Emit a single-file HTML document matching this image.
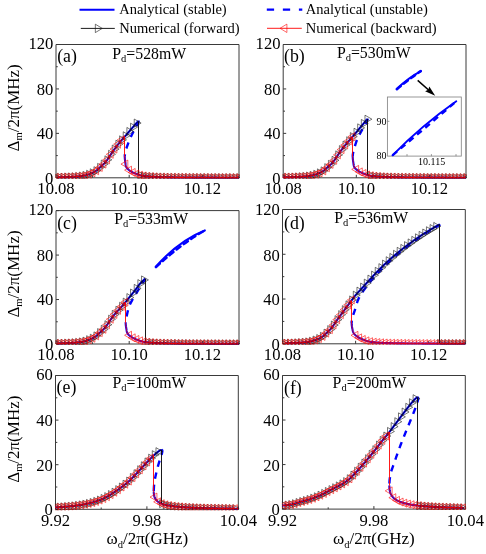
<!DOCTYPE html>
<html><head><meta charset="utf-8"><title>figure</title>
<style>html,body{margin:0;padding:0;background:#fff}svg{display:block;will-change:transform}text{font-family:"Liberation Serif",serif}</style></head>
<body>
<svg width="486" height="554" viewBox="0 0 486 554" font-family='"Liberation Serif", serif' fill="#000">
<rect width="486" height="554" fill="#fff"/>
<path d="M79.5 9.8H114.5" stroke="#0000ff" stroke-width="2.1" fill="none"/>
<path d="M266.8 9.7H302.3" stroke="#0000ff" stroke-width="2.3" stroke-dasharray="7.3 8.75" fill="none"/>
<path d="M80.8 28.4H114.8" stroke="#000000" stroke-width="0.9" fill="none"/>
<path d="M95.35 24.2 L95.35 32.6 L102.25 28.4Z" stroke="#1a1a1a" stroke-width="0.6" fill="none"/>
<path d="M267 28.3H301.8" stroke="#ff0000" stroke-width="0.9" fill="none"/>
<path d="M286.9 24.1 L286.9 32.5 L280 28.3Z" stroke="#ff0000" stroke-width="0.6" fill="none"/>
<text x="119.2" y="14.2" font-size="14.5">Analytical (stable)</text>
<text x="119.2" y="32.7" font-size="14.5">Numerical (forward)</text>
<text x="305.8" y="14.2" font-size="14.5">Analytical (unstable)</text>
<text x="305.8" y="32.7" font-size="14.5">Numerical (backward)</text>
<path d="M56 44.5H239V177.8H56ZM56 177.8h3M56 133.37h3M56 88.93h3M56 44.5h3M56 155.58h1.8M56 111.15h1.8M56 66.72h1.8M56 177.8v-3M129.2 177.8v-3M202.4 177.8v-3M92.6 177.8v-1.8M165.8 177.8v-1.8M239 177.8v-1.8" fill="none" stroke="#3a3a3a" stroke-width="1"/>
<text x="53.3" y="183.5" text-anchor="end" font-size="16.6">0</text>
<text x="53.3" y="139.07" text-anchor="end" font-size="16.6">40</text>
<text x="53.3" y="94.63" text-anchor="end" font-size="16.6">80</text>
<text x="53.3" y="49.3" text-anchor="end" font-size="16.6">120</text>
<text x="56" y="194" text-anchor="middle" font-size="16.6">10.08</text>
<text x="129.2" y="194" text-anchor="middle" font-size="16.6">10.10</text>
<text x="202.4" y="194" text-anchor="middle" font-size="16.6">10.12</text>
<text x="57.2" y="61.7" font-size="17.8">(a)</text>
<text x="112.3" y="58.5" font-size="15.8">P<tspan font-size="10.5" dy="3.1">d</tspan><tspan dy="-3.1">=528mW</tspan></text>
<path d="M283.2 44.5H466V177.8H283.2ZM283.2 177.8h3M283.2 133.37h3M283.2 88.93h3M283.2 44.5h3M283.2 155.58h1.8M283.2 111.15h1.8M283.2 66.72h1.8M283.2 177.8v-3M356.32 177.8v-3M429.44 177.8v-3M319.76 177.8v-1.8M392.88 177.8v-1.8M466 177.8v-1.8" fill="none" stroke="#3a3a3a" stroke-width="1"/>
<text x="280.5" y="183.5" text-anchor="end" font-size="16.6">0</text>
<text x="280.5" y="139.07" text-anchor="end" font-size="16.6">40</text>
<text x="280.5" y="94.63" text-anchor="end" font-size="16.6">80</text>
<text x="280.5" y="49.3" text-anchor="end" font-size="16.6">120</text>
<text x="283.2" y="194" text-anchor="middle" font-size="16.6">10.08</text>
<text x="356.32" y="194" text-anchor="middle" font-size="16.6">10.10</text>
<text x="429.44" y="194" text-anchor="middle" font-size="16.6">10.12</text>
<text x="284" y="61.7" font-size="17.8">(b)</text>
<text x="336.9" y="57.6" font-size="15.8">P<tspan font-size="10.5" dy="3.1">d</tspan><tspan dy="-3.1">=530mW</tspan></text>
<path d="M56 210.6H239V344H56ZM56 344h3M56 299.53h3M56 255.07h3M56 210.6h3M56 321.77h1.8M56 277.3h1.8M56 232.83h1.8M56 344v-3M129.2 344v-3M202.4 344v-3M92.6 344v-1.8M165.8 344v-1.8M239 344v-1.8" fill="none" stroke="#3a3a3a" stroke-width="1"/>
<text x="53.3" y="349.7" text-anchor="end" font-size="16.6">0</text>
<text x="53.3" y="305.23" text-anchor="end" font-size="16.6">40</text>
<text x="53.3" y="260.77" text-anchor="end" font-size="16.6">80</text>
<text x="53.3" y="215.4" text-anchor="end" font-size="16.6">120</text>
<text x="56" y="360.2" text-anchor="middle" font-size="16.6">10.08</text>
<text x="129.2" y="360.2" text-anchor="middle" font-size="16.6">10.10</text>
<text x="202.4" y="360.2" text-anchor="middle" font-size="16.6">10.12</text>
<text x="57.2" y="228.7" font-size="17.8">(c)</text>
<text x="114.2" y="223.8" font-size="15.8">P<tspan font-size="10.5" dy="3.1">d</tspan><tspan dy="-3.1">=533mW</tspan></text>
<path d="M282.5 209.5H465.3V343.8H282.5ZM282.5 343.8h3M282.5 299.03h3M282.5 254.27h3M282.5 209.5h3M282.5 321.42h1.8M282.5 276.65h1.8M282.5 231.88h1.8M282.5 343.8v-3M355.62 343.8v-3M428.74 343.8v-3M319.06 343.8v-1.8M392.18 343.8v-1.8M465.3 343.8v-1.8" fill="none" stroke="#3a3a3a" stroke-width="1"/>
<text x="279.8" y="349.7" text-anchor="end" font-size="16.6">0</text>
<text x="279.8" y="305.23" text-anchor="end" font-size="16.6">40</text>
<text x="279.8" y="260.77" text-anchor="end" font-size="16.6">80</text>
<text x="279.8" y="215.4" text-anchor="end" font-size="16.6">120</text>
<text x="282.5" y="360.2" text-anchor="middle" font-size="16.6">10.08</text>
<text x="355.62" y="360.2" text-anchor="middle" font-size="16.6">10.10</text>
<text x="428.74" y="360.2" text-anchor="middle" font-size="16.6">10.12</text>
<text x="284" y="228.7" font-size="17.8">(d)</text>
<text x="334.3" y="222.8" font-size="15.8">P<tspan font-size="10.5" dy="3.1">d</tspan><tspan dy="-3.1">=536mW</tspan></text>
<path d="M55.5 375.5H238.3V509.3H55.5ZM55.5 509.3h3M55.5 464.7h3M55.5 420.1h3M55.5 375.5h3M55.5 487h1.8M55.5 442.4h1.8M55.5 397.8h1.8M55.5 509.3v-3M146.9 509.3v-3M238.3 509.3v-3M101.2 509.3v-1.8M192.6 509.3v-1.8" fill="none" stroke="#3a3a3a" stroke-width="1"/>
<text x="52.8" y="515.2" text-anchor="end" font-size="16.6">0</text>
<text x="52.8" y="470.53" text-anchor="end" font-size="16.6">20</text>
<text x="52.8" y="425.87" text-anchor="end" font-size="16.6">40</text>
<text x="52.8" y="380.3" text-anchor="end" font-size="16.6">60</text>
<text x="55.5" y="525.7" text-anchor="middle" font-size="16.6">9.92</text>
<text x="146.9" y="525.7" text-anchor="middle" font-size="16.6">9.98</text>
<text x="238.3" y="525.7" text-anchor="middle" font-size="16.6">10.04</text>
<text x="56.6" y="393.2" font-size="17.8">(e)</text>
<text x="112.5" y="388" font-size="15.8">P<tspan font-size="10.5" dy="3.1">d</tspan><tspan dy="-3.1">=100mW</tspan></text>
<path d="M282.5 375.5H465.3V509.1H282.5ZM282.5 509.1h3M282.5 464.57h3M282.5 420.03h3M282.5 375.5h3M282.5 486.83h1.8M282.5 442.3h1.8M282.5 397.77h1.8M282.5 509.1v-3M373.9 509.1v-3M465.3 509.1v-3M328.2 509.1v-1.8M419.6 509.1v-1.8" fill="none" stroke="#3a3a3a" stroke-width="1"/>
<text x="279.8" y="515.2" text-anchor="end" font-size="16.6">0</text>
<text x="279.8" y="470.53" text-anchor="end" font-size="16.6">20</text>
<text x="279.8" y="425.87" text-anchor="end" font-size="16.6">40</text>
<text x="279.8" y="380.3" text-anchor="end" font-size="16.6">60</text>
<text x="282.5" y="525.7" text-anchor="middle" font-size="16.6">9.92</text>
<text x="373.9" y="525.7" text-anchor="middle" font-size="16.6">9.98</text>
<text x="465.3" y="525.7" text-anchor="middle" font-size="16.6">10.04</text>
<text x="284" y="393.5" font-size="17.8">(f)</text>
<text x="332.6" y="388" font-size="15.8">P<tspan font-size="10.5" dy="3.1">d</tspan><tspan dy="-3.1">=200mW</tspan></text>
<clipPath id="c0"><rect x="55.4" y="44.5" width="184.5" height="134.15"/></clipPath>
<g clip-path="url(#c0)" fill="none" stroke-linejoin="round">
<path d="M57.54 177.33 L59.14 177.3 L60.6 177.27 L61.93 177.24 L63.15 177.21 L64.28 177.18 L65.33 177.15 L66.3 177.12 L67.2 177.09 L68.05 177.06 L68.84 177.03 L69.59 176.99 L70.29 176.96 L70.96 176.93 L71.59 176.9 L72.19 176.87 L73.3 176.81 L74.3 176.75 L75.22 176.69 L76.07 176.62 L76.85 176.56 L77.57 176.5 L78.25 176.44 L78.88 176.38 L79.46 176.32 L80.02 176.26 L80.79 176.16 L81.49 176.07 L82.14 175.98 L82.74 175.89 L83.3 175.8 L83.83 175.71 L84.47 175.58 L85.06 175.46 L85.61 175.34 L86.1 175.22 L86.66 175.07 L87.16 174.92 L87.62 174.77 L88.12 174.59 L88.58 174.4 L89.03 174.22 L89.46 174.04 L89.89 173.86 L90.32 173.69 L90.77 173.51 L91.24 173.33 L91.7 173.15 L92.14 172.97 L92.62 172.76 L93.07 172.56 L93.49 172.35 L93.9 172.15 L94.33 171.91 L94.75 171.68 L95.14 171.44 L95.51 171.21 L95.9 170.95 L96.28 170.69 L96.63 170.43 L97 170.14 L97.36 169.85 L97.7 169.57 L98.02 169.28 L98.35 168.97 L98.67 168.66 L98.97 168.35 L99.28 168.04 L99.6 167.73 L99.92 167.43 L100.25 167.12 L100.58 166.82 L100.91 166.51 L101.25 166.21 L101.59 165.91 L101.92 165.61 L102.26 165.31 L102.59 165.01 L102.91 164.71 L103.23 164.42 L103.55 164.12 L103.85 163.83 L104.18 163.51 L104.49 163.19 L104.79 162.88 L105.08 162.56 L105.37 162.22 L105.65 161.88 L105.93 161.55 L106.19 161.21 L106.47 160.85 L106.74 160.49 L107.01 160.14 L107.26 159.78 L107.52 159.43 L107.78 159.06 L108.04 158.68 L108.29 158.31 L108.54 157.94 L108.78 157.57 L109.02 157.21 L109.26 156.84 L109.51 156.46 L109.75 156.08 L110 155.69 L110.24 155.32 L110.49 154.94 L110.73 154.57 L110.98 154.19 L111.22 153.82 L111.47 153.46 L111.72 153.09 L111.97 152.73 L112.21 152.37 L112.46 152.01 L112.71 151.66 L112.96 151.3 L113.21 150.95 L113.48 150.58 L113.74 150.21 L114 149.85 L114.27 149.48 L114.53 149.12 L114.79 148.76 L115.06 148.41 L115.32 148.05 L115.58 147.7 L115.84 147.36 L116.1 147.01 L116.35 146.67 L116.63 146.31 L116.9 145.95 L117.16 145.59 L117.43 145.24 L117.7 144.89 L117.96 144.55 L118.22 144.2 L118.48 143.86 L118.75 143.52 L119.02 143.19 L119.28 142.85 L119.56 142.52 L119.83 142.2 L120.12 141.86 L120.41 141.52 L120.7 141.18 L120.99 140.85 L121.28 140.52 L121.57 140.19 L121.86 139.87 L122.15 139.55 L122.43 139.23 L122.73 138.9 L123.02 138.57 L123.32 138.24 L123.6 137.92 L123.89 137.61 L124.19 137.28 L124.48 136.95 L124.77 136.63 L125.05 136.31 L125.34 135.98 L125.63 135.65 L125.91 135.33 L126.2 134.99 L126.49 134.67 L126.77 134.34 L127.05 134.01 L127.33 133.68 L127.61 133.34 L127.89 133.01 L128.17 132.67 L128.45 132.33 L128.73 132 L129.01 131.67 L129.29 131.34 L129.57 131.01 L129.85 130.68 L130.13 130.36 L130.41 130.03 L130.69 129.7 L130.97 129.38 L131.25 129.05 L131.53 128.72 L131.82 128.4 L132.1 128.07 L132.39 127.74 L132.67 127.41 L132.96 127.08 L133.24 126.75 L133.53 126.43 L133.81 126.1 L134.09 125.78 L134.38 125.45 L134.66 125.13 L134.94 124.81 L135.23 124.48 L135.51 124.16 L135.8 123.84 L136.08 123.52 L136.37 123.2 L136.66 122.89 L136.95 122.57 L137.24 122.26 L137.54 121.96 L137.85 121.67 L138.19 121.4 L138.5 121.26" stroke="#0000ff" stroke-width="2.1"/>
<path d="M124.77 156.82 L124.78 157.43 L124.8 158.01 L124.84 158.58 L124.89 159.15 L124.95 159.71 L125.02 160.26 L125.09 160.8 L125.17 161.34 L125.25 161.88 L125.34 162.4 L125.42 162.95 L125.48 163.51 L125.54 164.07 L125.6 164.63 L125.68 165.17 L125.79 165.69 L125.93 166.18 L126.1 166.62 L126.29 167.04 L126.51 167.43 L126.76 167.79 L127.02 168.12 L127.33 168.46 L127.64 168.77 L127.96 169.08 L128.3 169.4 L128.63 169.68 L128.97 169.97 L129.33 170.26 L129.68 170.52 L130.04 170.78 L130.42 171.04 L130.82 171.3 L131.2 171.53 L131.6 171.76 L132.02 172 L132.46 172.23 L132.88 172.44 L133.32 172.65 L133.78 172.85 L134.27 173.06 L134.72 173.24 L135.19 173.42 L135.65 173.6 L136.09 173.78 L136.52 173.95 L136.95 174.13 L137.39 174.31 L137.84 174.49 L138.32 174.68 L138.84 174.86 L139.32 175.01 L139.86 175.16 L140.46 175.31 L140.99 175.43 L141.57 175.55 L142.2 175.68 L142.71 175.77 L143.26 175.86 L143.84 175.95 L144.48 176.04 L145.16 176.13 L145.91 176.23 L146.73 176.32 L147.32 176.38 L147.94 176.44 L148.62 176.5 L149.34 176.56 L150.12 176.62 L150.97 176.69 L151.89 176.75 L152.9 176.81 L154 176.87 L154.6 176.9 L155.23 176.93 L155.9 176.96 L156.6 176.99 L157.35 177.03 L158.14 177.06 L158.99 177.09 L159.9 177.12 L160.87 177.15 L161.91 177.18 L163.04 177.21 L164.26 177.24 L165.59 177.27 L167.05 177.3 L168.65 177.33 L170.43 177.37 L172.4 177.4 L174.62 177.43 L177.13 177.46 L180 177.49 L183.35 177.52 L184.3 177.53 L185.24 177.53 L186.18 177.54 L187.13 177.55 L188.07 177.55 L189.01 177.56 L189.96 177.57 L190.9 177.57 L191.84 177.58 L192.79 177.58 L193.73 177.59 L194.67 177.59 L195.62 177.6 L196.56 177.6 L197.5 177.61 L198.44 177.61 L199.39 177.61 L200.33 177.62 L201.27 177.62 L202.22 177.63 L203.16 177.63 L204.1 177.63 L205.05 177.64 L205.99 177.64 L206.93 177.64 L207.88 177.65 L208.82 177.65 L209.76 177.65 L210.71 177.66 L211.65 177.66 L212.59 177.66 L213.53 177.66 L214.48 177.67 L215.42 177.67 L216.36 177.67 L217.31 177.67 L218.25 177.68 L219.19 177.68 L220.14 177.68 L221.08 177.68 L222.02 177.68 L222.97 177.69 L223.91 177.69 L224.85 177.69 L225.8 177.69 L226.74 177.69 L227.68 177.69 L228.63 177.7 L229.57 177.7 L230.51 177.7 L231.45 177.7 L232.4 177.7 L233.34 177.7 L234.28 177.71 L235.23 177.71 L236.17 177.71 L237.11 177.71 L238.06 177.71 L239 177.71" stroke="#0000ff" stroke-width="2.1"/>
<path d="M138.5 121.26 L138.54 121.27 L138.56 121.85 L138.41 122.3 L138.24 122.73 L138.05 123.15 L137.86 123.56 L137.66 123.97 L137.46 124.37 L137.25 124.76 L137.04 125.16 L136.83 125.55 L136.62 125.94 L136.41 126.34 L136.19 126.73 L135.97 127.12 L135.76 127.5 L135.54 127.89 L135.32 128.29 L135.1 128.67 L134.89 129.06 L134.67 129.44 L134.45 129.84 L134.24 130.23 L134.02 130.62 L133.81 131.01 L133.59 131.41 L133.38 131.8 L133.16 132.21 L132.95 132.6 L132.74 133.01 L132.54 133.41 L132.33 133.82 L132.12 134.22 L131.92 134.62 L131.71 135.04 L131.51 135.44 L131.31 135.86 L131.11 136.28 L130.92 136.69 L130.73 137.1 L130.54 137.53 L130.35 137.96 L130.16 138.37 L129.98 138.8 L129.8 139.23 L129.62 139.66 L129.44 140.1 L129.27 140.53 L129.1 140.97 L128.93 141.41 L128.76 141.86 L128.59 142.31 L128.43 142.74 L128.26 143.19 L128.1 143.64 L127.93 144.09 L127.77 144.53 L127.6 144.97 L127.43 145.42 L127.26 145.87 L127.1 146.33 L126.94 146.77 L126.78 147.21 L126.62 147.66 L126.47 148.12 L126.32 148.57 L126.17 149.04 L126.03 149.5 L125.89 149.97 L125.75 150.45 L125.62 150.93 L125.5 151.41 L125.38 151.9 L125.27 152.39 L125.17 152.91 L125.07 153.43 L124.99 153.96 L124.91 154.5 L124.85 155.06 L124.81 155.62 L124.78 156.22 L124.77 156.82" stroke="#0000ff" stroke-width="2.4" stroke-dasharray="6.4 5.9" stroke-dashoffset="1" stroke-linecap="butt"/>
<path d="M57.54 177.33 L59.14 177.3 L60.6 177.27 L61.93 177.24 L63.15 177.21 L64.28 177.18 L65.33 177.15 L66.3 177.12 L67.2 177.09 L68.05 177.06 L68.84 177.03 L69.59 176.99 L70.29 176.96 L70.96 176.93 L71.59 176.9 L72.19 176.87 L73.3 176.81 L74.3 176.75 L75.22 176.69 L76.07 176.62 L76.85 176.56 L77.57 176.5 L78.25 176.44 L78.88 176.38 L79.46 176.32 L80.02 176.26 L80.79 176.16 L81.49 176.07 L82.14 175.98 L82.74 175.89 L83.3 175.8 L83.83 175.71 L84.47 175.58 L85.06 175.46 L85.61 175.34 L86.1 175.22 L86.66 175.07 L87.16 174.92 L87.62 174.77 L88.12 174.59 L88.58 174.4 L89.03 174.22 L89.46 174.04 L89.89 173.86 L90.32 173.69 L90.77 173.51 L91.24 173.33 L91.7 173.15 L92.14 172.97 L92.62 172.76 L93.07 172.56 L93.49 172.35 L93.9 172.15 L94.33 171.91 L94.75 171.68 L95.14 171.44 L95.51 171.21 L95.9 170.95 L96.28 170.69 L96.63 170.43 L97 170.14 L97.36 169.85 L97.7 169.57 L98.02 169.28 L98.35 168.97 L98.67 168.66 L98.97 168.35 L99.28 168.04 L99.6 167.73 L99.92 167.43 L100.25 167.12 L100.58 166.82 L100.91 166.51 L101.25 166.21 L101.59 165.91 L101.92 165.61 L102.26 165.31 L102.59 165.01 L102.91 164.71 L103.23 164.42 L103.55 164.12 L103.85 163.83 L104.18 163.51 L104.49 163.19 L104.79 162.88 L105.08 162.56 L105.37 162.22 L105.65 161.88 L105.93 161.55 L106.19 161.21 L106.47 160.85 L106.74 160.49 L107.01 160.14 L107.26 159.78 L107.52 159.43 L107.78 159.06 L108.04 158.68 L108.29 158.31 L108.54 157.94 L108.78 157.57 L109.02 157.21 L109.26 156.84 L109.51 156.46 L109.75 156.08 L110 155.69 L110.24 155.32 L110.49 154.94 L110.73 154.57 L110.98 154.19 L111.22 153.82 L111.47 153.46 L111.72 153.09 L111.97 152.73 L112.21 152.37 L112.46 152.01 L112.71 151.66 L112.96 151.3 L113.21 150.95 L113.48 150.58 L113.74 150.21 L114 149.85 L114.27 149.48 L114.53 149.12 L114.79 148.76 L115.06 148.41 L115.32 148.05 L115.58 147.7 L115.84 147.36 L116.1 147.01 L116.35 146.67 L116.63 146.31 L116.9 145.95 L117.16 145.59 L117.43 145.24 L117.7 144.89 L117.96 144.55 L118.22 144.2 L118.48 143.86 L118.75 143.52 L119.02 143.19 L119.28 142.85 L119.56 142.52 L119.83 142.2 L120.12 141.86 L120.41 141.52 L120.7 141.18 L120.99 140.85 L121.28 140.52 L121.57 140.19 L121.86 139.87 L122.15 139.55 L122.43 139.23 L122.73 138.9 L123.02 138.57 L123.32 138.24 L123.6 137.92 L123.89 137.61 L124.19 137.28 L124.48 136.95 L124.77 136.63 L125.05 136.31 L125.34 135.98 L125.63 135.65 L125.91 135.33 L126.2 134.99 L126.49 134.67 L126.77 134.34 L127.05 134.01 L127.33 133.68 L127.61 133.34 L127.89 133.01 L128.17 132.67 L128.45 132.33 L128.73 132 L129.01 131.67 L129.29 131.34 L129.57 131.01 L129.85 130.68 L130.13 130.36 L130.41 130.03 L130.69 129.7 L130.97 129.38 L131.25 129.05 L131.53 128.72 L131.82 128.4 L132.1 128.07 L132.39 127.74 L132.67 127.41 L132.96 127.08 L133.24 126.75 L133.53 126.43 L133.81 126.1 L134.09 125.78 L134.38 125.45 L134.66 125.13 L134.94 124.81 L135.23 124.48 L135.51 124.16 L135.8 123.84 L136.08 123.52 L136.37 123.2 L136.66 122.89 L136.95 122.57 L137.24 122.26 L137.54 121.96 L137.85 121.67 L138.19 121.4 L138.5 121.26 L138.5 121.26 L138.5 174.74 L138.84 174.86 L139.32 175.01 L139.86 175.16 L140.46 175.31 L140.99 175.43 L141.57 175.55 L142.2 175.68 L142.71 175.77 L143.26 175.86 L143.84 175.95 L144.48 176.04 L145.16 176.13 L145.91 176.23 L146.73 176.32 L147.32 176.38 L147.94 176.44 L148.62 176.5 L149.34 176.56 L150.12 176.62 L150.97 176.69 L151.89 176.75 L152.9 176.81 L154 176.87 L154.6 176.9 L155.23 176.93 L155.9 176.96 L156.6 176.99 L157.35 177.03 L158.14 177.06 L158.99 177.09 L159.9 177.12 L160.87 177.15 L161.91 177.18 L163.04 177.21 L164.26 177.24 L165.59 177.27 L167.05 177.3 L168.65 177.33 L170.43 177.37 L172.4 177.4 L174.62 177.43 L177.13 177.46 L180 177.49 L183.35 177.52 L184.3 177.53 L185.24 177.53 L186.18 177.54 L187.13 177.55 L188.07 177.55 L189.01 177.56 L189.96 177.57 L190.9 177.57 L191.84 177.58 L192.79 177.58 L193.73 177.59 L194.67 177.59 L195.62 177.6 L196.56 177.6 L197.5 177.61 L198.44 177.61 L199.39 177.61 L200.33 177.62 L201.27 177.62 L202.22 177.63 L203.16 177.63 L204.1 177.63 L205.05 177.64 L205.99 177.64 L206.93 177.64 L207.88 177.65 L208.82 177.65 L209.76 177.65 L210.71 177.66 L211.65 177.66 L212.59 177.66 L213.53 177.66 L214.48 177.67 L215.42 177.67 L216.36 177.67 L217.31 177.67 L218.25 177.68 L219.19 177.68 L220.14 177.68 L221.08 177.68 L222.02 177.68 L222.97 177.69 L223.91 177.69 L224.85 177.69 L225.8 177.69 L226.74 177.69 L227.68 177.69 L228.63 177.7 L229.57 177.7 L230.51 177.7 L231.45 177.7 L232.4 177.7 L233.34 177.7 L234.28 177.71 L235.23 177.71 L236.17 177.71 L237.11 177.71 L238.06 177.71 L239 177.71" stroke="#000000" stroke-width="0.9"/>
<path d="M53.7 173.36 L53.7 181.36 L60.6 177.36ZM57.36 173.29 L57.36 181.29 L64.26 177.29ZM61.02 173.21 L61.02 181.21 L67.92 177.21ZM64.68 173.09 L64.68 181.09 L71.58 177.09ZM68.34 172.95 L68.34 180.95 L75.24 176.95ZM72 172.75 L72 180.75 L78.9 176.75ZM75.66 172.47 L75.66 180.47 L82.56 176.47ZM79.32 172.05 L79.32 180.05 L86.22 176.05ZM82.98 171.42 L82.98 179.42 L89.88 175.42ZM86.64 170.26 L86.64 178.26 L93.54 174.26ZM90.3 168.77 L90.3 176.77 L97.2 172.77ZM93.96 166.7 L93.96 174.7 L100.86 170.7ZM97.62 163.43 L97.62 171.43 L104.52 167.43ZM101.28 160.09 L101.28 168.09 L108.18 164.09ZM104.94 155.82 L104.94 163.82 L111.84 159.82ZM108.6 150.31 L108.6 158.31 L115.5 154.31ZM112.26 145.08 L112.26 153.08 L119.16 149.08ZM115.92 140.2 L115.92 148.2 L122.82 144.2ZM119.58 135.84 L119.58 143.84 L126.48 139.84ZM123.24 131.76 L123.24 139.76 L130.14 135.76ZM126.9 127.44 L126.9 135.44 L133.8 131.44ZM130.56 123.19 L130.56 131.19 L137.46 127.19ZM134.22 119.04 L134.22 127.04 L141.12 123.04ZM137.88 171.24 L137.88 179.24 L144.78 175.24ZM141.54 171.95 L141.54 179.95 L148.44 175.95ZM145.2 172.4 L145.2 180.4 L152.1 176.4ZM148.86 172.7 L148.86 180.7 L155.76 176.7ZM152.52 172.91 L152.52 180.91 L159.42 176.91ZM156.18 173.07 L156.18 181.07 L163.08 177.07ZM159.84 173.19 L159.84 181.19 L166.74 177.19ZM163.5 173.28 L163.5 181.28 L170.4 177.28ZM167.16 173.35 L167.16 181.35 L174.06 177.35ZM170.82 173.41 L170.82 181.41 L177.72 177.41ZM174.48 173.45 L174.48 181.45 L181.38 177.45ZM178.14 173.49 L178.14 181.49 L185.04 177.49ZM181.8 173.53 L181.8 181.53 L188.7 177.53ZM185.46 173.55 L185.46 181.55 L192.36 177.55ZM189.12 173.58 L189.12 181.58 L196.02 177.58ZM192.78 173.59 L192.78 181.59 L199.68 177.59ZM196.44 173.61 L196.44 181.61 L203.34 177.61ZM200.1 173.63 L200.1 181.63 L207 177.63ZM203.76 173.64 L203.76 181.64 L210.66 177.64ZM207.42 173.65 L207.42 181.65 L214.32 177.65ZM211.08 173.66 L211.08 181.66 L217.98 177.66ZM214.74 173.67 L214.74 181.67 L221.64 177.67ZM218.4 173.68 L218.4 181.68 L225.3 177.68ZM222.06 173.69 L222.06 181.69 L228.96 177.69ZM225.72 173.7 L225.72 181.7 L232.62 177.7ZM229.38 173.7 L229.38 181.7 L236.28 177.7ZM233.04 173.71 L233.04 181.71 L239.94 177.71ZM236.7 173.71 L236.7 181.71 L243.6 177.71Z" stroke="#1a1a1a" stroke-width="0.6" stroke-linejoin="miter"/>
<path d="M57.54 177.33 L59.14 177.3 L60.6 177.27 L61.93 177.24 L63.15 177.21 L64.28 177.18 L65.33 177.15 L66.3 177.12 L67.2 177.09 L68.05 177.06 L68.84 177.03 L69.59 176.99 L70.29 176.96 L70.96 176.93 L71.59 176.9 L72.19 176.87 L73.3 176.81 L74.3 176.75 L75.22 176.69 L76.07 176.62 L76.85 176.56 L77.57 176.5 L78.25 176.44 L78.88 176.38 L79.46 176.32 L80.02 176.26 L80.79 176.16 L81.49 176.07 L82.14 175.98 L82.74 175.89 L83.3 175.8 L83.83 175.71 L84.47 175.58 L85.06 175.46 L85.61 175.34 L86.1 175.22 L86.66 175.07 L87.16 174.92 L87.62 174.77 L88.12 174.59 L88.58 174.4 L89.03 174.22 L89.46 174.04 L89.89 173.86 L90.32 173.69 L90.77 173.51 L91.24 173.33 L91.7 173.15 L92.14 172.97 L92.62 172.76 L93.07 172.56 L93.49 172.35 L93.9 172.15 L94.33 171.91 L94.75 171.68 L95.14 171.44 L95.51 171.21 L95.9 170.95 L96.28 170.69 L96.63 170.43 L97 170.14 L97.36 169.85 L97.7 169.57 L98.02 169.28 L98.35 168.97 L98.67 168.66 L98.97 168.35 L99.28 168.04 L99.6 167.73 L99.92 167.43 L100.25 167.12 L100.58 166.82 L100.91 166.51 L101.25 166.21 L101.59 165.91 L101.92 165.61 L102.26 165.31 L102.59 165.01 L102.91 164.71 L103.23 164.42 L103.55 164.12 L103.85 163.83 L104.18 163.51 L104.49 163.19 L104.79 162.88 L105.08 162.56 L105.37 162.22 L105.65 161.88 L105.93 161.55 L106.19 161.21 L106.47 160.85 L106.74 160.49 L107.01 160.14 L107.26 159.78 L107.52 159.43 L107.78 159.06 L108.04 158.68 L108.29 158.31 L108.54 157.94 L108.78 157.57 L109.02 157.21 L109.26 156.84 L109.51 156.46 L109.75 156.08 L110 155.69 L110.24 155.32 L110.49 154.94 L110.73 154.57 L110.98 154.19 L111.22 153.82 L111.47 153.46 L111.72 153.09 L111.97 152.73 L112.21 152.37 L112.46 152.01 L112.71 151.66 L112.96 151.3 L113.21 150.95 L113.48 150.58 L113.74 150.21 L114 149.85 L114.27 149.48 L114.53 149.12 L114.79 148.76 L115.06 148.41 L115.32 148.05 L115.58 147.7 L115.84 147.36 L116.1 147.01 L116.35 146.67 L116.63 146.31 L116.9 145.95 L117.16 145.59 L117.43 145.24 L117.7 144.89 L117.96 144.55 L118.22 144.2 L118.48 143.86 L118.75 143.52 L119.02 143.19 L119.28 142.85 L119.56 142.52 L119.83 142.2 L120.12 141.86 L120.41 141.52 L120.7 141.18 L120.99 140.85 L121.28 140.52 L121.57 140.19 L121.86 139.87 L122.15 139.55 L122.43 139.23 L122.73 138.9 L123.02 138.57 L123.32 138.24 L123.6 137.92 L123.89 137.61 L124.19 137.28 L124.48 136.95 L124.77 136.63 L124.5 136.62 L124.5 156.82 L124.77 156.82 L124.78 157.43 L124.8 158.01 L124.84 158.58 L124.89 159.15 L124.95 159.71 L125.02 160.26 L125.09 160.8 L125.17 161.34 L125.25 161.88 L125.34 162.4 L125.42 162.95 L125.48 163.51 L125.54 164.07 L125.6 164.63 L125.68 165.17 L125.79 165.69 L125.93 166.18 L126.1 166.62 L126.29 167.04 L126.51 167.43 L126.76 167.79 L127.02 168.12 L127.33 168.46 L127.64 168.77 L127.96 169.08 L128.3 169.4 L128.63 169.68 L128.97 169.97 L129.33 170.26 L129.68 170.52 L130.04 170.78 L130.42 171.04 L130.82 171.3 L131.2 171.53 L131.6 171.76 L132.02 172 L132.46 172.23 L132.88 172.44 L133.32 172.65 L133.78 172.85 L134.27 173.06 L134.72 173.24 L135.19 173.42 L135.65 173.6 L136.09 173.78 L136.52 173.95 L136.95 174.13 L137.39 174.31 L137.84 174.49 L138.32 174.68 L138.84 174.86 L139.32 175.01 L139.86 175.16 L140.46 175.31 L140.99 175.43 L141.57 175.55 L142.2 175.68 L142.71 175.77 L143.26 175.86 L143.84 175.95 L144.48 176.04 L145.16 176.13 L145.91 176.23 L146.73 176.32 L147.32 176.38 L147.94 176.44 L148.62 176.5 L149.34 176.56 L150.12 176.62 L150.97 176.69 L151.89 176.75 L152.9 176.81 L154 176.87 L154.6 176.9 L155.23 176.93 L155.9 176.96 L156.6 176.99 L157.35 177.03 L158.14 177.06 L158.99 177.09 L159.9 177.12 L160.87 177.15 L161.91 177.18 L163.04 177.21 L164.26 177.24 L165.59 177.27 L167.05 177.3 L168.65 177.33 L170.43 177.37 L172.4 177.4 L174.62 177.43 L177.13 177.46 L180 177.49 L183.35 177.52 L184.3 177.53 L185.24 177.53 L186.18 177.54 L187.13 177.55 L188.07 177.55 L189.01 177.56 L189.96 177.57 L190.9 177.57 L191.84 177.58 L192.79 177.58 L193.73 177.59 L194.67 177.59 L195.62 177.6 L196.56 177.6 L197.5 177.61 L198.44 177.61 L199.39 177.61 L200.33 177.62 L201.27 177.62 L202.22 177.63 L203.16 177.63 L204.1 177.63 L205.05 177.64 L205.99 177.64 L206.93 177.64 L207.88 177.65 L208.82 177.65 L209.76 177.65 L210.71 177.66 L211.65 177.66 L212.59 177.66 L213.53 177.66 L214.48 177.67 L215.42 177.67 L216.36 177.67 L217.31 177.67 L218.25 177.68 L219.19 177.68 L220.14 177.68 L221.08 177.68 L222.02 177.68 L222.97 177.69 L223.91 177.69 L224.85 177.69 L225.8 177.69 L226.74 177.69 L227.68 177.69 L228.63 177.7 L229.57 177.7 L230.51 177.7 L231.45 177.7 L232.4 177.7 L233.34 177.7 L234.28 177.71 L235.23 177.71 L236.17 177.71 L237.11 177.71 L238.06 177.71 L239 177.71" stroke="#ff0000" stroke-width="0.9"/>
<path d="M58.3 173.36 L58.3 181.36 L51.4 177.36ZM61.96 173.29 L61.96 181.29 L55.06 177.29ZM65.62 173.21 L65.62 181.21 L58.72 177.21ZM69.28 173.09 L69.28 181.09 L62.38 177.09ZM72.94 172.95 L72.94 180.95 L66.04 176.95ZM76.6 172.75 L76.6 180.75 L69.7 176.75ZM80.26 172.47 L80.26 180.47 L73.36 176.47ZM83.92 172.05 L83.92 180.05 L77.02 176.05ZM87.58 171.42 L87.58 179.42 L80.68 175.42ZM91.24 170.26 L91.24 178.26 L84.34 174.26ZM94.9 168.77 L94.9 176.77 L88 172.77ZM98.56 166.7 L98.56 174.7 L91.66 170.7ZM102.22 163.43 L102.22 171.43 L95.32 167.43ZM105.88 160.09 L105.88 168.09 L98.98 164.09ZM109.54 155.82 L109.54 163.82 L102.64 159.82ZM113.2 150.31 L113.2 158.31 L106.3 154.31ZM116.86 145.08 L116.86 153.08 L109.96 149.08ZM120.52 140.2 L120.52 148.2 L113.62 144.2ZM124.18 135.84 L124.18 143.84 L117.28 139.84ZM127.84 160.1 L127.84 168.1 L120.94 164.1ZM131.5 166.15 L131.5 174.15 L124.6 170.15ZM135.16 168.43 L135.16 176.43 L128.26 172.43ZM138.82 169.95 L138.82 177.95 L131.92 173.95ZM142.48 171.24 L142.48 179.24 L135.58 175.24ZM146.14 171.95 L146.14 179.95 L139.24 175.95ZM149.8 172.4 L149.8 180.4 L142.9 176.4ZM153.46 172.7 L153.46 180.7 L146.56 176.7ZM157.12 172.91 L157.12 180.91 L150.22 176.91ZM160.78 173.07 L160.78 181.07 L153.88 177.07ZM164.44 173.19 L164.44 181.19 L157.54 177.19ZM168.1 173.28 L168.1 181.28 L161.2 177.28ZM171.76 173.35 L171.76 181.35 L164.86 177.35ZM175.42 173.41 L175.42 181.41 L168.52 177.41ZM179.08 173.45 L179.08 181.45 L172.18 177.45ZM182.74 173.49 L182.74 181.49 L175.84 177.49ZM186.4 173.53 L186.4 181.53 L179.5 177.53ZM190.06 173.55 L190.06 181.55 L183.16 177.55ZM193.72 173.58 L193.72 181.58 L186.82 177.58ZM197.38 173.59 L197.38 181.59 L190.48 177.59ZM201.04 173.61 L201.04 181.61 L194.14 177.61ZM204.7 173.63 L204.7 181.63 L197.8 177.63ZM208.36 173.64 L208.36 181.64 L201.46 177.64ZM212.02 173.65 L212.02 181.65 L205.12 177.65ZM215.68 173.66 L215.68 181.66 L208.78 177.66ZM219.34 173.67 L219.34 181.67 L212.44 177.67ZM223 173.68 L223 181.68 L216.1 177.68ZM226.66 173.69 L226.66 181.69 L219.76 177.69ZM230.32 173.7 L230.32 181.7 L223.42 177.7ZM233.98 173.7 L233.98 181.7 L227.08 177.7ZM237.64 173.71 L237.64 181.71 L230.74 177.71ZM241.3 173.71 L241.3 181.71 L234.4 177.71Z" stroke="#ff0000" stroke-width="0.6" stroke-linejoin="miter"/>
</g>
<clipPath id="c1"><rect x="282.6" y="44.5" width="184.3" height="134.15"/></clipPath>
<g clip-path="url(#c1)" fill="none" stroke-linejoin="round">
<path d="M283.45 177.35 L285.22 177.32 L286.82 177.28 L288.27 177.25 L289.6 177.22 L290.82 177.19 L291.94 177.16 L292.98 177.12 L293.95 177.09 L294.86 177.06 L295.7 177.03 L296.49 176.99 L297.24 176.96 L297.94 176.93 L298.6 176.9 L299.23 176.87 L299.83 176.83 L300.93 176.77 L301.94 176.71 L302.86 176.64 L303.7 176.58 L304.48 176.51 L305.2 176.45 L305.87 176.39 L306.5 176.32 L307.09 176.26 L307.64 176.2 L308.41 176.1 L309.11 176 L309.76 175.91 L310.36 175.81 L310.92 175.72 L311.44 175.62 L312.08 175.5 L312.67 175.37 L313.21 175.24 L313.69 175.12 L314.24 174.96 L314.73 174.8 L315.18 174.65 L315.69 174.46 L316.16 174.27 L316.62 174.08 L317.07 173.9 L317.53 173.71 L318 173.52 L318.5 173.34 L318.99 173.15 L319.45 172.97 L319.88 172.78 L320.36 172.57 L320.82 172.35 L321.24 172.14 L321.65 171.92 L322.09 171.68 L322.5 171.44 L322.89 171.19 L323.26 170.95 L323.66 170.68 L324.03 170.41 L324.39 170.14 L324.72 169.87 L325.08 169.57 L325.42 169.27 L325.74 168.98 L326.05 168.68 L326.37 168.36 L326.7 168.04 L327.03 167.72 L327.34 167.42 L327.66 167.13 L327.97 166.84 L328.3 166.56 L328.62 166.27 L328.94 165.98 L329.26 165.7 L329.58 165.41 L329.9 165.13 L330.24 164.82 L330.58 164.51 L330.92 164.2 L331.24 163.89 L331.56 163.59 L331.86 163.28 L332.18 162.95 L332.49 162.62 L332.78 162.29 L333.05 161.96 L333.34 161.61 L333.62 161.26 L333.9 160.91 L334.17 160.56 L334.43 160.21 L334.7 159.84 L334.97 159.47 L335.23 159.1 L335.48 158.73 L335.73 158.37 L335.98 158.01 L336.22 157.65 L336.47 157.26 L336.72 156.88 L336.97 156.5 L337.22 156.12 L337.46 155.74 L337.7 155.37 L337.94 155 L338.18 154.63 L338.43 154.26 L338.67 153.9 L338.91 153.53 L339.16 153.17 L339.41 152.81 L339.65 152.45 L339.9 152.1 L340.14 151.74 L340.41 151.37 L340.67 151 L340.94 150.63 L341.21 150.26 L341.48 149.89 L341.76 149.53 L342.03 149.17 L342.31 148.81 L342.59 148.46 L342.87 148.1 L343.15 147.75 L343.43 147.4 L343.7 147.06 L343.98 146.71 L344.26 146.37 L344.54 146.03 L344.81 145.69 L345.09 145.36 L345.36 145.03 L345.64 144.68 L345.93 144.33 L346.21 143.98 L346.5 143.64 L346.78 143.3 L347.07 142.96 L347.36 142.63 L347.65 142.29 L347.94 141.96 L348.23 141.63 L348.52 141.31 L348.8 140.99 L349.09 140.67 L349.37 140.35 L349.67 140.02 L349.97 139.69 L350.26 139.36 L350.55 139.03 L350.83 138.71 L351.11 138.39 L351.41 138.06 L351.7 137.73 L351.98 137.4 L352.27 137.08 L352.56 136.74 L352.85 136.41 L353.13 136.08 L353.41 135.75 L353.69 135.42 L353.98 135.09 L354.26 134.76 L354.53 134.43 L354.81 134.09 L355.09 133.75 L355.36 133.42 L355.64 133.07 L355.91 132.74 L356.18 132.4 L356.46 132.06 L356.74 131.72 L357.01 131.39 L357.29 131.06 L357.56 130.72 L357.84 130.39 L358.12 130.05 L358.4 129.71 L358.68 129.39 L358.96 129.05 L359.23 128.72 L359.51 128.38 L359.79 128.06 L360.07 127.72 L360.34 127.4 L360.62 127.06 L360.9 126.73 L361.18 126.39 L361.46 126.06 L361.73 125.73 L362.01 125.4 L362.28 125.07 L362.56 124.74 L362.83 124.41 L363.11 124.07 L363.38 123.74 L363.66 123.4 L363.93 123.08 L364.2 122.75 L364.48 122.41 L364.75 122.08 L365.02 121.75 L365.3 121.42 L365.57 121.09 L365.84 120.76 L366.11 120.42 L366.38 120.09 L366.66 119.78 L366.96 119.47 L367.28 119.19 L367.58 119.04" stroke="#0000ff" stroke-width="2.1"/>
<path d="M352.72 156.75 L352.73 157.36 L352.75 157.96 L352.79 158.53 L352.84 159.1 L352.9 159.65 L352.97 160.21 L353.05 160.75 L353.13 161.28 L353.22 161.83 L353.31 162.34 L353.39 162.87 L353.45 163.42 L353.52 163.98 L353.58 164.54 L353.66 165.07 L353.77 165.58 L353.9 166.07 L354.07 166.53 L354.27 166.96 L354.5 167.37 L354.75 167.74 L355.03 168.1 L355.32 168.42 L355.65 168.74 L355.96 169.04 L356.28 169.33 L356.63 169.63 L356.99 169.93 L357.33 170.2 L357.69 170.47 L358.07 170.74 L358.47 171.01 L358.84 171.25 L359.24 171.5 L359.66 171.74 L360.05 171.95 L360.45 172.17 L360.88 172.38 L361.34 172.6 L361.82 172.81 L362.26 173 L362.73 173.18 L363.22 173.37 L363.71 173.55 L364.18 173.74 L364.64 173.93 L365.1 174.12 L365.56 174.3 L366.03 174.49 L366.54 174.68 L367 174.84 L367.5 174.99 L368.06 175.15 L368.56 175.28 L369.11 175.4 L369.71 175.53 L370.37 175.66 L370.9 175.75 L371.47 175.85 L372.09 175.94 L372.76 176.04 L373.48 176.13 L374.27 176.23 L374.84 176.29 L375.45 176.36 L376.09 176.42 L376.79 176.48 L377.54 176.55 L378.35 176.61 L379.23 176.67 L380.19 176.74 L381.24 176.8 L382.41 176.87 L383.03 176.9 L383.7 176.93 L384.4 176.96 L385.15 176.99 L385.94 177.03 L386.78 177.06 L387.68 177.09 L388.65 177.12 L389.69 177.16 L390.82 177.19 L392.04 177.22 L393.37 177.25 L394.82 177.28 L396.42 177.32 L398.19 177.35 L400.16 177.38 L402.38 177.41 L404.88 177.44 L407.76 177.48 L411.1 177.51 L412.03 177.52 L412.96 177.52 L413.89 177.53 L414.82 177.54 L415.75 177.54 L416.68 177.55 L417.61 177.56 L418.54 177.56 L419.48 177.57 L420.41 177.57 L421.34 177.58 L422.27 177.58 L423.2 177.59 L424.13 177.59 L425.06 177.6 L425.99 177.6 L426.92 177.61 L427.85 177.61 L428.78 177.61 L429.71 177.62 L430.64 177.62 L431.57 177.63 L432.5 177.63 L433.43 177.63 L434.36 177.64 L435.29 177.64 L436.22 177.64 L437.15 177.65 L438.09 177.65 L439.02 177.65 L439.95 177.65 L440.88 177.66 L441.81 177.66 L442.74 177.66 L443.67 177.66 L444.6 177.67 L445.53 177.67 L446.46 177.67 L447.39 177.67 L448.32 177.68 L449.25 177.68 L450.18 177.68 L451.11 177.68 L452.04 177.68 L452.97 177.69 L453.9 177.69 L454.83 177.69 L455.76 177.69 L456.7 177.69 L457.63 177.69 L458.56 177.7 L459.49 177.7 L460.42 177.7 L461.35 177.7 L462.28 177.7 L463.21 177.7 L464.14 177.71 L465.07 177.71 L466 177.71" stroke="#0000ff" stroke-width="2.1"/>
<path d="M367.58 119.04 L367.67 119.2 L367.56 119.69 L367.41 120.14 L367.25 120.58 L367.07 121 L366.88 121.42 L366.68 121.82 L366.48 122.22 L366.27 122.62 L366.06 123.02 L365.85 123.4 L365.63 123.8 L365.42 124.18 L365.2 124.57 L364.98 124.96 L364.76 125.34 L364.53 125.73 L364.31 126.11 L364.09 126.5 L363.86 126.88 L363.64 127.26 L363.41 127.64 L363.19 128.02 L362.96 128.41 L362.74 128.79 L362.51 129.17 L362.29 129.56 L362.07 129.94 L361.84 130.34 L361.62 130.72 L361.4 131.11 L361.18 131.5 L360.96 131.89 L360.74 132.29 L360.52 132.68 L360.31 133.07 L360.09 133.48 L359.88 133.87 L359.67 134.27 L359.46 134.68 L359.25 135.07 L359.05 135.47 L358.84 135.88 L358.64 136.29 L358.43 136.71 L358.23 137.11 L358.04 137.52 L357.84 137.94 L357.65 138.36 L357.46 138.78 L357.28 139.21 L357.1 139.65 L356.92 140.09 L356.75 140.54 L356.58 140.99 L356.41 141.44 L356.25 141.9 L356.09 142.37 L355.94 142.82 L355.79 143.28 L355.65 143.74 L355.5 144.21 L355.35 144.68 L355.2 145.15 L355.06 145.61 L354.91 146.07 L354.77 146.54 L354.63 147.01 L354.49 147.49 L354.35 147.97 L354.22 148.46 L354.08 148.95 L353.95 149.44 L353.82 149.92 L353.69 150.4 L353.57 150.88 L353.44 151.37 L353.33 151.86 L353.22 152.36 L353.11 152.86 L353.02 153.39 L352.93 153.92 L352.86 154.46 L352.8 155 L352.76 155.57 L352.73 156.15 L352.72 156.75" stroke="#0000ff" stroke-width="2.4" stroke-dasharray="6.4 5.9" stroke-dashoffset="1" stroke-linecap="butt"/>
<path d="M396.7 89Q407.65 78.35 420.8 71.1" stroke="#0000ff" stroke-width="2.1" stroke-linecap="round"/>
<path d="M396.9 89.3Q408.45 79.55 420.8 71.1" stroke="#0000ff" stroke-width="2.5" stroke-dasharray="5 4" stroke-linecap="round"/>
<path d="M283.45 177.35 L285.22 177.32 L286.82 177.28 L288.27 177.25 L289.6 177.22 L290.82 177.19 L291.94 177.16 L292.98 177.12 L293.95 177.09 L294.86 177.06 L295.7 177.03 L296.49 176.99 L297.24 176.96 L297.94 176.93 L298.6 176.9 L299.23 176.87 L299.83 176.83 L300.93 176.77 L301.94 176.71 L302.86 176.64 L303.7 176.58 L304.48 176.51 L305.2 176.45 L305.87 176.39 L306.5 176.32 L307.09 176.26 L307.64 176.2 L308.41 176.1 L309.11 176 L309.76 175.91 L310.36 175.81 L310.92 175.72 L311.44 175.62 L312.08 175.5 L312.67 175.37 L313.21 175.24 L313.69 175.12 L314.24 174.96 L314.73 174.8 L315.18 174.65 L315.69 174.46 L316.16 174.27 L316.62 174.08 L317.07 173.9 L317.53 173.71 L318 173.52 L318.5 173.34 L318.99 173.15 L319.45 172.97 L319.88 172.78 L320.36 172.57 L320.82 172.35 L321.24 172.14 L321.65 171.92 L322.09 171.68 L322.5 171.44 L322.89 171.19 L323.26 170.95 L323.66 170.68 L324.03 170.41 L324.39 170.14 L324.72 169.87 L325.08 169.57 L325.42 169.27 L325.74 168.98 L326.05 168.68 L326.37 168.36 L326.7 168.04 L327.03 167.72 L327.34 167.42 L327.66 167.13 L327.97 166.84 L328.3 166.56 L328.62 166.27 L328.94 165.98 L329.26 165.7 L329.58 165.41 L329.9 165.13 L330.24 164.82 L330.58 164.51 L330.92 164.2 L331.24 163.89 L331.56 163.59 L331.86 163.28 L332.18 162.95 L332.49 162.62 L332.78 162.29 L333.05 161.96 L333.34 161.61 L333.62 161.26 L333.9 160.91 L334.17 160.56 L334.43 160.21 L334.7 159.84 L334.97 159.47 L335.23 159.1 L335.48 158.73 L335.73 158.37 L335.98 158.01 L336.22 157.65 L336.47 157.26 L336.72 156.88 L336.97 156.5 L337.22 156.12 L337.46 155.74 L337.7 155.37 L337.94 155 L338.18 154.63 L338.43 154.26 L338.67 153.9 L338.91 153.53 L339.16 153.17 L339.41 152.81 L339.65 152.45 L339.9 152.1 L340.14 151.74 L340.41 151.37 L340.67 151 L340.94 150.63 L341.21 150.26 L341.48 149.89 L341.76 149.53 L342.03 149.17 L342.31 148.81 L342.59 148.46 L342.87 148.1 L343.15 147.75 L343.43 147.4 L343.7 147.06 L343.98 146.71 L344.26 146.37 L344.54 146.03 L344.81 145.69 L345.09 145.36 L345.36 145.03 L345.64 144.68 L345.93 144.33 L346.21 143.98 L346.5 143.64 L346.78 143.3 L347.07 142.96 L347.36 142.63 L347.65 142.29 L347.94 141.96 L348.23 141.63 L348.52 141.31 L348.8 140.99 L349.09 140.67 L349.37 140.35 L349.67 140.02 L349.97 139.69 L350.26 139.36 L350.55 139.03 L350.83 138.71 L351.11 138.39 L351.41 138.06 L351.7 137.73 L351.98 137.4 L352.27 137.08 L352.56 136.74 L352.85 136.41 L353.13 136.08 L353.41 135.75 L353.69 135.42 L353.98 135.09 L354.26 134.76 L354.53 134.43 L354.81 134.09 L355.09 133.75 L355.36 133.42 L355.64 133.07 L355.91 132.74 L356.18 132.4 L356.46 132.06 L356.74 131.72 L357.01 131.39 L357.29 131.06 L357.56 130.72 L357.84 130.39 L358.12 130.05 L358.4 129.71 L358.68 129.39 L358.96 129.05 L359.23 128.72 L359.51 128.38 L359.79 128.06 L360.07 127.72 L360.34 127.4 L360.62 127.06 L360.9 126.73 L361.18 126.39 L361.46 126.06 L361.73 125.73 L362.01 125.4 L362.28 125.07 L362.56 124.74 L362.83 124.41 L363.11 124.07 L363.38 123.74 L363.66 123.4 L363.93 123.08 L364.2 122.75 L364.48 122.41 L364.75 122.08 L365.02 121.75 L365.3 121.42 L365.57 121.09 L365.84 120.76 L366.11 120.42 L366.38 120.09 L366.66 119.78 L366.96 119.47 L367.28 119.19 L367.58 119.04 L367.5 119.04 L367.5 175.02 L368.06 175.15 L368.56 175.28 L369.11 175.4 L369.71 175.53 L370.37 175.66 L370.9 175.75 L371.47 175.85 L372.09 175.94 L372.76 176.04 L373.48 176.13 L374.27 176.23 L374.84 176.29 L375.45 176.36 L376.09 176.42 L376.79 176.48 L377.54 176.55 L378.35 176.61 L379.23 176.67 L380.19 176.74 L381.24 176.8 L382.41 176.87 L383.03 176.9 L383.7 176.93 L384.4 176.96 L385.15 176.99 L385.94 177.03 L386.78 177.06 L387.68 177.09 L388.65 177.12 L389.69 177.16 L390.82 177.19 L392.04 177.22 L393.37 177.25 L394.82 177.28 L396.42 177.32 L398.19 177.35 L400.16 177.38 L402.38 177.41 L404.88 177.44 L407.76 177.48 L411.1 177.51 L412.03 177.52 L412.96 177.52 L413.89 177.53 L414.82 177.54 L415.75 177.54 L416.68 177.55 L417.61 177.56 L418.54 177.56 L419.48 177.57 L420.41 177.57 L421.34 177.58 L422.27 177.58 L423.2 177.59 L424.13 177.59 L425.06 177.6 L425.99 177.6 L426.92 177.61 L427.85 177.61 L428.78 177.61 L429.71 177.62 L430.64 177.62 L431.57 177.63 L432.5 177.63 L433.43 177.63 L434.36 177.64 L435.29 177.64 L436.22 177.64 L437.15 177.65 L438.09 177.65 L439.02 177.65 L439.95 177.65 L440.88 177.66 L441.81 177.66 L442.74 177.66 L443.67 177.66 L444.6 177.67 L445.53 177.67 L446.46 177.67 L447.39 177.67 L448.32 177.68 L449.25 177.68 L450.18 177.68 L451.11 177.68 L452.04 177.68 L452.97 177.69 L453.9 177.69 L454.83 177.69 L455.76 177.69 L456.7 177.69 L457.63 177.69 L458.56 177.7 L459.49 177.7 L460.42 177.7 L461.35 177.7 L462.28 177.7 L463.21 177.7 L464.14 177.71 L465.07 177.71 L466 177.71" stroke="#000000" stroke-width="0.9"/>
<path d="M280.9 173.35 L280.9 181.35 L287.8 177.35ZM284.56 173.28 L284.56 181.28 L291.46 177.28ZM288.21 173.2 L288.21 181.2 L295.11 177.2ZM291.87 173.08 L291.87 181.08 L298.77 177.08ZM295.52 172.94 L295.52 180.94 L302.42 176.94ZM299.18 172.74 L299.18 180.74 L306.08 176.74ZM302.84 172.46 L302.84 180.46 L309.74 176.46ZM306.49 172.05 L306.49 180.05 L313.39 176.05ZM310.15 171.42 L310.15 179.42 L317.05 175.42ZM313.8 170.29 L313.8 178.29 L320.7 174.29ZM317.46 168.84 L317.46 176.84 L324.36 172.84ZM321.12 166.85 L321.12 174.85 L328.02 170.85ZM324.77 163.68 L324.77 171.68 L331.67 167.68ZM328.43 160.37 L328.43 168.37 L335.33 164.37ZM332.08 156.27 L332.08 164.27 L338.98 160.27ZM335.74 150.85 L335.74 158.85 L342.64 154.85ZM339.4 145.61 L339.4 153.61 L346.3 149.61ZM343.05 141.03 L343.05 149.03 L349.95 145.03ZM346.71 136.76 L346.71 144.76 L353.61 140.76ZM350.36 132.62 L350.36 140.62 L357.26 136.62ZM354.02 128.23 L354.02 136.23 L360.92 132.23ZM357.68 123.83 L357.68 131.83 L364.58 127.83ZM361.33 119.44 L361.33 127.44 L368.23 123.44ZM364.99 115.18 L364.99 123.18 L371.89 119.18ZM368.64 171.76 L368.64 179.76 L375.54 175.76ZM372.3 172.26 L372.3 180.26 L379.2 176.26ZM375.96 172.6 L375.96 180.6 L382.86 176.6ZM379.61 172.84 L379.61 180.84 L386.51 176.84ZM383.27 173.01 L383.27 181.01 L390.17 177.01ZM386.92 173.14 L386.92 181.14 L393.82 177.14ZM390.58 173.24 L390.58 181.24 L397.48 177.24ZM394.24 173.32 L394.24 181.32 L401.14 177.32ZM397.89 173.38 L397.89 181.38 L404.79 177.38ZM401.55 173.43 L401.55 181.43 L408.45 177.43ZM405.2 173.47 L405.2 181.47 L412.1 177.47ZM408.86 173.51 L408.86 181.51 L415.76 177.51ZM412.52 173.54 L412.52 181.54 L419.42 177.54ZM416.17 173.56 L416.17 181.56 L423.07 177.56ZM419.83 173.58 L419.83 181.58 L426.73 177.58ZM423.48 173.6 L423.48 181.6 L430.38 177.6ZM427.14 173.62 L427.14 181.62 L434.04 177.62ZM430.8 173.63 L430.8 181.63 L437.7 177.63ZM434.45 173.64 L434.45 181.64 L441.35 177.64ZM438.11 173.66 L438.11 181.66 L445.01 177.66ZM441.76 173.67 L441.76 181.67 L448.66 177.67ZM445.42 173.67 L445.42 181.67 L452.32 177.67ZM449.08 173.68 L449.08 181.68 L455.98 177.68ZM452.73 173.69 L452.73 181.69 L459.63 177.69ZM456.39 173.7 L456.39 181.7 L463.29 177.7ZM460.04 173.7 L460.04 181.7 L466.94 177.7ZM463.7 173.71 L463.7 181.71 L470.6 177.71Z" stroke="#1a1a1a" stroke-width="0.6" stroke-linejoin="miter"/>
<path d="M283.45 177.35 L285.22 177.32 L286.82 177.28 L288.27 177.25 L289.6 177.22 L290.82 177.19 L291.94 177.16 L292.98 177.12 L293.95 177.09 L294.86 177.06 L295.7 177.03 L296.49 176.99 L297.24 176.96 L297.94 176.93 L298.6 176.9 L299.23 176.87 L299.83 176.83 L300.93 176.77 L301.94 176.71 L302.86 176.64 L303.7 176.58 L304.48 176.51 L305.2 176.45 L305.87 176.39 L306.5 176.32 L307.09 176.26 L307.64 176.2 L308.41 176.1 L309.11 176 L309.76 175.91 L310.36 175.81 L310.92 175.72 L311.44 175.62 L312.08 175.5 L312.67 175.37 L313.21 175.24 L313.69 175.12 L314.24 174.96 L314.73 174.8 L315.18 174.65 L315.69 174.46 L316.16 174.27 L316.62 174.08 L317.07 173.9 L317.53 173.71 L318 173.52 L318.5 173.34 L318.99 173.15 L319.45 172.97 L319.88 172.78 L320.36 172.57 L320.82 172.35 L321.24 172.14 L321.65 171.92 L322.09 171.68 L322.5 171.44 L322.89 171.19 L323.26 170.95 L323.66 170.68 L324.03 170.41 L324.39 170.14 L324.72 169.87 L325.08 169.57 L325.42 169.27 L325.74 168.98 L326.05 168.68 L326.37 168.36 L326.7 168.04 L327.03 167.72 L327.34 167.42 L327.66 167.13 L327.97 166.84 L328.3 166.56 L328.62 166.27 L328.94 165.98 L329.26 165.7 L329.58 165.41 L329.9 165.13 L330.24 164.82 L330.58 164.51 L330.92 164.2 L331.24 163.89 L331.56 163.59 L331.86 163.28 L332.18 162.95 L332.49 162.62 L332.78 162.29 L333.05 161.96 L333.34 161.61 L333.62 161.26 L333.9 160.91 L334.17 160.56 L334.43 160.21 L334.7 159.84 L334.97 159.47 L335.23 159.1 L335.48 158.73 L335.73 158.37 L335.98 158.01 L336.22 157.65 L336.47 157.26 L336.72 156.88 L336.97 156.5 L337.22 156.12 L337.46 155.74 L337.7 155.37 L337.94 155 L338.18 154.63 L338.43 154.26 L338.67 153.9 L338.91 153.53 L339.16 153.17 L339.41 152.81 L339.65 152.45 L339.9 152.1 L340.14 151.74 L340.41 151.37 L340.67 151 L340.94 150.63 L341.21 150.26 L341.48 149.89 L341.76 149.53 L342.03 149.17 L342.31 148.81 L342.59 148.46 L342.87 148.1 L343.15 147.75 L343.43 147.4 L343.7 147.06 L343.98 146.71 L344.26 146.37 L344.54 146.03 L344.81 145.69 L345.09 145.36 L345.36 145.03 L345.64 144.68 L345.93 144.33 L346.21 143.98 L346.5 143.64 L346.78 143.3 L347.07 142.96 L347.36 142.63 L347.65 142.29 L347.94 141.96 L348.23 141.63 L348.52 141.31 L348.8 140.99 L349.09 140.67 L349.37 140.35 L349.67 140.02 L349.97 139.69 L350.26 139.36 L350.55 139.03 L350.83 138.71 L351.11 138.39 L351.41 138.06 L351.7 137.73 L351.98 137.4 L352.27 137.08 L352.56 136.74 L352.5 136.56 L352.5 156.75 L352.72 156.75 L352.73 157.36 L352.75 157.96 L352.79 158.53 L352.84 159.1 L352.9 159.65 L352.97 160.21 L353.05 160.75 L353.13 161.28 L353.22 161.83 L353.31 162.34 L353.39 162.87 L353.45 163.42 L353.52 163.98 L353.58 164.54 L353.66 165.07 L353.77 165.58 L353.9 166.07 L354.07 166.53 L354.27 166.96 L354.5 167.37 L354.75 167.74 L355.03 168.1 L355.32 168.42 L355.65 168.74 L355.96 169.04 L356.28 169.33 L356.63 169.63 L356.99 169.93 L357.33 170.2 L357.69 170.47 L358.07 170.74 L358.47 171.01 L358.84 171.25 L359.24 171.5 L359.66 171.74 L360.05 171.95 L360.45 172.17 L360.88 172.38 L361.34 172.6 L361.82 172.81 L362.26 173 L362.73 173.18 L363.22 173.37 L363.71 173.55 L364.18 173.74 L364.64 173.93 L365.1 174.12 L365.56 174.3 L366.03 174.49 L366.54 174.68 L367 174.84 L367.5 174.99 L368.06 175.15 L368.56 175.28 L369.11 175.4 L369.71 175.53 L370.37 175.66 L370.9 175.75 L371.47 175.85 L372.09 175.94 L372.76 176.04 L373.48 176.13 L374.27 176.23 L374.84 176.29 L375.45 176.36 L376.09 176.42 L376.79 176.48 L377.54 176.55 L378.35 176.61 L379.23 176.67 L380.19 176.74 L381.24 176.8 L382.41 176.87 L383.03 176.9 L383.7 176.93 L384.4 176.96 L385.15 176.99 L385.94 177.03 L386.78 177.06 L387.68 177.09 L388.65 177.12 L389.69 177.16 L390.82 177.19 L392.04 177.22 L393.37 177.25 L394.82 177.28 L396.42 177.32 L398.19 177.35 L400.16 177.38 L402.38 177.41 L404.88 177.44 L407.76 177.48 L411.1 177.51 L412.03 177.52 L412.96 177.52 L413.89 177.53 L414.82 177.54 L415.75 177.54 L416.68 177.55 L417.61 177.56 L418.54 177.56 L419.48 177.57 L420.41 177.57 L421.34 177.58 L422.27 177.58 L423.2 177.59 L424.13 177.59 L425.06 177.6 L425.99 177.6 L426.92 177.61 L427.85 177.61 L428.78 177.61 L429.71 177.62 L430.64 177.62 L431.57 177.63 L432.5 177.63 L433.43 177.63 L434.36 177.64 L435.29 177.64 L436.22 177.64 L437.15 177.65 L438.09 177.65 L439.02 177.65 L439.95 177.65 L440.88 177.66 L441.81 177.66 L442.74 177.66 L443.67 177.66 L444.6 177.67 L445.53 177.67 L446.46 177.67 L447.39 177.67 L448.32 177.68 L449.25 177.68 L450.18 177.68 L451.11 177.68 L452.04 177.68 L452.97 177.69 L453.9 177.69 L454.83 177.69 L455.76 177.69 L456.7 177.69 L457.63 177.69 L458.56 177.7 L459.49 177.7 L460.42 177.7 L461.35 177.7 L462.28 177.7 L463.21 177.7 L464.14 177.71 L465.07 177.71 L466 177.71" stroke="#ff0000" stroke-width="0.9"/>
<path d="M285.5 173.35 L285.5 181.35 L278.6 177.35ZM289.16 173.28 L289.16 181.28 L282.26 177.28ZM292.81 173.2 L292.81 181.2 L285.91 177.2ZM296.47 173.08 L296.47 181.08 L289.57 177.08ZM300.12 172.94 L300.12 180.94 L293.22 176.94ZM303.78 172.74 L303.78 180.74 L296.88 176.74ZM307.44 172.46 L307.44 180.46 L300.54 176.46ZM311.09 172.05 L311.09 180.05 L304.19 176.05ZM314.75 171.42 L314.75 179.42 L307.85 175.42ZM318.4 170.29 L318.4 178.29 L311.5 174.29ZM322.06 168.84 L322.06 176.84 L315.16 172.84ZM325.72 166.85 L325.72 174.85 L318.82 170.85ZM329.37 163.68 L329.37 171.68 L322.47 167.68ZM333.03 160.37 L333.03 168.37 L326.13 164.37ZM336.68 156.27 L336.68 164.27 L329.78 160.27ZM340.34 150.85 L340.34 158.85 L333.44 154.85ZM344 145.61 L344 153.61 L337.1 149.61ZM347.65 141.03 L347.65 149.03 L340.75 145.03ZM351.31 136.76 L351.31 144.76 L344.41 140.76ZM354.96 132.62 L354.96 140.62 L348.06 136.62ZM358.62 165.37 L358.62 173.37 L351.72 169.37ZM362.28 167.92 L362.28 175.92 L355.38 171.92ZM365.93 169.52 L365.93 177.52 L359.03 173.52ZM369.59 170.93 L369.59 178.93 L362.69 174.93ZM373.24 171.76 L373.24 179.76 L366.34 175.76ZM376.9 172.26 L376.9 180.26 L370 176.26ZM380.56 172.6 L380.56 180.6 L373.66 176.6ZM384.21 172.84 L384.21 180.84 L377.31 176.84ZM387.87 173.01 L387.87 181.01 L380.97 177.01ZM391.52 173.14 L391.52 181.14 L384.62 177.14ZM395.18 173.24 L395.18 181.24 L388.28 177.24ZM398.84 173.32 L398.84 181.32 L391.94 177.32ZM402.49 173.38 L402.49 181.38 L395.59 177.38ZM406.15 173.43 L406.15 181.43 L399.25 177.43ZM409.8 173.47 L409.8 181.47 L402.9 177.47ZM413.46 173.51 L413.46 181.51 L406.56 177.51ZM417.12 173.54 L417.12 181.54 L410.22 177.54ZM420.77 173.56 L420.77 181.56 L413.87 177.56ZM424.43 173.58 L424.43 181.58 L417.53 177.58ZM428.08 173.6 L428.08 181.6 L421.18 177.6ZM431.74 173.62 L431.74 181.62 L424.84 177.62ZM435.4 173.63 L435.4 181.63 L428.5 177.63ZM439.05 173.64 L439.05 181.64 L432.15 177.64ZM442.71 173.66 L442.71 181.66 L435.81 177.66ZM446.36 173.67 L446.36 181.67 L439.46 177.67ZM450.02 173.67 L450.02 181.67 L443.12 177.67ZM453.68 173.68 L453.68 181.68 L446.78 177.68ZM457.33 173.69 L457.33 181.69 L450.43 177.69ZM460.99 173.7 L460.99 181.7 L454.09 177.7ZM464.64 173.7 L464.64 181.7 L457.74 177.7ZM468.3 173.71 L468.3 181.71 L461.4 177.71Z" stroke="#ff0000" stroke-width="0.6" stroke-linejoin="miter"/>
</g>
<clipPath id="c2"><rect x="55.4" y="210.6" width="184.5" height="134.25"/></clipPath>
<g clip-path="url(#c2)" fill="none" stroke-linejoin="round">
<path d="M57.14 343.46 L58.74 343.43 L60.18 343.39 L61.51 343.36 L62.72 343.32 L63.85 343.29 L64.88 343.25 L65.85 343.21 L66.75 343.18 L67.59 343.14 L68.38 343.11 L69.12 343.07 L69.82 343.04 L70.49 343 L71.11 342.97 L71.71 342.93 L72.27 342.89 L73.32 342.82 L74.28 342.75 L75.16 342.68 L75.97 342.61 L76.71 342.54 L77.41 342.47 L78.06 342.4 L78.66 342.33 L79.23 342.26 L79.76 342.19 L80.51 342.08 L81.19 341.97 L81.82 341.87 L82.4 341.76 L82.95 341.66 L83.45 341.55 L84.07 341.41 L84.62 341.27 L85.11 341.13 L85.68 340.96 L86.19 340.78 L86.67 340.61 L87.12 340.44 L87.56 340.26 L88 340.09 L88.45 339.92 L88.91 339.74 L89.39 339.57 L89.87 339.4 L90.32 339.23 L90.76 339.05 L91.25 338.85 L91.71 338.64 L92.15 338.44 L92.57 338.23 L93.03 337.99 L93.46 337.76 L93.87 337.52 L94.26 337.28 L94.63 337.05 L95.03 336.78 L95.42 336.51 L95.78 336.24 L96.13 335.97 L96.49 335.67 L96.85 335.38 L97.18 335.08 L97.5 334.78 L97.81 334.48 L98.12 334.19 L98.44 333.89 L98.76 333.6 L99.09 333.31 L99.42 333.01 L99.75 332.72 L100.09 332.43 L100.42 332.14 L100.76 331.85 L101.09 331.57 L101.42 331.28 L101.74 330.99 L102.06 330.71 L102.41 330.39 L102.75 330.08 L103.08 329.76 L103.4 329.45 L103.71 329.14 L104 328.83 L104.31 328.49 L104.6 328.15 L104.89 327.81 L105.16 327.47 L105.43 327.14 L105.72 326.77 L106 326.41 L106.27 326.05 L106.54 325.69 L106.8 325.33 L107.05 324.98 L107.3 324.62 L107.56 324.24 L107.82 323.85 L108.08 323.47 L108.33 323.1 L108.58 322.72 L108.83 322.35 L109.07 321.97 L109.31 321.6 L109.55 321.23 L109.8 320.86 L110.04 320.5 L110.28 320.13 L110.53 319.77 L110.78 319.41 L111.02 319.05 L111.27 318.7 L111.52 318.34 L111.77 317.99 L112.01 317.63 L112.28 317.26 L112.54 316.91 L112.8 316.56 L113.06 316.22 L113.34 315.87 L113.61 315.53 L113.89 315.19 L114.17 314.86 L114.46 314.52 L114.75 314.18 L115.04 313.85 L115.33 313.52 L115.62 313.19 L115.91 312.86 L116.2 312.54 L116.49 312.21 L116.78 311.89 L117.07 311.57 L117.36 311.25 L117.64 310.93 L117.95 310.59 L118.25 310.26 L118.55 309.92 L118.86 309.59 L119.16 309.25 L119.47 308.92 L119.77 308.6 L120.08 308.27 L120.38 307.95 L120.68 307.62 L120.98 307.3 L121.27 306.98 L121.57 306.67 L121.86 306.35 L122.16 306.02 L122.46 305.69 L122.76 305.36 L123.05 305.03 L123.34 304.7 L123.62 304.38 L123.91 304.04 L124.2 303.7 L124.49 303.36 L124.77 303.02 L125.05 302.69 L125.33 302.36 L125.61 302.03 L125.89 301.69 L126.18 301.35 L126.46 301.01 L126.73 300.67 L127 300.33 L127.28 299.98 L127.56 299.64 L127.83 299.29 L128.1 298.95 L128.36 298.61 L128.63 298.28 L128.91 297.93 L129.18 297.58 L129.46 297.24 L129.73 296.9 L130 296.56 L130.27 296.23 L130.55 295.88 L130.83 295.54 L131.1 295.2 L131.37 294.87 L131.66 294.52 L131.93 294.17 L132.21 293.83 L132.48 293.5 L132.76 293.15 L133.04 292.81 L133.31 292.47 L133.57 292.14 L133.85 291.79 L134.12 291.45 L134.39 291.11 L134.66 290.76 L134.93 290.43 L135.2 290.08 L135.46 289.74 L135.73 289.39 L135.99 289.05 L136.26 288.7 L136.52 288.35 L136.78 288 L137.04 287.65 L137.31 287.29 L137.56 286.93 L137.81 286.57 L138.06 286.2 L138.31 285.85 L138.57 285.49 L138.84 285.15 L139.11 284.81 L139.39 284.48 L139.67 284.15 L139.96 283.83 L140.25 283.51 L140.54 283.19 L140.83 282.88 L141.13 282.57 L141.43 282.26 L141.73 281.95 L142.03 281.65 L142.33 281.35 L142.64 281.05 L142.95 280.75 L143.25 280.46 L143.56 280.17 L143.88 279.87 L144.2 279.59 L144.52 279.31 L144.85 279.04 L145.19 278.86" stroke="#0000ff" stroke-width="2.1"/>
<path d="M125.65 322.75 L125.66 323.36 L125.69 323.94 L125.73 324.53 L125.78 325.09 L125.85 325.66 L125.92 326.2 L126.01 326.74 L126.09 327.26 L126.18 327.78 L126.28 328.3 L126.38 328.83 L126.46 329.36 L126.53 329.89 L126.6 330.42 L126.69 330.96 L126.79 331.47 L126.91 331.95 L127.06 332.4 L127.25 332.85 L127.48 333.27 L127.72 333.66 L127.99 334.02 L128.27 334.35 L128.59 334.68 L128.9 334.98 L129.23 335.28 L129.58 335.57 L129.94 335.87 L130.28 336.14 L130.64 336.41 L131.01 336.68 L131.41 336.95 L131.82 337.22 L132.21 337.45 L132.61 337.69 L133.04 337.93 L133.49 338.16 L133.9 338.37 L134.33 338.57 L134.79 338.78 L135.27 338.98 L135.78 339.19 L136.23 339.36 L136.71 339.54 L137.19 339.71 L137.65 339.88 L138.1 340.05 L138.54 340.23 L138.98 340.4 L139.43 340.57 L139.91 340.75 L140.41 340.92 L140.96 341.1 L141.45 341.24 L141.98 341.38 L142.58 341.52 L143.24 341.66 L143.79 341.76 L144.37 341.87 L145 341.97 L145.69 342.08 L146.43 342.19 L146.96 342.26 L147.53 342.33 L148.14 342.4 L148.78 342.47 L149.48 342.54 L150.23 342.61 L151.04 342.68 L151.91 342.75 L152.87 342.82 L153.92 342.89 L154.49 342.93 L155.08 342.97 L155.71 343 L156.37 343.04 L157.07 343.07 L157.81 343.11 L158.6 343.14 L159.44 343.18 L160.34 343.21 L161.31 343.25 L162.35 343.29 L163.47 343.32 L164.68 343.36 L166.01 343.39 L167.46 343.43 L169.05 343.46 L170.82 343.5 L172.79 343.54 L175.01 343.57 L177.52 343.61 L180.4 343.64 L183.74 343.68 L187.7 343.71 L188.56 343.72 L189.43 343.73 L190.3 343.73 L191.17 343.74 L192.04 343.74 L192.91 343.75 L193.78 343.76 L194.65 343.76 L195.52 343.77 L196.39 343.77 L197.26 343.78 L198.13 343.78 L199 343.78 L199.87 343.79 L200.74 343.79 L201.61 343.8 L202.48 343.8 L203.35 343.8 L204.22 343.81 L205.09 343.81 L205.96 343.82 L206.83 343.82 L207.7 343.82 L208.57 343.83 L209.43 343.83 L210.3 343.83 L211.17 343.83 L212.04 343.84 L212.91 343.84 L213.78 343.84 L214.65 343.85 L215.52 343.85 L216.39 343.85 L217.26 343.85 L218.13 343.86 L219 343.86 L219.87 343.86 L220.74 343.86 L221.61 343.86 L222.48 343.87 L223.35 343.87 L224.22 343.87 L225.09 343.87 L225.96 343.87 L226.83 343.88 L227.7 343.88 L228.57 343.88 L229.43 343.88 L230.3 343.88 L231.17 343.89 L232.04 343.89 L232.91 343.89 L233.78 343.89 L234.65 343.89 L235.52 343.89 L236.39 343.9 L237.26 343.9 L238.13 343.9 L239 343.9" stroke="#0000ff" stroke-width="2.1"/>
<path d="M145.19 278.86 L145.17 279.13 L144.95 279.51 L144.71 279.87 L144.46 280.23 L144.21 280.58 L143.96 280.93 L143.7 281.28 L143.44 281.62 L143.18 281.97 L142.93 282.32 L142.67 282.67 L142.42 283.02 L142.17 283.37 L141.92 283.73 L141.67 284.1 L141.42 284.47 L141.19 284.84 L140.95 285.22 L140.73 285.61 L140.52 286 L140.31 286.4 L140.11 286.8 L139.89 287.21 L139.67 287.6 L139.45 287.99 L139.23 288.37 L139.01 288.75 L138.77 289.14 L138.55 289.52 L138.32 289.9 L138.09 290.29 L137.86 290.66 L137.62 291.05 L137.39 291.43 L137.15 291.81 L136.92 292.18 L136.69 292.56 L136.45 292.95 L136.21 293.32 L135.98 293.71 L135.74 294.09 L135.51 294.47 L135.27 294.85 L135.04 295.23 L134.81 295.61 L134.58 295.99 L134.35 296.37 L134.12 296.76 L133.88 297.15 L133.66 297.53 L133.43 297.91 L133.21 298.3 L132.98 298.69 L132.76 299.08 L132.54 299.48 L132.32 299.87 L132.1 300.26 L131.89 300.65 L131.67 301.05 L131.46 301.45 L131.24 301.85 L131.03 302.26 L130.81 302.67 L130.6 303.09 L130.39 303.51 L130.19 303.91 L129.99 304.31 L129.79 304.75 L129.6 305.18 L129.42 305.62 L129.24 306.06 L129.07 306.51 L128.92 306.96 L128.76 307.42 L128.62 307.88 L128.48 308.36 L128.35 308.85 L128.22 309.35 L128.1 309.85 L127.98 310.35 L127.86 310.84 L127.74 311.32 L127.63 311.82 L127.52 312.31 L127.41 312.81 L127.3 313.32 L127.19 313.83 L127.08 314.34 L126.97 314.86 L126.86 315.35 L126.75 315.85 L126.64 316.35 L126.52 316.86 L126.4 317.34 L126.28 317.82 L126.16 318.34 L126.06 318.86 L125.96 319.38 L125.87 319.91 L125.8 320.44 L125.74 321.01 L125.69 321.57 L125.66 322.14 L125.65 322.75" stroke="#0000ff" stroke-width="2.4" stroke-dasharray="6.4 5.9" stroke-dashoffset="1" stroke-linecap="butt"/>
<path d="M155.8 266.8Q178.9 240.6 204.8 230.4" stroke="#0000ff" stroke-width="2.1" stroke-linecap="round"/>
<path d="M156 267.1Q180.9 244 204.8 230.4" stroke="#0000ff" stroke-width="2.5" stroke-dasharray="5 4" stroke-linecap="round"/>
<path d="M57.14 343.46 L58.74 343.43 L60.18 343.39 L61.51 343.36 L62.72 343.32 L63.85 343.29 L64.88 343.25 L65.85 343.21 L66.75 343.18 L67.59 343.14 L68.38 343.11 L69.12 343.07 L69.82 343.04 L70.49 343 L71.11 342.97 L71.71 342.93 L72.27 342.89 L73.32 342.82 L74.28 342.75 L75.16 342.68 L75.97 342.61 L76.71 342.54 L77.41 342.47 L78.06 342.4 L78.66 342.33 L79.23 342.26 L79.76 342.19 L80.51 342.08 L81.19 341.97 L81.82 341.87 L82.4 341.76 L82.95 341.66 L83.45 341.55 L84.07 341.41 L84.62 341.27 L85.11 341.13 L85.68 340.96 L86.19 340.78 L86.67 340.61 L87.12 340.44 L87.56 340.26 L88 340.09 L88.45 339.92 L88.91 339.74 L89.39 339.57 L89.87 339.4 L90.32 339.23 L90.76 339.05 L91.25 338.85 L91.71 338.64 L92.15 338.44 L92.57 338.23 L93.03 337.99 L93.46 337.76 L93.87 337.52 L94.26 337.28 L94.63 337.05 L95.03 336.78 L95.42 336.51 L95.78 336.24 L96.13 335.97 L96.49 335.67 L96.85 335.38 L97.18 335.08 L97.5 334.78 L97.81 334.48 L98.12 334.19 L98.44 333.89 L98.76 333.6 L99.09 333.31 L99.42 333.01 L99.75 332.72 L100.09 332.43 L100.42 332.14 L100.76 331.85 L101.09 331.57 L101.42 331.28 L101.74 330.99 L102.06 330.71 L102.41 330.39 L102.75 330.08 L103.08 329.76 L103.4 329.45 L103.71 329.14 L104 328.83 L104.31 328.49 L104.6 328.15 L104.89 327.81 L105.16 327.47 L105.43 327.14 L105.72 326.77 L106 326.41 L106.27 326.05 L106.54 325.69 L106.8 325.33 L107.05 324.98 L107.3 324.62 L107.56 324.24 L107.82 323.85 L108.08 323.47 L108.33 323.1 L108.58 322.72 L108.83 322.35 L109.07 321.97 L109.31 321.6 L109.55 321.23 L109.8 320.86 L110.04 320.5 L110.28 320.13 L110.53 319.77 L110.78 319.41 L111.02 319.05 L111.27 318.7 L111.52 318.34 L111.77 317.99 L112.01 317.63 L112.28 317.26 L112.54 316.91 L112.8 316.56 L113.06 316.22 L113.34 315.87 L113.61 315.53 L113.89 315.19 L114.17 314.86 L114.46 314.52 L114.75 314.18 L115.04 313.85 L115.33 313.52 L115.62 313.19 L115.91 312.86 L116.2 312.54 L116.49 312.21 L116.78 311.89 L117.07 311.57 L117.36 311.25 L117.64 310.93 L117.95 310.59 L118.25 310.26 L118.55 309.92 L118.86 309.59 L119.16 309.25 L119.47 308.92 L119.77 308.6 L120.08 308.27 L120.38 307.95 L120.68 307.62 L120.98 307.3 L121.27 306.98 L121.57 306.67 L121.86 306.35 L122.16 306.02 L122.46 305.69 L122.76 305.36 L123.05 305.03 L123.34 304.7 L123.62 304.38 L123.91 304.04 L124.2 303.7 L124.49 303.36 L124.77 303.02 L125.05 302.69 L125.33 302.36 L125.61 302.03 L125.89 301.69 L126.18 301.35 L126.46 301.01 L126.73 300.67 L127 300.33 L127.28 299.98 L127.56 299.64 L127.83 299.29 L128.1 298.95 L128.36 298.61 L128.63 298.28 L128.91 297.93 L129.18 297.58 L129.46 297.24 L129.73 296.9 L130 296.56 L130.27 296.23 L130.55 295.88 L130.83 295.54 L131.1 295.2 L131.37 294.87 L131.66 294.52 L131.93 294.17 L132.21 293.83 L132.48 293.5 L132.76 293.15 L133.04 292.81 L133.31 292.47 L133.57 292.14 L133.85 291.79 L134.12 291.45 L134.39 291.11 L134.66 290.76 L134.93 290.43 L135.2 290.08 L135.46 289.74 L135.73 289.39 L135.99 289.05 L136.26 288.7 L136.52 288.35 L136.78 288 L137.04 287.65 L137.31 287.29 L137.56 286.93 L137.81 286.57 L138.06 286.2 L138.31 285.85 L138.57 285.49 L138.84 285.15 L139.11 284.81 L139.39 284.48 L139.67 284.15 L139.96 283.83 L140.25 283.51 L140.54 283.19 L140.83 282.88 L141.13 282.57 L141.43 282.26 L141.73 281.95 L142.03 281.65 L142.33 281.35 L142.64 281.05 L142.95 280.75 L143.25 280.46 L143.56 280.17 L143.88 279.87 L144.2 279.59 L144.52 279.31 L144.85 279.04 L145.19 278.86 L145.5 278.86 L145.5 342.01 L145.69 342.08 L146.43 342.19 L146.96 342.26 L147.53 342.33 L148.14 342.4 L148.78 342.47 L149.48 342.54 L150.23 342.61 L151.04 342.68 L151.91 342.75 L152.87 342.82 L153.92 342.89 L154.49 342.93 L155.08 342.97 L155.71 343 L156.37 343.04 L157.07 343.07 L157.81 343.11 L158.6 343.14 L159.44 343.18 L160.34 343.21 L161.31 343.25 L162.35 343.29 L163.47 343.32 L164.68 343.36 L166.01 343.39 L167.46 343.43 L169.05 343.46 L170.82 343.5 L172.79 343.54 L175.01 343.57 L177.52 343.61 L180.4 343.64 L183.74 343.68 L187.7 343.71 L188.56 343.72 L189.43 343.73 L190.3 343.73 L191.17 343.74 L192.04 343.74 L192.91 343.75 L193.78 343.76 L194.65 343.76 L195.52 343.77 L196.39 343.77 L197.26 343.78 L198.13 343.78 L199 343.78 L199.87 343.79 L200.74 343.79 L201.61 343.8 L202.48 343.8 L203.35 343.8 L204.22 343.81 L205.09 343.81 L205.96 343.82 L206.83 343.82 L207.7 343.82 L208.57 343.83 L209.43 343.83 L210.3 343.83 L211.17 343.83 L212.04 343.84 L212.91 343.84 L213.78 343.84 L214.65 343.85 L215.52 343.85 L216.39 343.85 L217.26 343.85 L218.13 343.86 L219 343.86 L219.87 343.86 L220.74 343.86 L221.61 343.86 L222.48 343.87 L223.35 343.87 L224.22 343.87 L225.09 343.87 L225.96 343.87 L226.83 343.88 L227.7 343.88 L228.57 343.88 L229.43 343.88 L230.3 343.88 L231.17 343.89 L232.04 343.89 L232.91 343.89 L233.78 343.89 L234.65 343.89 L235.52 343.89 L236.39 343.9 L237.26 343.9 L238.13 343.9 L239 343.9" stroke="#000000" stroke-width="0.9"/>
<path d="M53.7 339.49 L53.7 347.49 L60.6 343.49ZM57.36 339.41 L57.36 347.41 L64.26 343.41ZM61.02 339.3 L61.02 347.3 L67.92 343.3ZM64.68 339.17 L64.68 347.17 L71.58 343.17ZM68.34 338.99 L68.34 346.99 L75.24 342.99ZM72 338.75 L72 346.75 L78.9 342.75ZM75.66 338.41 L75.66 346.41 L82.56 342.41ZM79.32 337.9 L79.32 345.9 L86.22 341.9ZM82.98 337.08 L82.98 345.08 L89.88 341.08ZM86.64 335.73 L86.64 343.73 L93.54 339.73ZM90.3 334.22 L90.3 342.22 L97.2 338.22ZM93.96 331.87 L93.96 339.87 L100.86 335.87ZM97.62 328.58 L97.62 336.58 L104.52 332.58ZM101.28 325.27 L101.28 333.27 L108.18 329.27ZM104.94 320.7 L104.94 328.7 L111.84 324.7ZM108.6 315.23 L108.6 323.23 L115.5 319.23ZM112.26 310.4 L112.26 318.4 L119.16 314.4ZM115.92 306.29 L115.92 314.29 L122.82 310.29ZM119.58 302.33 L119.58 310.33 L126.48 306.33ZM123.24 298.11 L123.24 306.11 L130.14 302.11ZM126.9 293.56 L126.9 301.56 L133.8 297.56ZM130.56 289.03 L130.56 297.03 L137.46 293.03ZM134.22 284.35 L134.22 292.35 L141.12 288.35ZM137.88 279.58 L137.88 287.58 L144.78 283.58ZM141.54 275.91 L141.54 283.91 L148.44 279.91ZM145.2 338.32 L145.2 346.32 L152.1 342.32ZM148.86 338.69 L148.86 346.69 L155.76 342.69ZM152.52 338.95 L152.52 346.95 L159.42 342.95ZM156.18 339.14 L156.18 347.14 L163.08 343.14ZM159.84 339.28 L159.84 347.28 L166.74 343.28ZM163.5 339.39 L163.5 347.39 L170.4 343.39ZM167.16 339.47 L167.16 347.47 L174.06 343.47ZM170.82 339.54 L170.82 347.54 L177.72 343.54ZM174.48 339.6 L174.48 347.6 L181.38 343.6ZM178.14 339.64 L178.14 347.64 L185.04 343.64ZM181.8 339.68 L181.8 347.68 L188.7 343.68ZM185.46 339.71 L185.46 347.71 L192.36 343.71ZM189.12 339.74 L189.12 347.74 L196.02 343.74ZM192.78 339.76 L192.78 347.76 L199.68 343.76ZM196.44 339.78 L196.44 347.78 L203.34 343.78ZM200.1 339.8 L200.1 347.8 L207 343.8ZM203.76 339.82 L203.76 347.82 L210.66 343.82ZM207.42 339.83 L207.42 347.83 L214.32 343.83ZM211.08 339.84 L211.08 347.84 L217.98 343.84ZM214.74 339.85 L214.74 347.85 L221.64 343.85ZM218.4 339.86 L218.4 347.86 L225.3 343.86ZM222.06 339.87 L222.06 347.87 L228.96 343.87ZM225.72 339.88 L225.72 347.88 L232.62 343.88ZM229.38 339.89 L229.38 347.89 L236.28 343.89ZM233.04 339.89 L233.04 347.89 L239.94 343.89ZM236.7 339.9 L236.7 347.9 L243.6 343.9Z" stroke="#1a1a1a" stroke-width="0.6" stroke-linejoin="miter"/>
<path d="M57.14 343.46 L58.74 343.43 L60.18 343.39 L61.51 343.36 L62.72 343.32 L63.85 343.29 L64.88 343.25 L65.85 343.21 L66.75 343.18 L67.59 343.14 L68.38 343.11 L69.12 343.07 L69.82 343.04 L70.49 343 L71.11 342.97 L71.71 342.93 L72.27 342.89 L73.32 342.82 L74.28 342.75 L75.16 342.68 L75.97 342.61 L76.71 342.54 L77.41 342.47 L78.06 342.4 L78.66 342.33 L79.23 342.26 L79.76 342.19 L80.51 342.08 L81.19 341.97 L81.82 341.87 L82.4 341.76 L82.95 341.66 L83.45 341.55 L84.07 341.41 L84.62 341.27 L85.11 341.13 L85.68 340.96 L86.19 340.78 L86.67 340.61 L87.12 340.44 L87.56 340.26 L88 340.09 L88.45 339.92 L88.91 339.74 L89.39 339.57 L89.87 339.4 L90.32 339.23 L90.76 339.05 L91.25 338.85 L91.71 338.64 L92.15 338.44 L92.57 338.23 L93.03 337.99 L93.46 337.76 L93.87 337.52 L94.26 337.28 L94.63 337.05 L95.03 336.78 L95.42 336.51 L95.78 336.24 L96.13 335.97 L96.49 335.67 L96.85 335.38 L97.18 335.08 L97.5 334.78 L97.81 334.48 L98.12 334.19 L98.44 333.89 L98.76 333.6 L99.09 333.31 L99.42 333.01 L99.75 332.72 L100.09 332.43 L100.42 332.14 L100.76 331.85 L101.09 331.57 L101.42 331.28 L101.74 330.99 L102.06 330.71 L102.41 330.39 L102.75 330.08 L103.08 329.76 L103.4 329.45 L103.71 329.14 L104 328.83 L104.31 328.49 L104.6 328.15 L104.89 327.81 L105.16 327.47 L105.43 327.14 L105.72 326.77 L106 326.41 L106.27 326.05 L106.54 325.69 L106.8 325.33 L107.05 324.98 L107.3 324.62 L107.56 324.24 L107.82 323.85 L108.08 323.47 L108.33 323.1 L108.58 322.72 L108.83 322.35 L109.07 321.97 L109.31 321.6 L109.55 321.23 L109.8 320.86 L110.04 320.5 L110.28 320.13 L110.53 319.77 L110.78 319.41 L111.02 319.05 L111.27 318.7 L111.52 318.34 L111.77 317.99 L112.01 317.63 L112.28 317.26 L112.54 316.91 L112.8 316.56 L113.06 316.22 L113.34 315.87 L113.61 315.53 L113.89 315.19 L114.17 314.86 L114.46 314.52 L114.75 314.18 L115.04 313.85 L115.33 313.52 L115.62 313.19 L115.91 312.86 L116.2 312.54 L116.49 312.21 L116.78 311.89 L117.07 311.57 L117.36 311.25 L117.64 310.93 L117.95 310.59 L118.25 310.26 L118.55 309.92 L118.86 309.59 L119.16 309.25 L119.47 308.92 L119.77 308.6 L120.08 308.27 L120.38 307.95 L120.68 307.62 L120.98 307.3 L121.27 306.98 L121.57 306.67 L121.86 306.35 L122.16 306.02 L122.46 305.69 L122.76 305.36 L123.05 305.03 L123.34 304.7 L123.62 304.38 L123.91 304.04 L124.2 303.7 L124.49 303.36 L124.77 303.02 L125.05 302.69 L125.33 302.36 L125.61 302.03 L125.5 301.98 L125.5 322.75 L125.65 322.75 L125.66 323.36 L125.69 323.94 L125.73 324.53 L125.78 325.09 L125.85 325.66 L125.92 326.2 L126.01 326.74 L126.09 327.26 L126.18 327.78 L126.28 328.3 L126.38 328.83 L126.46 329.36 L126.53 329.89 L126.6 330.42 L126.69 330.96 L126.79 331.47 L126.91 331.95 L127.06 332.4 L127.25 332.85 L127.48 333.27 L127.72 333.66 L127.99 334.02 L128.27 334.35 L128.59 334.68 L128.9 334.98 L129.23 335.28 L129.58 335.57 L129.94 335.87 L130.28 336.14 L130.64 336.41 L131.01 336.68 L131.41 336.95 L131.82 337.22 L132.21 337.45 L132.61 337.69 L133.04 337.93 L133.49 338.16 L133.9 338.37 L134.33 338.57 L134.79 338.78 L135.27 338.98 L135.78 339.19 L136.23 339.36 L136.71 339.54 L137.19 339.71 L137.65 339.88 L138.1 340.05 L138.54 340.23 L138.98 340.4 L139.43 340.57 L139.91 340.75 L140.41 340.92 L140.96 341.1 L141.45 341.24 L141.98 341.38 L142.58 341.52 L143.24 341.66 L143.79 341.76 L144.37 341.87 L145 341.97 L145.69 342.08 L146.43 342.19 L146.96 342.26 L147.53 342.33 L148.14 342.4 L148.78 342.47 L149.48 342.54 L150.23 342.61 L151.04 342.68 L151.91 342.75 L152.87 342.82 L153.92 342.89 L154.49 342.93 L155.08 342.97 L155.71 343 L156.37 343.04 L157.07 343.07 L157.81 343.11 L158.6 343.14 L159.44 343.18 L160.34 343.21 L161.31 343.25 L162.35 343.29 L163.47 343.32 L164.68 343.36 L166.01 343.39 L167.46 343.43 L169.05 343.46 L170.82 343.5 L172.79 343.54 L175.01 343.57 L177.52 343.61 L180.4 343.64 L183.74 343.68 L187.7 343.71 L188.56 343.72 L189.43 343.73 L190.3 343.73 L191.17 343.74 L192.04 343.74 L192.91 343.75 L193.78 343.76 L194.65 343.76 L195.52 343.77 L196.39 343.77 L197.26 343.78 L198.13 343.78 L199 343.78 L199.87 343.79 L200.74 343.79 L201.61 343.8 L202.48 343.8 L203.35 343.8 L204.22 343.81 L205.09 343.81 L205.96 343.82 L206.83 343.82 L207.7 343.82 L208.57 343.83 L209.43 343.83 L210.3 343.83 L211.17 343.83 L212.04 343.84 L212.91 343.84 L213.78 343.84 L214.65 343.85 L215.52 343.85 L216.39 343.85 L217.26 343.85 L218.13 343.86 L219 343.86 L219.87 343.86 L220.74 343.86 L221.61 343.86 L222.48 343.87 L223.35 343.87 L224.22 343.87 L225.09 343.87 L225.96 343.87 L226.83 343.88 L227.7 343.88 L228.57 343.88 L229.43 343.88 L230.3 343.88 L231.17 343.89 L232.04 343.89 L232.91 343.89 L233.78 343.89 L234.65 343.89 L235.52 343.89 L236.39 343.9 L237.26 343.9 L238.13 343.9 L239 343.9" stroke="#ff0000" stroke-width="0.9"/>
<path d="M58.3 339.49 L58.3 347.49 L51.4 343.49ZM61.96 339.41 L61.96 347.41 L55.06 343.41ZM65.62 339.3 L65.62 347.3 L58.72 343.3ZM69.28 339.17 L69.28 347.17 L62.38 343.17ZM72.94 338.99 L72.94 346.99 L66.04 342.99ZM76.6 338.75 L76.6 346.75 L69.7 342.75ZM80.26 338.41 L80.26 346.41 L73.36 342.41ZM83.92 337.9 L83.92 345.9 L77.02 341.9ZM87.58 337.08 L87.58 345.08 L80.68 341.08ZM91.24 335.73 L91.24 343.73 L84.34 339.73ZM94.9 334.22 L94.9 342.22 L88 338.22ZM98.56 331.87 L98.56 339.87 L91.66 335.87ZM102.22 328.58 L102.22 336.58 L95.32 332.58ZM105.88 325.27 L105.88 333.27 L98.98 329.27ZM109.54 320.7 L109.54 328.7 L102.64 324.7ZM113.2 315.23 L113.2 323.23 L106.3 319.23ZM116.86 310.4 L116.86 318.4 L109.96 314.4ZM120.52 306.29 L120.52 314.29 L113.62 310.29ZM124.18 302.33 L124.18 310.33 L117.28 306.33ZM127.84 298.11 L127.84 306.11 L120.94 302.11ZM131.5 331.25 L131.5 339.25 L124.6 335.25ZM135.16 333.83 L135.16 341.83 L128.26 337.83ZM138.82 335.47 L138.82 343.47 L131.92 339.47ZM142.48 336.84 L142.48 344.84 L135.58 340.84ZM146.14 337.77 L146.14 345.77 L139.24 341.77ZM149.8 338.32 L149.8 346.32 L142.9 342.32ZM153.46 338.69 L153.46 346.69 L146.56 342.69ZM157.12 338.95 L157.12 346.95 L150.22 342.95ZM160.78 339.14 L160.78 347.14 L153.88 343.14ZM164.44 339.28 L164.44 347.28 L157.54 343.28ZM168.1 339.39 L168.1 347.39 L161.2 343.39ZM171.76 339.47 L171.76 347.47 L164.86 343.47ZM175.42 339.54 L175.42 347.54 L168.52 343.54ZM179.08 339.6 L179.08 347.6 L172.18 343.6ZM182.74 339.64 L182.74 347.64 L175.84 343.64ZM186.4 339.68 L186.4 347.68 L179.5 343.68ZM190.06 339.71 L190.06 347.71 L183.16 343.71ZM193.72 339.74 L193.72 347.74 L186.82 343.74ZM197.38 339.76 L197.38 347.76 L190.48 343.76ZM201.04 339.78 L201.04 347.78 L194.14 343.78ZM204.7 339.8 L204.7 347.8 L197.8 343.8ZM208.36 339.82 L208.36 347.82 L201.46 343.82ZM212.02 339.83 L212.02 347.83 L205.12 343.83ZM215.68 339.84 L215.68 347.84 L208.78 343.84ZM219.34 339.85 L219.34 347.85 L212.44 343.85ZM223 339.86 L223 347.86 L216.1 343.86ZM226.66 339.87 L226.66 347.87 L219.76 343.87ZM230.32 339.88 L230.32 347.88 L223.42 343.88ZM233.98 339.89 L233.98 347.89 L227.08 343.89ZM237.64 339.89 L237.64 347.89 L230.74 343.89ZM241.3 339.9 L241.3 347.9 L234.4 343.9Z" stroke="#ff0000" stroke-width="0.6" stroke-linejoin="miter"/>
</g>
<clipPath id="c3"><rect x="281.9" y="209.5" width="184.3" height="135.15"/></clipPath>
<g clip-path="url(#c3)" fill="none" stroke-linejoin="round">
<path d="M285.21 343.28 L288.03 343.21 L290.4 343.14 L292.43 343.08 L294.2 343.01 L295.75 342.95 L297.14 342.88 L298.37 342.82 L299.49 342.75 L300.51 342.69 L301.44 342.62 L302.29 342.56 L303.08 342.49 L303.81 342.43 L304.49 342.36 L305.13 342.3 L305.72 342.23 L306.28 342.17 L307.3 342.04 L308.22 341.91 L309.04 341.78 L309.78 341.65 L310.46 341.52 L311.09 341.39 L311.66 341.26 L312.17 341.13 L312.85 340.93 L313.46 340.74 L314 340.54 L314.51 340.35 L314.99 340.16 L315.46 339.96 L315.94 339.77 L316.42 339.58 L316.93 339.38 L317.45 339.19 L317.94 339 L318.4 338.81 L318.84 338.61 L319.26 338.42 L319.78 338.17 L320.28 337.91 L320.74 337.66 L321.18 337.4 L321.59 337.15 L321.98 336.89 L322.35 336.64 L322.71 336.39 L323.13 336.07 L323.52 335.75 L323.9 335.44 L324.25 335.12 L324.59 334.81 L324.92 334.49 L325.25 334.18 L325.58 333.87 L325.91 333.55 L326.24 333.24 L326.58 332.93 L326.91 332.62 L327.25 332.31 L327.58 332 L327.91 331.69 L328.24 331.38 L328.57 331.07 L328.89 330.76 L329.2 330.46 L329.51 330.15 L329.81 329.84 L330.16 329.47 L330.5 329.11 L330.82 328.74 L331.13 328.38 L331.43 328.01 L331.73 327.65 L332.01 327.28 L332.29 326.92 L332.57 326.56 L332.84 326.2 L333.11 325.84 L333.37 325.48 L333.63 325.12 L333.88 324.76 L334.13 324.4 L334.38 324.05 L334.62 323.69 L334.9 323.28 L335.18 322.86 L335.46 322.45 L335.73 322.04 L336 321.63 L336.27 321.22 L336.55 320.81 L336.82 320.4 L337.1 319.99 L337.38 319.59 L337.66 319.18 L337.95 318.78 L338.23 318.37 L338.52 317.97 L338.82 317.57 L339.11 317.17 L339.41 316.77 L339.7 316.37 L340 315.97 L340.3 315.58 L340.59 315.18 L340.89 314.79 L341.19 314.39 L341.48 314 L341.78 313.61 L342.07 313.22 L342.37 312.82 L342.66 312.44 L342.94 312.05 L343.23 311.66 L343.51 311.27 L343.79 310.89 L344.07 310.5 L344.34 310.12 L344.61 309.74 L344.89 309.36 L345.17 308.97 L345.45 308.59 L345.73 308.22 L346.01 307.84 L346.3 307.46 L346.58 307.08 L346.86 306.71 L347.15 306.33 L347.43 305.96 L347.71 305.59 L347.99 305.22 L348.28 304.85 L348.56 304.48 L348.84 304.11 L349.12 303.74 L349.39 303.37 L349.67 303.01 L349.95 302.64 L350.22 302.28 L350.49 301.92 L350.76 301.55 L351.03 301.19 L351.3 300.83 L351.57 300.47 L351.83 300.11 L352.1 299.76 L352.36 299.4 L352.62 299.04 L352.88 298.69 L353.14 298.34 L353.41 297.98 L353.67 297.63 L353.94 297.28 L354.21 296.93 L354.48 296.58 L354.75 296.23 L355.03 295.88 L355.31 295.54 L355.6 295.19 L355.89 294.85 L356.18 294.5 L356.48 294.16 L356.78 293.82 L357.09 293.48 L357.39 293.14 L357.7 292.8 L358.01 292.46 L358.32 292.12 L358.63 291.79 L358.95 291.45 L359.26 291.12 L359.57 290.78 L359.88 290.45 L360.19 290.12 L360.5 289.79 L360.81 289.46 L361.11 289.13 L361.41 288.8 L361.71 288.47 L362.01 288.15 L362.31 287.82 L362.6 287.5 L362.9 287.17 L363.19 286.85 L363.48 286.53 L363.78 286.21 L364.07 285.89 L364.36 285.57 L364.65 285.25 L364.94 284.93 L365.23 284.62 L365.52 284.3 L365.8 283.99 L366.13 283.63 L366.46 283.27 L366.78 282.91 L367.1 282.56 L367.42 282.21 L367.74 281.85 L368.06 281.5 L368.38 281.15 L368.69 280.8 L369.01 280.46 L369.32 280.11 L369.63 279.76 L369.95 279.42 L370.26 279.08 L370.57 278.73 L370.88 278.39 L371.19 278.05 L371.51 277.72 L371.82 277.38 L372.13 277.04 L372.44 276.71 L372.75 276.37 L373.06 276.04 L373.37 275.71 L373.68 275.38 L373.99 275.05 L374.3 274.72 L374.61 274.4 L374.91 274.07 L375.22 273.75 L375.53 273.42 L375.84 273.1 L376.14 272.78 L376.45 272.46 L376.76 272.14 L377.06 271.82 L377.37 271.51 L377.68 271.19 L377.98 270.88 L378.29 270.57 L378.6 270.26 L378.9 269.94 L379.21 269.64 L379.51 269.33 L379.82 269.02 L380.12 268.71 L380.43 268.41 L380.74 268.11 L381.04 267.8 L381.35 267.5 L381.65 267.2 L381.96 266.9 L382.26 266.61 L382.57 266.31 L382.87 266.01 L383.21 265.68 L383.56 265.35 L383.9 265.02 L384.24 264.7 L384.58 264.37 L384.93 264.05 L385.27 263.73 L385.61 263.41 L385.95 263.09 L386.29 262.77 L386.63 262.45 L386.97 262.14 L387.31 261.82 L387.65 261.51 L387.99 261.2 L388.33 260.89 L388.67 260.58 L389.01 260.27 L389.35 259.97 L389.68 259.67 L390.02 259.36 L390.36 259.06 L390.69 258.76 L391.03 258.46 L391.37 258.17 L391.7 257.87 L392.04 257.58 L392.37 257.29 L392.71 257 L393.04 256.71 L393.38 256.42 L393.71 256.13 L394.04 255.85 L394.37 255.56 L394.7 255.28 L395.04 255 L395.37 254.72 L395.7 254.44 L396.03 254.16 L396.36 253.89 L396.69 253.61 L397.01 253.34 L397.38 253.04 L397.74 252.74 L398.1 252.44 L398.47 252.15 L398.83 251.85 L399.19 251.56 L399.55 251.27 L399.91 250.98 L400.27 250.69 L400.62 250.41 L400.98 250.12 L401.33 249.84 L401.69 249.56 L402.04 249.28 L402.4 249 L402.75 248.73 L403.1 248.45 L403.45 248.18 L403.8 247.91 L404.15 247.64 L404.49 247.37 L404.84 247.11 L405.19 246.85 L405.53 246.58 L405.87 246.32 L406.21 246.06 L406.59 245.78 L406.96 245.5 L407.33 245.22 L407.71 244.95 L408.07 244.67 L408.44 244.4 L408.81 244.13 L409.17 243.86 L409.54 243.59 L409.9 243.33 L410.26 243.07 L410.62 242.81 L410.97 242.55 L411.33 242.29 L411.68 242.04 L412.04 241.79 L412.39 241.54 L412.77 241.27 L413.15 241 L413.52 240.73 L413.9 240.47 L414.27 240.21 L414.64 239.95 L415.01 239.69 L415.38 239.44 L415.74 239.19 L416.11 238.94 L416.47 238.69 L416.82 238.44 L417.21 238.18 L417.59 237.92 L417.97 237.66 L418.35 237.41 L418.72 237.16 L419.1 236.91 L419.46 236.66 L419.83 236.42 L420.19 236.18 L420.58 235.92 L420.96 235.67 L421.34 235.42 L421.72 235.17 L422.1 234.93 L422.47 234.69 L422.83 234.45 L423.22 234.2 L423.6 233.95 L423.98 233.71 L424.36 233.46 L424.73 233.23 L425.1 232.99 L425.49 232.75 L425.87 232.51 L426.24 232.27 L426.62 232.03 L427.01 231.79 L427.39 231.55 L427.77 231.32 L428.15 231.08 L428.54 230.84 L428.92 230.61 L429.3 230.38 L429.69 230.14 L430.07 229.91 L430.45 229.68 L430.84 229.45 L431.22 229.22 L431.61 228.99 L431.99 228.77 L432.37 228.54 L432.75 228.31 L433.14 228.09 L433.53 227.86 L433.92 227.63 L434.31 227.41 L434.71 227.18 L435.1 226.96 L435.49 226.74 L435.88 226.51 L436.27 226.3 L436.66 226.08 L437.05 225.86 L437.45 225.64 L437.84 225.43 L438.23 225.21 L438.62 225 L439.02 224.8 L439.42 224.6 L439.56 224.55" stroke="#0000ff" stroke-width="2.1"/>
<path d="M351.64 322.92 L351.65 323.51 L351.68 324.11 L351.72 324.7 L351.78 325.3 L351.84 325.84 L351.92 326.38 L352 326.92 L352.1 327.47 L352.21 328.01 L352.32 328.56 L352.44 329.11 L352.54 329.66 L352.65 330.21 L352.77 330.76 L352.9 331.26 L353.05 331.75 L353.24 332.25 L353.44 332.68 L353.68 333.12 L353.92 333.49 L354.19 333.87 L354.5 334.24 L354.8 334.56 L355.12 334.87 L355.47 335.19 L355.83 335.5 L356.21 335.82 L356.61 336.13 L357.03 336.45 L357.39 336.7 L357.77 336.96 L358.16 337.21 L358.58 337.47 L359.03 337.72 L359.5 337.98 L360 338.23 L360.53 338.49 L360.95 338.68 L361.4 338.87 L361.88 339.06 L362.38 339.26 L362.9 339.45 L363.39 339.64 L363.88 339.83 L364.35 340.03 L364.82 340.22 L365.31 340.42 L365.83 340.61 L366.39 340.8 L367.02 341 L367.73 341.19 L368.27 341.32 L368.87 341.45 L369.52 341.58 L370.23 341.71 L371.01 341.84 L371.88 341.97 L372.85 342.1 L373.93 342.23 L374.52 342.3 L375.16 342.36 L375.84 342.43 L376.57 342.49 L377.36 342.56 L378.21 342.62 L379.14 342.69 L380.16 342.75 L381.28 342.82 L382.52 342.88 L383.9 342.95 L385.45 343.01 L387.22 343.08 L389.25 343.14 L391.63 343.21 L394.44 343.28 L397.85 343.34 L402.09 343.41 L407.53 343.47 L408.51 343.48 L409.49 343.49 L410.47 343.5 L411.45 343.51 L412.43 343.51 L413.4 343.52 L414.38 343.53 L415.36 343.54 L416.34 343.54 L417.32 343.55 L418.3 343.56 L419.28 343.56 L420.26 343.57 L421.24 343.57 L422.22 343.58 L423.2 343.58 L424.18 343.59 L425.15 343.59 L426.13 343.6 L427.11 343.6 L428.09 343.61 L429.07 343.61 L430.05 343.62 L431.03 343.62 L432.01 343.62 L432.99 343.63 L433.97 343.63 L434.95 343.63 L435.93 343.64 L436.9 343.64 L437.88 343.64 L438.86 343.65 L439.84 343.65 L440.82 343.65 L441.8 343.66 L442.78 343.66 L443.76 343.66 L444.74 343.66 L445.72 343.67 L446.7 343.67 L447.68 343.67 L448.65 343.67 L449.63 343.68 L450.61 343.68 L451.59 343.68 L452.57 343.68 L453.55 343.68 L454.53 343.69 L455.51 343.69 L456.49 343.69 L457.47 343.69 L458.45 343.69 L459.43 343.69 L460.4 343.7 L461.38 343.7 L462.36 343.7 L463.34 343.7 L464.32 343.7 L465.3 343.7" stroke="#0000ff" stroke-width="2.1"/>
<path d="M440.06 224.55 L440.05 224.57 L439.69 224.82 L439.32 225.05 L438.94 225.27 L438.56 225.5 L438.18 225.72 L437.8 225.95 L437.42 226.17 L437.04 226.4 L436.65 226.63 L436.27 226.86 L435.89 227.09 L435.5 227.32 L435.11 227.55 L434.73 227.79 L434.34 228.02 L433.95 228.25 L433.57 228.48 L433.2 228.71 L432.82 228.95 L432.44 229.18 L432.05 229.42 L431.68 229.65 L431.3 229.89 L430.92 230.12 L430.54 230.35 L430.16 230.6 L429.78 230.83 L429.4 231.07 L429.02 231.32 L428.65 231.55 L428.27 231.79 L427.89 232.03 L427.5 232.28 L427.13 232.52 L426.76 232.76 L426.38 233.01 L426 233.26 L425.63 233.5 L425.26 233.74 L424.89 233.98 L424.51 234.23 L424.13 234.48 L423.75 234.74 L423.38 234.98 L423.02 235.22 L422.65 235.47 L422.27 235.72 L421.89 235.98 L421.51 236.23 L421.13 236.49 L420.77 236.74 L420.4 236.99 L420.04 237.24 L419.67 237.49 L419.3 237.74 L418.92 238 L418.55 238.26 L418.17 238.53 L417.78 238.79 L417.43 239.04 L417.07 239.29 L416.71 239.54 L416.35 239.8 L415.99 240.06 L415.62 240.32 L415.25 240.58 L414.88 240.84 L414.51 241.11 L414.13 241.38 L413.76 241.65 L413.38 241.92 L413.03 242.18 L412.68 242.43 L412.33 242.69 L411.98 242.95 L411.62 243.21 L411.27 243.47 L410.91 243.74 L410.55 244.01 L410.19 244.28 L409.83 244.55 L409.47 244.82 L409.1 245.1 L408.74 245.37 L408.37 245.65 L408 245.94 L407.63 246.22 L407.26 246.51 L406.92 246.77 L406.58 247.03 L406.24 247.29 L405.9 247.56 L405.55 247.83 L405.21 248.1 L404.86 248.37 L404.52 248.64 L404.17 248.92 L403.82 249.2 L403.47 249.47 L403.12 249.75 L402.77 250.04 L402.42 250.32 L402.07 250.61 L401.71 250.89 L401.36 251.18 L401 251.47 L400.65 251.76 L400.29 252.06 L399.94 252.35 L399.58 252.65 L399.22 252.95 L398.86 253.25 L398.5 253.55 L398.14 253.86 L397.81 254.13 L397.49 254.41 L397.16 254.69 L396.84 254.97 L396.51 255.25 L396.18 255.53 L395.85 255.81 L395.53 256.1 L395.2 256.39 L394.87 256.67 L394.54 256.96 L394.21 257.25 L393.88 257.55 L393.55 257.84 L393.22 258.13 L392.88 258.43 L392.55 258.73 L392.22 259.03 L391.89 259.33 L391.55 259.63 L391.22 259.94 L390.89 260.24 L390.55 260.55 L390.22 260.85 L389.88 261.16 L389.55 261.47 L389.21 261.79 L388.88 262.1 L388.54 262.42 L388.21 262.73 L387.87 263.05 L387.54 263.37 L387.2 263.69 L386.86 264.01 L386.53 264.34 L386.19 264.66 L385.85 264.99 L385.52 265.32 L385.18 265.65 L384.84 265.98 L384.5 266.31 L384.17 266.64 L383.83 266.98 L383.49 267.31 L383.19 267.62 L382.89 267.92 L382.59 268.22 L382.29 268.52 L381.99 268.83 L381.69 269.14 L381.39 269.44 L381.09 269.75 L380.79 270.06 L380.49 270.37 L380.19 270.68 L379.89 271 L379.59 271.31 L379.29 271.63 L378.99 271.94 L378.69 272.26 L378.39 272.58 L378.09 272.9 L377.79 273.22 L377.49 273.54 L377.19 273.87 L376.89 274.19 L376.59 274.52 L376.29 274.85 L375.99 275.17 L375.7 275.5 L375.4 275.83 L375.1 276.17 L374.8 276.5 L374.5 276.83 L374.2 277.17 L373.9 277.51 L373.61 277.84 L373.31 278.18 L373.01 278.52 L372.71 278.86 L372.42 279.2 L372.12 279.55 L371.82 279.89 L371.53 280.24 L371.24 280.59 L370.94 280.93 L370.65 281.28 L370.36 281.63 L370.07 281.99 L369.78 282.34 L369.5 282.69 L369.21 283.05 L368.93 283.4 L368.64 283.76 L368.36 284.12 L368.08 284.48 L367.8 284.84 L367.52 285.2 L367.25 285.57 L366.97 285.93 L366.7 286.3 L366.42 286.67 L366.15 287.03 L365.87 287.4 L365.6 287.77 L365.32 288.15 L365.05 288.52 L364.78 288.89 L364.5 289.27 L364.22 289.65 L363.94 290.02 L363.66 290.4 L363.39 290.78 L363.11 291.16 L362.83 291.55 L362.55 291.93 L362.28 292.32 L362.01 292.7 L361.74 293.09 L361.48 293.48 L361.22 293.87 L360.97 294.26 L360.72 294.65 L360.48 295.04 L360.25 295.44 L360.02 295.83 L359.81 296.23 L359.6 296.63 L359.39 297.03 L359.19 297.43 L358.97 297.88 L358.75 298.34 L358.54 298.79 L358.33 299.25 L358.13 299.71 L357.94 300.17 L357.76 300.63 L357.58 301.09 L357.42 301.55 L357.25 302.02 L357.1 302.49 L356.95 302.96 L356.8 303.43 L356.66 303.9 L356.53 304.37 L356.39 304.85 L356.26 305.32 L356.13 305.8 L356 306.28 L355.87 306.76 L355.74 307.25 L355.61 307.73 L355.47 308.22 L355.33 308.7 L355.18 309.19 L355.03 309.68 L354.87 310.17 L354.7 310.67 L354.53 311.16 L354.35 311.66 L354.18 312.16 L354.02 312.6 L353.86 313.05 L353.7 313.49 L353.54 313.94 L353.39 314.39 L353.23 314.84 L353.08 315.29 L352.92 315.8 L352.76 316.31 L352.6 316.83 L352.46 317.34 L352.32 317.86 L352.19 318.37 L352.08 318.89 L351.97 319.41 L351.88 319.93 L351.8 320.52 L351.73 321.1 L351.68 321.69 L351.65 322.27 L351.64 322.92" stroke="#0000ff" stroke-width="2.4" stroke-dasharray="6.4 5.9" stroke-dashoffset="1" stroke-linecap="butt"/>
<path d="M285.21 343.28 L288.03 343.21 L290.4 343.14 L292.43 343.08 L294.2 343.01 L295.75 342.95 L297.14 342.88 L298.37 342.82 L299.49 342.75 L300.51 342.69 L301.44 342.62 L302.29 342.56 L303.08 342.49 L303.81 342.43 L304.49 342.36 L305.13 342.3 L305.72 342.23 L306.28 342.17 L307.3 342.04 L308.22 341.91 L309.04 341.78 L309.78 341.65 L310.46 341.52 L311.09 341.39 L311.66 341.26 L312.17 341.13 L312.85 340.93 L313.46 340.74 L314 340.54 L314.51 340.35 L314.99 340.16 L315.46 339.96 L315.94 339.77 L316.42 339.58 L316.93 339.38 L317.45 339.19 L317.94 339 L318.4 338.81 L318.84 338.61 L319.26 338.42 L319.78 338.17 L320.28 337.91 L320.74 337.66 L321.18 337.4 L321.59 337.15 L321.98 336.89 L322.35 336.64 L322.71 336.39 L323.13 336.07 L323.52 335.75 L323.9 335.44 L324.25 335.12 L324.59 334.81 L324.92 334.49 L325.25 334.18 L325.58 333.87 L325.91 333.55 L326.24 333.24 L326.58 332.93 L326.91 332.62 L327.25 332.31 L327.58 332 L327.91 331.69 L328.24 331.38 L328.57 331.07 L328.89 330.76 L329.2 330.46 L329.51 330.15 L329.81 329.84 L330.16 329.47 L330.5 329.11 L330.82 328.74 L331.13 328.38 L331.43 328.01 L331.73 327.65 L332.01 327.28 L332.29 326.92 L332.57 326.56 L332.84 326.2 L333.11 325.84 L333.37 325.48 L333.63 325.12 L333.88 324.76 L334.13 324.4 L334.38 324.05 L334.62 323.69 L334.9 323.28 L335.18 322.86 L335.46 322.45 L335.73 322.04 L336 321.63 L336.27 321.22 L336.55 320.81 L336.82 320.4 L337.1 319.99 L337.38 319.59 L337.66 319.18 L337.95 318.78 L338.23 318.37 L338.52 317.97 L338.82 317.57 L339.11 317.17 L339.41 316.77 L339.7 316.37 L340 315.97 L340.3 315.58 L340.59 315.18 L340.89 314.79 L341.19 314.39 L341.48 314 L341.78 313.61 L342.07 313.22 L342.37 312.82 L342.66 312.44 L342.94 312.05 L343.23 311.66 L343.51 311.27 L343.79 310.89 L344.07 310.5 L344.34 310.12 L344.61 309.74 L344.89 309.36 L345.17 308.97 L345.45 308.59 L345.73 308.22 L346.01 307.84 L346.3 307.46 L346.58 307.08 L346.86 306.71 L347.15 306.33 L347.43 305.96 L347.71 305.59 L347.99 305.22 L348.28 304.85 L348.56 304.48 L348.84 304.11 L349.12 303.74 L349.39 303.37 L349.67 303.01 L349.95 302.64 L350.22 302.28 L350.49 301.92 L350.76 301.55 L351.03 301.19 L351.3 300.83 L351.57 300.47 L351.83 300.11 L352.1 299.76 L352.36 299.4 L352.62 299.04 L352.88 298.69 L353.14 298.34 L353.41 297.98 L353.67 297.63 L353.94 297.28 L354.21 296.93 L354.48 296.58 L354.75 296.23 L355.03 295.88 L355.31 295.54 L355.6 295.19 L355.89 294.85 L356.18 294.5 L356.48 294.16 L356.78 293.82 L357.09 293.48 L357.39 293.14 L357.7 292.8 L358.01 292.46 L358.32 292.12 L358.63 291.79 L358.95 291.45 L359.26 291.12 L359.57 290.78 L359.88 290.45 L360.19 290.12 L360.5 289.79 L360.81 289.46 L361.11 289.13 L361.41 288.8 L361.71 288.47 L362.01 288.15 L362.31 287.82 L362.6 287.5 L362.9 287.17 L363.19 286.85 L363.48 286.53 L363.78 286.21 L364.07 285.89 L364.36 285.57 L364.65 285.25 L364.94 284.93 L365.23 284.62 L365.52 284.3 L365.8 283.99 L366.13 283.63 L366.46 283.27 L366.78 282.91 L367.1 282.56 L367.42 282.21 L367.74 281.85 L368.06 281.5 L368.38 281.15 L368.69 280.8 L369.01 280.46 L369.32 280.11 L369.63 279.76 L369.95 279.42 L370.26 279.08 L370.57 278.73 L370.88 278.39 L371.19 278.05 L371.51 277.72 L371.82 277.38 L372.13 277.04 L372.44 276.71 L372.75 276.37 L373.06 276.04 L373.37 275.71 L373.68 275.38 L373.99 275.05 L374.3 274.72 L374.61 274.4 L374.91 274.07 L375.22 273.75 L375.53 273.42 L375.84 273.1 L376.14 272.78 L376.45 272.46 L376.76 272.14 L377.06 271.82 L377.37 271.51 L377.68 271.19 L377.98 270.88 L378.29 270.57 L378.6 270.26 L378.9 269.94 L379.21 269.64 L379.51 269.33 L379.82 269.02 L380.12 268.71 L380.43 268.41 L380.74 268.11 L381.04 267.8 L381.35 267.5 L381.65 267.2 L381.96 266.9 L382.26 266.61 L382.57 266.31 L382.87 266.01 L383.21 265.68 L383.56 265.35 L383.9 265.02 L384.24 264.7 L384.58 264.37 L384.93 264.05 L385.27 263.73 L385.61 263.41 L385.95 263.09 L386.29 262.77 L386.63 262.45 L386.97 262.14 L387.31 261.82 L387.65 261.51 L387.99 261.2 L388.33 260.89 L388.67 260.58 L389.01 260.27 L389.35 259.97 L389.68 259.67 L390.02 259.36 L390.36 259.06 L390.69 258.76 L391.03 258.46 L391.37 258.17 L391.7 257.87 L392.04 257.58 L392.37 257.29 L392.71 257 L393.04 256.71 L393.38 256.42 L393.71 256.13 L394.04 255.85 L394.37 255.56 L394.7 255.28 L395.04 255 L395.37 254.72 L395.7 254.44 L396.03 254.16 L396.36 253.89 L396.69 253.61 L397.01 253.34 L397.38 253.04 L397.74 252.74 L398.1 252.44 L398.47 252.15 L398.83 251.85 L399.19 251.56 L399.55 251.27 L399.91 250.98 L400.27 250.69 L400.62 250.41 L400.98 250.12 L401.33 249.84 L401.69 249.56 L402.04 249.28 L402.4 249 L402.75 248.73 L403.1 248.45 L403.45 248.18 L403.8 247.91 L404.15 247.64 L404.49 247.37 L404.84 247.11 L405.19 246.85 L405.53 246.58 L405.87 246.32 L406.21 246.06 L406.59 245.78 L406.96 245.5 L407.33 245.22 L407.71 244.95 L408.07 244.67 L408.44 244.4 L408.81 244.13 L409.17 243.86 L409.54 243.59 L409.9 243.33 L410.26 243.07 L410.62 242.81 L410.97 242.55 L411.33 242.29 L411.68 242.04 L412.04 241.79 L412.39 241.54 L412.77 241.27 L413.15 241 L413.52 240.73 L413.9 240.47 L414.27 240.21 L414.64 239.95 L415.01 239.69 L415.38 239.44 L415.74 239.19 L416.11 238.94 L416.47 238.69 L416.82 238.44 L417.21 238.18 L417.59 237.92 L417.97 237.66 L418.35 237.41 L418.72 237.16 L419.1 236.91 L419.46 236.66 L419.83 236.42 L420.19 236.18 L420.58 235.92 L420.96 235.67 L421.34 235.42 L421.72 235.17 L422.1 234.93 L422.47 234.69 L422.83 234.45 L423.22 234.2 L423.6 233.95 L423.98 233.71 L424.36 233.46 L424.73 233.23 L425.1 232.99 L425.49 232.75 L425.87 232.51 L426.24 232.27 L426.62 232.03 L427.01 231.79 L427.39 231.55 L427.77 231.32 L428.15 231.08 L428.54 230.84 L428.92 230.61 L429.3 230.38 L429.69 230.14 L430.07 229.91 L430.45 229.68 L430.84 229.45 L431.22 229.22 L431.61 228.99 L431.99 228.77 L432.37 228.54 L432.75 228.31 L433.14 228.09 L433.53 227.86 L433.92 227.63 L434.31 227.41 L434.71 227.18 L435.1 226.96 L435.49 226.74 L435.88 226.51 L436.27 226.3 L436.66 226.08 L437.05 225.86 L437.45 225.64 L437.84 225.43 L438.23 225.21 L438.62 225 L439.02 224.8 L439.42 224.6 L439.56 224.55 L439.5 224.55 L439.5 343.65 L439.84 343.65 L440.82 343.65 L441.8 343.66 L442.78 343.66 L443.76 343.66 L444.74 343.66 L445.72 343.67 L446.7 343.67 L447.68 343.67 L448.65 343.67 L449.63 343.68 L450.61 343.68 L451.59 343.68 L452.57 343.68 L453.55 343.68 L454.53 343.69 L455.51 343.69 L456.49 343.69 L457.47 343.69 L458.45 343.69 L459.43 343.69 L460.4 343.7 L461.38 343.7 L462.36 343.7 L463.34 343.7 L464.32 343.7 L465.3 343.7" stroke="#000000" stroke-width="0.9"/>
<path d="M280.2 339.33 L280.2 347.33 L287.1 343.33ZM283.86 339.25 L283.86 347.25 L290.76 343.25ZM287.51 339.16 L287.51 347.16 L294.41 343.16ZM291.17 339.04 L291.17 347.04 L298.07 343.04ZM294.82 338.88 L294.82 346.88 L301.72 342.88ZM298.48 338.67 L298.48 346.67 L305.38 342.67ZM302.14 338.37 L302.14 346.37 L309.04 342.37ZM305.79 337.92 L305.79 345.92 L312.69 341.92ZM309.45 337.23 L309.45 345.23 L316.35 341.23ZM313.1 335.99 L313.1 343.99 L320 339.99ZM316.76 334.52 L316.76 342.52 L323.66 338.52ZM320.42 332.38 L320.42 340.38 L327.32 336.38ZM324.07 329.12 L324.07 337.12 L330.97 333.12ZM327.73 325.62 L327.73 333.62 L334.63 329.62ZM331.38 321.04 L331.38 329.04 L338.28 325.04ZM335.04 315.64 L335.04 323.64 L341.94 319.64ZM338.7 310.65 L338.7 318.65 L345.6 314.65ZM342.35 305.68 L342.35 313.68 L349.25 309.68ZM346.01 300.81 L346.01 308.81 L352.91 304.81ZM349.66 295.94 L349.66 303.94 L356.56 299.94ZM353.32 291.16 L353.32 299.16 L360.22 295.16ZM356.98 287.1 L356.98 295.1 L363.88 291.1ZM360.63 283.13 L360.63 291.13 L367.53 287.13ZM364.29 279.13 L364.29 287.13 L371.19 283.13ZM367.94 275.09 L367.94 283.09 L374.84 279.09ZM371.6 271.14 L371.6 279.14 L378.5 275.14ZM375.26 267.32 L375.26 275.32 L382.16 271.32ZM378.91 263.63 L378.91 271.63 L385.81 267.63ZM382.57 260.1 L382.57 268.1 L389.47 264.1ZM386.22 256.71 L386.22 264.71 L393.12 260.71ZM389.88 253.45 L389.88 261.45 L396.78 257.45ZM393.54 250.32 L393.54 258.32 L400.44 254.32ZM397.19 247.31 L397.19 255.31 L404.09 251.31ZM400.85 244.42 L400.85 252.42 L407.75 248.42ZM404.5 241.62 L404.5 249.62 L411.4 245.62ZM408.16 238.92 L408.16 246.92 L415.06 242.92ZM411.82 236.32 L411.82 244.32 L418.72 240.32ZM415.47 233.8 L415.47 241.8 L422.37 237.8ZM419.13 231.36 L419.13 239.36 L426.03 235.36ZM422.78 229 L422.78 237 L429.68 233ZM426.44 226.72 L426.44 234.72 L433.34 230.72ZM430.1 224.52 L430.1 232.52 L437 228.52ZM433.75 222.42 L433.75 230.42 L440.65 226.42ZM437.41 339.65 L437.41 347.65 L444.31 343.65ZM441.06 339.66 L441.06 347.66 L447.96 343.66ZM444.72 339.67 L444.72 347.67 L451.62 343.67ZM448.38 339.68 L448.38 347.68 L455.28 343.68ZM452.03 339.69 L452.03 347.69 L458.93 343.69ZM455.69 339.69 L455.69 347.69 L462.59 343.69ZM459.34 339.7 L459.34 347.7 L466.24 343.7ZM463 339.7 L463 347.7 L469.9 343.7Z" stroke="#1a1a1a" stroke-width="0.6" stroke-linejoin="miter"/>
<path d="M285.21 343.28 L288.03 343.21 L290.4 343.14 L292.43 343.08 L294.2 343.01 L295.75 342.95 L297.14 342.88 L298.37 342.82 L299.49 342.75 L300.51 342.69 L301.44 342.62 L302.29 342.56 L303.08 342.49 L303.81 342.43 L304.49 342.36 L305.13 342.3 L305.72 342.23 L306.28 342.17 L307.3 342.04 L308.22 341.91 L309.04 341.78 L309.78 341.65 L310.46 341.52 L311.09 341.39 L311.66 341.26 L312.17 341.13 L312.85 340.93 L313.46 340.74 L314 340.54 L314.51 340.35 L314.99 340.16 L315.46 339.96 L315.94 339.77 L316.42 339.58 L316.93 339.38 L317.45 339.19 L317.94 339 L318.4 338.81 L318.84 338.61 L319.26 338.42 L319.78 338.17 L320.28 337.91 L320.74 337.66 L321.18 337.4 L321.59 337.15 L321.98 336.89 L322.35 336.64 L322.71 336.39 L323.13 336.07 L323.52 335.75 L323.9 335.44 L324.25 335.12 L324.59 334.81 L324.92 334.49 L325.25 334.18 L325.58 333.87 L325.91 333.55 L326.24 333.24 L326.58 332.93 L326.91 332.62 L327.25 332.31 L327.58 332 L327.91 331.69 L328.24 331.38 L328.57 331.07 L328.89 330.76 L329.2 330.46 L329.51 330.15 L329.81 329.84 L330.16 329.47 L330.5 329.11 L330.82 328.74 L331.13 328.38 L331.43 328.01 L331.73 327.65 L332.01 327.28 L332.29 326.92 L332.57 326.56 L332.84 326.2 L333.11 325.84 L333.37 325.48 L333.63 325.12 L333.88 324.76 L334.13 324.4 L334.38 324.05 L334.62 323.69 L334.9 323.28 L335.18 322.86 L335.46 322.45 L335.73 322.04 L336 321.63 L336.27 321.22 L336.55 320.81 L336.82 320.4 L337.1 319.99 L337.38 319.59 L337.66 319.18 L337.95 318.78 L338.23 318.37 L338.52 317.97 L338.82 317.57 L339.11 317.17 L339.41 316.77 L339.7 316.37 L340 315.97 L340.3 315.58 L340.59 315.18 L340.89 314.79 L341.19 314.39 L341.48 314 L341.78 313.61 L342.07 313.22 L342.37 312.82 L342.66 312.44 L342.94 312.05 L343.23 311.66 L343.51 311.27 L343.79 310.89 L344.07 310.5 L344.34 310.12 L344.61 309.74 L344.89 309.36 L345.17 308.97 L345.45 308.59 L345.73 308.22 L346.01 307.84 L346.3 307.46 L346.58 307.08 L346.86 306.71 L347.15 306.33 L347.43 305.96 L347.71 305.59 L347.99 305.22 L348.28 304.85 L348.56 304.48 L348.84 304.11 L349.12 303.74 L349.39 303.37 L349.67 303.01 L349.95 302.64 L350.22 302.28 L350.49 301.92 L350.76 301.55 L351.03 301.19 L351.3 300.83 L351.57 300.47 L351.5 300.37 L351.5 322.92 L351.64 322.92 L351.65 323.51 L351.68 324.11 L351.72 324.7 L351.78 325.3 L351.84 325.84 L351.92 326.38 L352 326.92 L352.1 327.47 L352.21 328.01 L352.32 328.56 L352.44 329.11 L352.54 329.66 L352.65 330.21 L352.77 330.76 L352.9 331.26 L353.05 331.75 L353.24 332.25 L353.44 332.68 L353.68 333.12 L353.92 333.49 L354.19 333.87 L354.5 334.24 L354.8 334.56 L355.12 334.87 L355.47 335.19 L355.83 335.5 L356.21 335.82 L356.61 336.13 L357.03 336.45 L357.39 336.7 L357.77 336.96 L358.16 337.21 L358.58 337.47 L359.03 337.72 L359.5 337.98 L360 338.23 L360.53 338.49 L360.95 338.68 L361.4 338.87 L361.88 339.06 L362.38 339.26 L362.9 339.45 L363.39 339.64 L363.88 339.83 L364.35 340.03 L364.82 340.22 L365.31 340.42 L365.83 340.61 L366.39 340.8 L367.02 341 L367.73 341.19 L368.27 341.32 L368.87 341.45 L369.52 341.58 L370.23 341.71 L371.01 341.84 L371.88 341.97 L372.85 342.1 L373.93 342.23 L374.52 342.3 L375.16 342.36 L375.84 342.43 L376.57 342.49 L377.36 342.56 L378.21 342.62 L379.14 342.69 L380.16 342.75 L381.28 342.82 L382.52 342.88 L383.9 342.95 L385.45 343.01 L387.22 343.08 L389.25 343.14 L391.63 343.21 L394.44 343.28 L397.85 343.34 L402.09 343.41 L407.53 343.47 L408.51 343.48 L409.49 343.49 L410.47 343.5 L411.45 343.51 L412.43 343.51 L413.4 343.52 L414.38 343.53 L415.36 343.54 L416.34 343.54 L417.32 343.55 L418.3 343.56 L419.28 343.56 L420.26 343.57 L421.24 343.57 L422.22 343.58 L423.2 343.58 L424.18 343.59 L425.15 343.59 L426.13 343.6 L427.11 343.6 L428.09 343.61 L429.07 343.61 L430.05 343.62 L431.03 343.62 L432.01 343.62 L432.99 343.63 L433.97 343.63 L434.95 343.63 L435.93 343.64 L436.9 343.64 L437.88 343.64 L438.86 343.65 L439.84 343.65 L440.82 343.65 L441.8 343.66 L442.78 343.66 L443.76 343.66 L444.74 343.66 L445.72 343.67 L446.7 343.67 L447.68 343.67 L448.65 343.67 L449.63 343.68 L450.61 343.68 L451.59 343.68 L452.57 343.68 L453.55 343.68 L454.53 343.69 L455.51 343.69 L456.49 343.69 L457.47 343.69 L458.45 343.69 L459.43 343.69 L460.4 343.7 L461.38 343.7 L462.36 343.7 L463.34 343.7 L464.32 343.7 L465.3 343.7" stroke="#ff0000" stroke-width="0.9"/>
<path d="M284.8 339.33 L284.8 347.33 L277.9 343.33ZM288.46 339.25 L288.46 347.25 L281.56 343.25ZM292.11 339.16 L292.11 347.16 L285.21 343.16ZM295.77 339.04 L295.77 347.04 L288.87 343.04ZM299.42 338.88 L299.42 346.88 L292.52 342.88ZM303.08 338.67 L303.08 346.67 L296.18 342.67ZM306.74 338.37 L306.74 346.37 L299.84 342.37ZM310.39 337.92 L310.39 345.92 L303.49 341.92ZM314.05 337.23 L314.05 345.23 L307.15 341.23ZM317.7 335.99 L317.7 343.99 L310.8 339.99ZM321.36 334.52 L321.36 342.52 L314.46 338.52ZM325.02 332.38 L325.02 340.38 L318.12 336.38ZM328.67 329.12 L328.67 337.12 L321.77 333.12ZM332.33 325.62 L332.33 333.62 L325.43 329.62ZM335.98 321.04 L335.98 329.04 L329.08 325.04ZM339.64 315.64 L339.64 323.64 L332.74 319.64ZM343.3 310.65 L343.3 318.65 L336.4 314.65ZM346.95 305.68 L346.95 313.68 L340.05 309.68ZM350.61 300.81 L350.61 308.81 L343.71 304.81ZM354.26 295.94 L354.26 303.94 L347.36 299.94ZM357.92 331.32 L357.92 339.32 L351.02 335.32ZM361.58 333.86 L361.58 341.86 L354.68 337.86ZM365.23 335.46 L365.23 343.46 L358.33 339.46ZM368.89 336.87 L368.89 344.87 L361.99 340.87ZM372.54 337.71 L372.54 345.71 L365.64 341.71ZM376.2 338.23 L376.2 346.23 L369.3 342.23ZM379.86 338.57 L379.86 346.57 L372.96 342.57ZM383.51 338.81 L383.51 346.81 L376.61 342.81ZM387.17 338.99 L387.17 346.99 L380.27 342.99ZM390.82 339.12 L390.82 347.12 L383.92 343.12ZM394.48 339.22 L394.48 347.22 L387.58 343.22ZM398.14 339.3 L398.14 347.3 L391.24 343.3ZM401.79 339.37 L401.79 347.37 L394.89 343.37ZM405.45 339.42 L405.45 347.42 L398.55 343.42ZM409.1 339.46 L409.1 347.46 L402.2 343.46ZM412.76 339.5 L412.76 347.5 L405.86 343.5ZM416.42 339.53 L416.42 347.53 L409.52 343.53ZM420.07 339.55 L420.07 347.55 L413.17 343.55ZM423.73 339.57 L423.73 347.57 L416.83 343.57ZM427.38 339.59 L427.38 347.59 L420.48 343.59ZM431.04 339.61 L431.04 347.61 L424.14 343.61ZM434.7 339.62 L434.7 347.62 L427.8 343.62ZM438.35 339.64 L438.35 347.64 L431.45 343.64ZM442.01 339.65 L442.01 347.65 L435.11 343.65ZM445.66 339.66 L445.66 347.66 L438.76 343.66ZM449.32 339.67 L449.32 347.67 L442.42 343.67ZM452.98 339.68 L452.98 347.68 L446.08 343.68ZM456.63 339.69 L456.63 347.69 L449.73 343.69ZM460.29 339.69 L460.29 347.69 L453.39 343.69ZM463.94 339.7 L463.94 347.7 L457.04 343.7ZM467.6 339.7 L467.6 347.7 L460.7 343.7Z" stroke="#ff0000" stroke-width="0.6" stroke-linejoin="miter"/>
</g>
<clipPath id="c4"><rect x="54.9" y="375.5" width="184.3" height="134.65"/></clipPath>
<g clip-path="url(#c4)" fill="none" stroke-linejoin="round">
<path d="M55.69 507.36 L56.29 507.33 L56.87 507.3 L57.45 507.26 L58.55 507.2 L59.62 507.14 L60.63 507.07 L61.61 507.01 L62.54 506.94 L63.44 506.88 L64.31 506.82 L65.15 506.75 L65.96 506.69 L66.73 506.63 L67.49 506.56 L68.22 506.5 L68.92 506.43 L69.61 506.37 L70.27 506.31 L70.91 506.24 L71.54 506.18 L72.15 506.12 L72.74 506.05 L73.31 505.99 L73.87 505.93 L74.42 505.86 L75.21 505.77 L75.98 505.67 L76.71 505.58 L77.42 505.49 L78.11 505.39 L78.78 505.3 L79.42 505.2 L80.05 505.11 L80.65 505.01 L81.24 504.92 L81.81 504.83 L82.37 504.73 L82.91 504.64 L83.43 504.55 L83.94 504.45 L84.61 504.33 L85.25 504.2 L85.87 504.08 L86.47 503.96 L87.05 503.83 L87.62 503.71 L88.17 503.58 L88.71 503.46 L89.23 503.34 L89.74 503.21 L90.23 503.09 L90.71 502.97 L91.3 502.82 L91.87 502.66 L92.42 502.51 L92.96 502.36 L93.49 502.2 L94 502.05 L94.49 501.9 L94.98 501.75 L95.45 501.6 L95.91 501.45 L96.36 501.3 L96.89 501.11 L97.41 500.93 L97.91 500.75 L98.4 500.57 L98.88 500.4 L99.34 500.22 L99.8 500.04 L100.25 499.86 L100.68 499.68 L101.11 499.5 L101.6 499.3 L102.08 499.09 L102.54 498.88 L103 498.68 L103.45 498.47 L103.88 498.27 L104.31 498.07 L104.73 497.86 L105.15 497.66 L105.55 497.46 L106.01 497.23 L106.45 497 L106.89 496.77 L107.32 496.54 L107.74 496.31 L108.15 496.08 L108.55 495.85 L108.95 495.63 L109.35 495.4 L109.73 495.18 L110.11 494.95 L110.53 494.7 L110.94 494.45 L111.35 494.2 L111.75 493.95 L112.14 493.7 L112.53 493.45 L112.91 493.2 L113.29 492.96 L113.66 492.71 L114.02 492.46 L114.38 492.22 L114.78 491.95 L115.17 491.68 L115.55 491.41 L115.93 491.14 L116.31 490.88 L116.69 490.61 L117.06 490.35 L117.44 490.08 L117.81 489.82 L118.18 489.56 L118.55 489.29 L118.91 489.03 L119.27 488.78 L119.63 488.52 L119.99 488.26 L120.34 488 L120.69 487.75 L121.04 487.49 L121.42 487.21 L121.8 486.94 L122.17 486.66 L122.53 486.38 L122.9 486.11 L123.26 485.84 L123.61 485.56 L123.96 485.29 L124.31 485.02 L124.65 484.75 L124.99 484.49 L125.32 484.22 L125.68 483.93 L126.04 483.64 L126.38 483.35 L126.73 483.07 L127.07 482.79 L127.4 482.5 L127.73 482.22 L128.05 481.94 L128.39 481.64 L128.73 481.34 L129.06 481.04 L129.38 480.74 L129.7 480.45 L130.01 480.15 L130.34 479.84 L130.66 479.52 L130.99 479.21 L131.3 478.9 L131.62 478.6 L131.92 478.29 L132.23 477.98 L132.53 477.68 L132.85 477.36 L133.16 477.04 L133.47 476.72 L133.78 476.41 L134.08 476.09 L134.38 475.78 L134.68 475.47 L134.97 475.16 L135.28 474.84 L135.59 474.51 L135.89 474.19 L136.19 473.87 L136.49 473.56 L136.78 473.24 L137.07 472.93 L137.38 472.6 L137.68 472.27 L137.98 471.95 L138.27 471.63 L138.57 471.31 L138.86 470.99 L139.15 470.68 L139.45 470.35 L139.75 470.02 L140.05 469.7 L140.35 469.38 L140.64 469.06 L140.93 468.75 L141.23 468.42 L141.53 468.09 L141.83 467.77 L142.13 467.45 L142.42 467.13 L142.71 466.82 L143.01 466.49 L143.31 466.17 L143.61 465.85 L143.91 465.53 L144.2 465.22 L144.5 464.9 L144.8 464.57 L145.1 464.26 L145.4 463.94 L145.7 463.62 L146 463.3 L146.29 462.98 L146.58 462.67 L146.89 462.35 L147.18 462.03 L147.48 461.72 L147.78 461.4 L148.08 461.08 L148.38 460.77 L148.68 460.45 L148.98 460.14 L149.28 459.83 L149.59 459.51 L149.89 459.2 L150.19 458.9 L150.5 458.59 L150.8 458.28 L151.11 457.98 L151.42 457.67 L151.73 457.37 L152.04 457.06 L152.36 456.76 L152.67 456.47 L152.99 456.17 L153.3 455.88 L153.61 455.58 L153.93 455.29 L154.26 455 L154.58 454.71 L154.9 454.41 L155.23 454.13 L155.55 453.84 L155.88 453.56 L156.2 453.28 L156.53 453.01 L156.87 452.73 L157.21 452.46 L157.55 452.19 L157.89 451.93 L158.23 451.67 L158.58 451.42 L158.94 451.17 L159.3 450.94 L159.68 450.71 L160.07 450.49 L160.48 450.29 L160.91 450.12 L161.39 450 L161.68 449.98" stroke="#0000ff" stroke-width="2.1"/>
<path d="M153.76 491.41 L153.76 492.03 L153.78 492.63 L153.82 493.2 L153.86 493.78 L153.93 494.34 L154.01 494.87 L154.11 495.37 L154.23 495.88 L154.36 496.37 L154.52 496.82 L154.7 497.28 L154.89 497.72 L155.1 498.12 L155.33 498.53 L155.56 498.91 L155.81 499.3 L156.06 499.65 L156.34 500.01 L156.61 500.34 L156.91 500.66 L157.22 500.96 L157.55 501.27 L157.91 501.57 L158.27 501.84 L158.66 502.11 L159.04 502.36 L159.46 502.6 L159.85 502.82 L160.28 503.03 L160.74 503.25 L161.16 503.43 L161.62 503.62 L162.1 503.8 L162.63 503.99 L163.1 504.14 L163.6 504.3 L164.13 504.45 L164.7 504.61 L165.18 504.73 L165.69 504.86 L166.22 504.98 L166.78 505.11 L167.38 505.23 L168 505.36 L168.66 505.49 L169.18 505.58 L169.72 505.67 L170.28 505.77 L170.87 505.86 L171.49 505.96 L172.14 506.05 L172.82 506.15 L173.53 506.24 L174.28 506.34 L175.07 506.43 L175.63 506.5 L176.2 506.56 L176.79 506.63 L177.41 506.69 L178.05 506.75 L178.72 506.82 L179.41 506.88 L180.14 506.94 L180.89 507.01 L181.68 507.07 L182.51 507.14 L183.38 507.2 L184.29 507.26 L185.24 507.33 L186.25 507.39 L187.31 507.46 L188.43 507.52 L189.01 507.55 L189.61 507.58 L190.23 507.62 L190.86 507.65 L191.52 507.68 L192.2 507.71 L192.89 507.74 L193.61 507.78 L194.36 507.81 L195.13 507.84 L195.92 507.87 L196.75 507.91 L197.6 507.94 L198.49 507.97 L199.41 508 L200.36 508.03 L201.35 508.07 L202.39 508.1 L203.46 508.13 L204.59 508.16 L205.76 508.2 L206.99 508.23 L208.27 508.26 L209.62 508.29 L211.03 508.33 L212.52 508.36 L214.09 508.39 L215.74 508.42 L217.49 508.45 L219.35 508.49 L221.32 508.52 L223.42 508.55 L225.66 508.58 L228.06 508.62 L230.64 508.65 L233.42 508.68 L236.43 508.71 L237.03 508.72 L237.64 508.73 L238.24 508.73 L238.3 508.73" stroke="#0000ff" stroke-width="2.1"/>
<path d="M161.68 449.98 L162.07 450.12 L162.27 450.52 L162.32 451.07 L162.28 451.63 L162.2 452.15 L162.1 452.65 L161.99 453.14 L161.86 453.62 L161.74 454.1 L161.6 454.57 L161.46 455.03 L161.32 455.49 L161.18 455.96 L161.03 456.42 L160.88 456.87 L160.73 457.33 L160.58 457.79 L160.43 458.25 L160.28 458.7 L160.12 459.16 L159.97 459.61 L159.82 460.06 L159.66 460.52 L159.51 460.97 L159.36 461.43 L159.22 461.88 L159.07 462.35 L158.93 462.81 L158.78 463.29 L158.65 463.75 L158.51 464.23 L158.38 464.7 L158.24 465.17 L158.11 465.66 L157.99 466.14 L157.86 466.62 L157.73 467.11 L157.61 467.6 L157.49 468.09 L157.37 468.57 L157.25 469.06 L157.13 469.56 L157.01 470.04 L156.89 470.53 L156.76 471.03 L156.64 471.52 L156.51 472.01 L156.39 472.48 L156.26 472.97 L156.14 473.46 L156.02 473.95 L155.9 474.45 L155.78 474.96 L155.67 475.45 L155.56 475.95 L155.45 476.45 L155.35 476.96 L155.24 477.47 L155.14 477.98 L155.04 478.51 L154.94 479.04 L154.85 479.55 L154.77 480.06 L154.68 480.58 L154.6 481.11 L154.52 481.64 L154.44 482.17 L154.37 482.71 L154.3 483.26 L154.23 483.81 L154.17 484.36 L154.11 484.92 L154.06 485.49 L154.01 486.06 L153.97 486.63 L153.93 487.21 L153.89 487.8 L153.86 488.39 L153.83 488.98 L153.8 489.58 L153.78 490.19 L153.76 490.8 L153.76 491.41" stroke="#0000ff" stroke-width="2.4" stroke-dasharray="6.4 5.9" stroke-dashoffset="1" stroke-linecap="butt"/>
<path d="M55.69 507.36 L56.29 507.33 L56.87 507.3 L57.45 507.26 L58.55 507.2 L59.62 507.14 L60.63 507.07 L61.61 507.01 L62.54 506.94 L63.44 506.88 L64.31 506.82 L65.15 506.75 L65.96 506.69 L66.73 506.63 L67.49 506.56 L68.22 506.5 L68.92 506.43 L69.61 506.37 L70.27 506.31 L70.91 506.24 L71.54 506.18 L72.15 506.12 L72.74 506.05 L73.31 505.99 L73.87 505.93 L74.42 505.86 L75.21 505.77 L75.98 505.67 L76.71 505.58 L77.42 505.49 L78.11 505.39 L78.78 505.3 L79.42 505.2 L80.05 505.11 L80.65 505.01 L81.24 504.92 L81.81 504.83 L82.37 504.73 L82.91 504.64 L83.43 504.55 L83.94 504.45 L84.61 504.33 L85.25 504.2 L85.87 504.08 L86.47 503.96 L87.05 503.83 L87.62 503.71 L88.17 503.58 L88.71 503.46 L89.23 503.34 L89.74 503.21 L90.23 503.09 L90.71 502.97 L91.3 502.82 L91.87 502.66 L92.42 502.51 L92.96 502.36 L93.49 502.2 L94 502.05 L94.49 501.9 L94.98 501.75 L95.45 501.6 L95.91 501.45 L96.36 501.3 L96.89 501.11 L97.41 500.93 L97.91 500.75 L98.4 500.57 L98.88 500.4 L99.34 500.22 L99.8 500.04 L100.25 499.86 L100.68 499.68 L101.11 499.5 L101.6 499.3 L102.08 499.09 L102.54 498.88 L103 498.68 L103.45 498.47 L103.88 498.27 L104.31 498.07 L104.73 497.86 L105.15 497.66 L105.55 497.46 L106.01 497.23 L106.45 497 L106.89 496.77 L107.32 496.54 L107.74 496.31 L108.15 496.08 L108.55 495.85 L108.95 495.63 L109.35 495.4 L109.73 495.18 L110.11 494.95 L110.53 494.7 L110.94 494.45 L111.35 494.2 L111.75 493.95 L112.14 493.7 L112.53 493.45 L112.91 493.2 L113.29 492.96 L113.66 492.71 L114.02 492.46 L114.38 492.22 L114.78 491.95 L115.17 491.68 L115.55 491.41 L115.93 491.14 L116.31 490.88 L116.69 490.61 L117.06 490.35 L117.44 490.08 L117.81 489.82 L118.18 489.56 L118.55 489.29 L118.91 489.03 L119.27 488.78 L119.63 488.52 L119.99 488.26 L120.34 488 L120.69 487.75 L121.04 487.49 L121.42 487.21 L121.8 486.94 L122.17 486.66 L122.53 486.38 L122.9 486.11 L123.26 485.84 L123.61 485.56 L123.96 485.29 L124.31 485.02 L124.65 484.75 L124.99 484.49 L125.32 484.22 L125.68 483.93 L126.04 483.64 L126.38 483.35 L126.73 483.07 L127.07 482.79 L127.4 482.5 L127.73 482.22 L128.05 481.94 L128.39 481.64 L128.73 481.34 L129.06 481.04 L129.38 480.74 L129.7 480.45 L130.01 480.15 L130.34 479.84 L130.66 479.52 L130.99 479.21 L131.3 478.9 L131.62 478.6 L131.92 478.29 L132.23 477.98 L132.53 477.68 L132.85 477.36 L133.16 477.04 L133.47 476.72 L133.78 476.41 L134.08 476.09 L134.38 475.78 L134.68 475.47 L134.97 475.16 L135.28 474.84 L135.59 474.51 L135.89 474.19 L136.19 473.87 L136.49 473.56 L136.78 473.24 L137.07 472.93 L137.38 472.6 L137.68 472.27 L137.98 471.95 L138.27 471.63 L138.57 471.31 L138.86 470.99 L139.15 470.68 L139.45 470.35 L139.75 470.02 L140.05 469.7 L140.35 469.38 L140.64 469.06 L140.93 468.75 L141.23 468.42 L141.53 468.09 L141.83 467.77 L142.13 467.45 L142.42 467.13 L142.71 466.82 L143.01 466.49 L143.31 466.17 L143.61 465.85 L143.91 465.53 L144.2 465.22 L144.5 464.9 L144.8 464.57 L145.1 464.26 L145.4 463.94 L145.7 463.62 L146 463.3 L146.29 462.98 L146.58 462.67 L146.89 462.35 L147.18 462.03 L147.48 461.72 L147.78 461.4 L148.08 461.08 L148.38 460.77 L148.68 460.45 L148.98 460.14 L149.28 459.83 L149.59 459.51 L149.89 459.2 L150.19 458.9 L150.5 458.59 L150.8 458.28 L151.11 457.98 L151.42 457.67 L151.73 457.37 L152.04 457.06 L152.36 456.76 L152.67 456.47 L152.99 456.17 L153.3 455.88 L153.61 455.58 L153.93 455.29 L154.26 455 L154.58 454.71 L154.9 454.41 L155.23 454.13 L155.55 453.84 L155.88 453.56 L156.2 453.28 L156.53 453.01 L156.87 452.73 L157.21 452.46 L157.55 452.19 L157.89 451.93 L158.23 451.67 L158.58 451.42 L158.94 451.17 L159.3 450.94 L159.68 450.71 L160.07 450.49 L160.48 450.29 L160.91 450.12 L161.39 450 L161.68 449.98 L161.5 449.98 L161.5 503.64 L162.1 503.8 L162.63 503.99 L163.1 504.14 L163.6 504.3 L164.13 504.45 L164.7 504.61 L165.18 504.73 L165.69 504.86 L166.22 504.98 L166.78 505.11 L167.38 505.23 L168 505.36 L168.66 505.49 L169.18 505.58 L169.72 505.67 L170.28 505.77 L170.87 505.86 L171.49 505.96 L172.14 506.05 L172.82 506.15 L173.53 506.24 L174.28 506.34 L175.07 506.43 L175.63 506.5 L176.2 506.56 L176.79 506.63 L177.41 506.69 L178.05 506.75 L178.72 506.82 L179.41 506.88 L180.14 506.94 L180.89 507.01 L181.68 507.07 L182.51 507.14 L183.38 507.2 L184.29 507.26 L185.24 507.33 L186.25 507.39 L187.31 507.46 L188.43 507.52 L189.01 507.55 L189.61 507.58 L190.23 507.62 L190.86 507.65 L191.52 507.68 L192.2 507.71 L192.89 507.74 L193.61 507.78 L194.36 507.81 L195.13 507.84 L195.92 507.87 L196.75 507.91 L197.6 507.94 L198.49 507.97 L199.41 508 L200.36 508.03 L201.35 508.07 L202.39 508.1 L203.46 508.13 L204.59 508.16 L205.76 508.2 L206.99 508.23 L208.27 508.26 L209.62 508.29 L211.03 508.33 L212.52 508.36 L214.09 508.39 L215.74 508.42 L217.49 508.45 L219.35 508.49 L221.32 508.52 L223.42 508.55 L225.66 508.58 L228.06 508.62 L230.64 508.65 L233.42 508.68 L236.43 508.71 L237.03 508.72 L237.64 508.73 L238.24 508.73 L238.3 508.73" stroke="#000000" stroke-width="0.9"/>
<path d="M53.6 503.35 L53.6 511.35 L60.5 507.35ZM57.26 503.14 L57.26 511.14 L64.16 507.14ZM60.91 502.9 L60.91 510.9 L67.81 506.9ZM64.57 502.61 L64.57 510.61 L71.47 506.61ZM68.22 502.28 L68.22 510.28 L75.12 506.28ZM71.88 501.89 L71.88 509.89 L78.78 505.89ZM75.54 501.43 L75.54 509.43 L82.44 505.43ZM79.19 500.88 L79.19 508.88 L86.09 504.88ZM82.85 500.22 L82.85 508.22 L89.75 504.22ZM86.5 499.44 L86.5 507.44 L93.4 503.44ZM90.16 498.5 L90.16 506.5 L97.06 502.5ZM93.82 497.38 L93.82 505.38 L100.72 501.38ZM97.47 496.05 L97.47 504.05 L104.37 500.05ZM101.13 494.48 L101.13 502.48 L108.03 498.48ZM104.78 492.66 L104.78 500.66 L111.68 496.66ZM108.44 490.57 L108.44 498.57 L115.34 494.57ZM112.1 488.21 L112.1 496.21 L119 492.21ZM115.75 485.65 L115.75 493.65 L122.65 489.65ZM119.41 483 L119.41 491 L126.31 487ZM123.06 480.19 L123.06 488.19 L129.96 484.19ZM126.72 477.07 L126.72 485.07 L133.62 481.07ZM130.38 473.53 L130.38 481.53 L137.28 477.53ZM134.03 469.72 L134.03 477.72 L140.93 473.72ZM137.69 465.77 L137.69 473.77 L144.59 469.77ZM141.34 461.81 L141.34 469.81 L148.24 465.81ZM145 457.91 L145 465.91 L151.9 461.91ZM148.66 454.13 L148.66 462.13 L155.56 458.13ZM152.31 450.68 L152.31 458.68 L159.21 454.68ZM155.97 447.65 L155.97 455.65 L162.87 451.65ZM159.62 499.73 L159.62 507.73 L166.52 503.73ZM163.28 500.83 L163.28 508.83 L170.18 504.83ZM166.94 501.59 L166.94 509.59 L173.84 505.59ZM170.59 502.16 L170.59 510.16 L177.49 506.16ZM174.25 502.6 L174.25 510.6 L181.15 506.6ZM177.9 502.95 L177.9 510.95 L184.8 506.95ZM181.56 503.23 L181.56 511.23 L188.46 507.23ZM185.22 503.47 L185.22 511.47 L192.12 507.47ZM188.87 503.66 L188.87 511.66 L195.77 507.66ZM192.53 503.83 L192.53 511.83 L199.43 507.83ZM196.18 503.97 L196.18 511.97 L203.08 507.97ZM199.84 504.09 L199.84 512.09 L206.74 508.09ZM203.5 504.2 L203.5 512.2 L210.4 508.2ZM207.15 504.29 L207.15 512.29 L214.05 508.29ZM210.81 504.37 L210.81 512.37 L217.71 508.37ZM214.46 504.44 L214.46 512.44 L221.36 508.44ZM218.12 504.5 L218.12 512.5 L225.02 508.5ZM221.78 504.56 L221.78 512.56 L228.68 508.56ZM225.43 504.61 L225.43 512.61 L232.33 508.61ZM229.09 504.66 L229.09 512.66 L235.99 508.66ZM232.74 504.7 L232.74 512.7 L239.64 508.7Z" stroke="#1a1a1a" stroke-width="0.6" stroke-linejoin="miter"/>
<path d="M55.69 507.36 L56.29 507.33 L56.87 507.3 L57.45 507.26 L58.55 507.2 L59.62 507.14 L60.63 507.07 L61.61 507.01 L62.54 506.94 L63.44 506.88 L64.31 506.82 L65.15 506.75 L65.96 506.69 L66.73 506.63 L67.49 506.56 L68.22 506.5 L68.92 506.43 L69.61 506.37 L70.27 506.31 L70.91 506.24 L71.54 506.18 L72.15 506.12 L72.74 506.05 L73.31 505.99 L73.87 505.93 L74.42 505.86 L75.21 505.77 L75.98 505.67 L76.71 505.58 L77.42 505.49 L78.11 505.39 L78.78 505.3 L79.42 505.2 L80.05 505.11 L80.65 505.01 L81.24 504.92 L81.81 504.83 L82.37 504.73 L82.91 504.64 L83.43 504.55 L83.94 504.45 L84.61 504.33 L85.25 504.2 L85.87 504.08 L86.47 503.96 L87.05 503.83 L87.62 503.71 L88.17 503.58 L88.71 503.46 L89.23 503.34 L89.74 503.21 L90.23 503.09 L90.71 502.97 L91.3 502.82 L91.87 502.66 L92.42 502.51 L92.96 502.36 L93.49 502.2 L94 502.05 L94.49 501.9 L94.98 501.75 L95.45 501.6 L95.91 501.45 L96.36 501.3 L96.89 501.11 L97.41 500.93 L97.91 500.75 L98.4 500.57 L98.88 500.4 L99.34 500.22 L99.8 500.04 L100.25 499.86 L100.68 499.68 L101.11 499.5 L101.6 499.3 L102.08 499.09 L102.54 498.88 L103 498.68 L103.45 498.47 L103.88 498.27 L104.31 498.07 L104.73 497.86 L105.15 497.66 L105.55 497.46 L106.01 497.23 L106.45 497 L106.89 496.77 L107.32 496.54 L107.74 496.31 L108.15 496.08 L108.55 495.85 L108.95 495.63 L109.35 495.4 L109.73 495.18 L110.11 494.95 L110.53 494.7 L110.94 494.45 L111.35 494.2 L111.75 493.95 L112.14 493.7 L112.53 493.45 L112.91 493.2 L113.29 492.96 L113.66 492.71 L114.02 492.46 L114.38 492.22 L114.78 491.95 L115.17 491.68 L115.55 491.41 L115.93 491.14 L116.31 490.88 L116.69 490.61 L117.06 490.35 L117.44 490.08 L117.81 489.82 L118.18 489.56 L118.55 489.29 L118.91 489.03 L119.27 488.78 L119.63 488.52 L119.99 488.26 L120.34 488 L120.69 487.75 L121.04 487.49 L121.42 487.21 L121.8 486.94 L122.17 486.66 L122.53 486.38 L122.9 486.11 L123.26 485.84 L123.61 485.56 L123.96 485.29 L124.31 485.02 L124.65 484.75 L124.99 484.49 L125.32 484.22 L125.68 483.93 L126.04 483.64 L126.38 483.35 L126.73 483.07 L127.07 482.79 L127.4 482.5 L127.73 482.22 L128.05 481.94 L128.39 481.64 L128.73 481.34 L129.06 481.04 L129.38 480.74 L129.7 480.45 L130.01 480.15 L130.34 479.84 L130.66 479.52 L130.99 479.21 L131.3 478.9 L131.62 478.6 L131.92 478.29 L132.23 477.98 L132.53 477.68 L132.85 477.36 L133.16 477.04 L133.47 476.72 L133.78 476.41 L134.08 476.09 L134.38 475.78 L134.68 475.47 L134.97 475.16 L135.28 474.84 L135.59 474.51 L135.89 474.19 L136.19 473.87 L136.49 473.56 L136.78 473.24 L137.07 472.93 L137.38 472.6 L137.68 472.27 L137.98 471.95 L138.27 471.63 L138.57 471.31 L138.86 470.99 L139.15 470.68 L139.45 470.35 L139.75 470.02 L140.05 469.7 L140.35 469.38 L140.64 469.06 L140.93 468.75 L141.23 468.42 L141.53 468.09 L141.83 467.77 L142.13 467.45 L142.42 467.13 L142.71 466.82 L143.01 466.49 L143.31 466.17 L143.61 465.85 L143.91 465.53 L144.2 465.22 L144.5 464.9 L144.8 464.57 L145.1 464.26 L145.4 463.94 L145.7 463.62 L146 463.3 L146.29 462.98 L146.58 462.67 L146.89 462.35 L147.18 462.03 L147.48 461.72 L147.78 461.4 L148.08 461.08 L148.38 460.77 L148.68 460.45 L148.98 460.14 L149.28 459.83 L149.59 459.51 L149.89 459.2 L150.19 458.9 L150.5 458.59 L150.8 458.28 L151.11 457.98 L151.42 457.67 L151.73 457.37 L152.04 457.06 L152.36 456.76 L152.67 456.47 L152.99 456.17 L153.3 455.88 L153.61 455.58 L153.5 455.45 L153.5 491.41 L153.76 491.41 L153.76 492.03 L153.78 492.63 L153.82 493.2 L153.86 493.78 L153.93 494.34 L154.01 494.87 L154.11 495.37 L154.23 495.88 L154.36 496.37 L154.52 496.82 L154.7 497.28 L154.89 497.72 L155.1 498.12 L155.33 498.53 L155.56 498.91 L155.81 499.3 L156.06 499.65 L156.34 500.01 L156.61 500.34 L156.91 500.66 L157.22 500.96 L157.55 501.27 L157.91 501.57 L158.27 501.84 L158.66 502.11 L159.04 502.36 L159.46 502.6 L159.85 502.82 L160.28 503.03 L160.74 503.25 L161.16 503.43 L161.62 503.62 L162.1 503.8 L162.63 503.99 L163.1 504.14 L163.6 504.3 L164.13 504.45 L164.7 504.61 L165.18 504.73 L165.69 504.86 L166.22 504.98 L166.78 505.11 L167.38 505.23 L168 505.36 L168.66 505.49 L169.18 505.58 L169.72 505.67 L170.28 505.77 L170.87 505.86 L171.49 505.96 L172.14 506.05 L172.82 506.15 L173.53 506.24 L174.28 506.34 L175.07 506.43 L175.63 506.5 L176.2 506.56 L176.79 506.63 L177.41 506.69 L178.05 506.75 L178.72 506.82 L179.41 506.88 L180.14 506.94 L180.89 507.01 L181.68 507.07 L182.51 507.14 L183.38 507.2 L184.29 507.26 L185.24 507.33 L186.25 507.39 L187.31 507.46 L188.43 507.52 L189.01 507.55 L189.61 507.58 L190.23 507.62 L190.86 507.65 L191.52 507.68 L192.2 507.71 L192.89 507.74 L193.61 507.78 L194.36 507.81 L195.13 507.84 L195.92 507.87 L196.75 507.91 L197.6 507.94 L198.49 507.97 L199.41 508 L200.36 508.03 L201.35 508.07 L202.39 508.1 L203.46 508.13 L204.59 508.16 L205.76 508.2 L206.99 508.23 L208.27 508.26 L209.62 508.29 L211.03 508.33 L212.52 508.36 L214.09 508.39 L215.74 508.42 L217.49 508.45 L219.35 508.49 L221.32 508.52 L223.42 508.55 L225.66 508.58 L228.06 508.62 L230.64 508.65 L233.42 508.68 L236.43 508.71 L237.03 508.72 L237.64 508.73 L238.24 508.73 L238.3 508.73" stroke="#ff0000" stroke-width="0.9"/>
<path d="M58.2 503.35 L58.2 511.35 L51.3 507.35ZM61.86 503.14 L61.86 511.14 L54.96 507.14ZM65.51 502.9 L65.51 510.9 L58.61 506.9ZM69.17 502.61 L69.17 510.61 L62.27 506.61ZM72.82 502.28 L72.82 510.28 L65.92 506.28ZM76.48 501.89 L76.48 509.89 L69.58 505.89ZM80.14 501.43 L80.14 509.43 L73.24 505.43ZM83.79 500.88 L83.79 508.88 L76.89 504.88ZM87.45 500.22 L87.45 508.22 L80.55 504.22ZM91.1 499.44 L91.1 507.44 L84.2 503.44ZM94.76 498.5 L94.76 506.5 L87.86 502.5ZM98.42 497.38 L98.42 505.38 L91.52 501.38ZM102.07 496.05 L102.07 504.05 L95.17 500.05ZM105.73 494.48 L105.73 502.48 L98.83 498.48ZM109.38 492.66 L109.38 500.66 L102.48 496.66ZM113.04 490.57 L113.04 498.57 L106.14 494.57ZM116.7 488.21 L116.7 496.21 L109.8 492.21ZM120.35 485.65 L120.35 493.65 L113.45 489.65ZM124.01 483 L124.01 491 L117.11 487ZM127.66 480.19 L127.66 488.19 L120.76 484.19ZM131.32 477.07 L131.32 485.07 L124.42 481.07ZM134.98 473.53 L134.98 481.53 L128.08 477.53ZM138.63 469.72 L138.63 477.72 L131.73 473.72ZM142.29 465.77 L142.29 473.77 L135.39 469.77ZM145.94 461.81 L145.94 469.81 L139.04 465.81ZM149.6 457.91 L149.6 465.91 L142.7 461.91ZM153.26 454.13 L153.26 462.13 L146.36 458.13ZM156.91 493.08 L156.91 501.08 L150.01 497.08ZM160.57 497.84 L160.57 505.84 L153.67 501.84ZM164.22 499.73 L164.22 507.73 L157.32 503.73ZM167.88 500.83 L167.88 508.83 L160.98 504.83ZM171.54 501.59 L171.54 509.59 L164.64 505.59ZM175.19 502.16 L175.19 510.16 L168.29 506.16ZM178.85 502.6 L178.85 510.6 L171.95 506.6ZM182.5 502.95 L182.5 510.95 L175.6 506.95ZM186.16 503.23 L186.16 511.23 L179.26 507.23ZM189.82 503.47 L189.82 511.47 L182.92 507.47ZM193.47 503.66 L193.47 511.66 L186.57 507.66ZM197.13 503.83 L197.13 511.83 L190.23 507.83ZM200.78 503.97 L200.78 511.97 L193.88 507.97ZM204.44 504.09 L204.44 512.09 L197.54 508.09ZM208.1 504.2 L208.1 512.2 L201.2 508.2ZM211.75 504.29 L211.75 512.29 L204.85 508.29ZM215.41 504.37 L215.41 512.37 L208.51 508.37ZM219.06 504.44 L219.06 512.44 L212.16 508.44ZM222.72 504.5 L222.72 512.5 L215.82 508.5ZM226.38 504.56 L226.38 512.56 L219.48 508.56ZM230.03 504.61 L230.03 512.61 L223.13 508.61ZM233.69 504.66 L233.69 512.66 L226.79 508.66ZM237.34 504.7 L237.34 512.7 L230.44 508.7Z" stroke="#ff0000" stroke-width="0.6" stroke-linejoin="miter"/>
</g>
<clipPath id="c5"><rect x="281.9" y="375.5" width="184.3" height="134.45"/></clipPath>
<g clip-path="url(#c5)" fill="none" stroke-linejoin="round">
<path d="M282.56 505.62 L283.18 505.56 L283.79 505.5 L284.38 505.44 L284.96 505.38 L285.52 505.32 L286.07 505.26 L287.09 505.14 L288.03 505.02 L288.9 504.9 L289.69 504.78 L290.43 504.66 L291.11 504.54 L291.74 504.42 L292.32 504.3 L292.86 504.18 L293.37 504.06 L294.08 503.88 L294.73 503.7 L295.34 503.52 L295.91 503.34 L296.46 503.16 L297 502.98 L297.54 502.8 L298.08 502.63 L298.63 502.45 L299.2 502.27 L299.8 502.09 L300.42 501.91 L301.09 501.73 L301.8 501.56 L302.29 501.44 L303.01 501.26 L303.71 501.08 L304.39 500.91 L305.05 500.73 L305.69 500.55 L306.32 500.38 L306.94 500.2 L307.54 500.02 L308.12 499.85 L308.7 499.67 L309.26 499.5 L309.8 499.32 L310.34 499.15 L310.87 498.97 L311.38 498.8 L311.89 498.62 L312.39 498.45 L312.88 498.27 L313.35 498.1 L313.83 497.92 L314.29 497.75 L314.74 497.57 L315.19 497.4 L315.63 497.23 L316.06 497.05 L316.49 496.88 L317.05 496.65 L317.6 496.42 L318.14 496.19 L318.67 495.96 L319.18 495.73 L319.69 495.5 L320.2 495.27 L320.69 495.04 L321.17 494.81 L321.65 494.59 L322.12 494.36 L322.59 494.13 L323.04 493.9 L323.49 493.68 L323.94 493.45 L324.37 493.22 L324.81 493 L325.23 492.77 L325.65 492.55 L326.07 492.32 L326.49 492.1 L326.91 491.87 L327.34 491.65 L327.77 491.42 L328.2 491.2 L328.63 490.97 L329.07 490.75 L329.51 490.53 L329.95 490.31 L330.39 490.08 L330.83 489.86 L331.27 489.64 L331.71 489.42 L332.16 489.2 L332.6 488.98 L333.04 488.76 L333.48 488.54 L333.92 488.32 L334.36 488.1 L334.79 487.88 L335.23 487.66 L335.66 487.44 L336.09 487.22 L336.52 487 L336.94 486.78 L337.37 486.57 L337.79 486.35 L338.2 486.13 L338.61 485.91 L339.02 485.7 L339.43 485.48 L339.83 485.27 L340.23 485.05 L340.62 484.83 L341.01 484.62 L341.49 484.35 L341.96 484.08 L342.43 483.82 L342.88 483.55 L343.33 483.28 L343.77 483.02 L344.2 482.75 L344.63 482.48 L345.04 482.22 L345.45 481.96 L345.84 481.69 L346.23 481.43 L346.61 481.16 L346.97 480.9 L347.33 480.64 L347.68 480.38 L348.08 480.06 L348.47 479.75 L348.84 479.44 L349.2 479.13 L349.54 478.82 L349.86 478.51 L350.18 478.2 L350.5 477.89 L350.82 477.58 L351.13 477.27 L351.44 476.97 L351.75 476.66 L352.05 476.35 L352.35 476.05 L352.66 475.74 L352.96 475.44 L353.25 475.14 L353.6 474.78 L353.94 474.43 L354.28 474.08 L354.61 473.73 L354.95 473.38 L355.28 473.03 L355.61 472.69 L355.94 472.34 L356.26 471.99 L356.58 471.65 L356.9 471.3 L357.22 470.96 L357.54 470.62 L357.85 470.28 L358.17 469.94 L358.48 469.6 L358.78 469.26 L359.09 468.92 L359.39 468.58 L359.7 468.25 L360 467.91 L360.3 467.58 L360.59 467.24 L360.89 466.91 L361.18 466.58 L361.47 466.25 L361.77 465.92 L362.05 465.59 L362.34 465.26 L362.63 464.93 L362.91 464.6 L363.19 464.28 L363.47 463.95 L363.75 463.63 L364.03 463.31 L364.35 462.94 L364.66 462.57 L364.97 462.2 L365.29 461.84 L365.59 461.47 L365.9 461.11 L366.21 460.75 L366.51 460.39 L366.81 460.03 L367.11 459.67 L367.41 459.31 L367.71 458.96 L368 458.6 L368.3 458.25 L368.59 457.9 L368.88 457.54 L369.17 457.19 L369.46 456.84 L369.74 456.5 L370.03 456.15 L370.31 455.8 L370.59 455.46 L370.87 455.11 L371.15 454.77 L371.43 454.43 L371.7 454.09 L371.98 453.75 L372.25 453.41 L372.52 453.07 L372.79 452.74 L373.06 452.4 L373.33 452.07 L373.63 451.7 L373.93 451.32 L374.23 450.95 L374.52 450.58 L374.81 450.21 L375.11 449.85 L375.4 449.48 L375.69 449.11 L375.97 448.75 L376.26 448.39 L376.54 448.03 L376.83 447.67 L377.11 447.31 L377.39 446.96 L377.67 446.6 L377.94 446.25 L378.22 445.9 L378.49 445.55 L378.77 445.2 L379.04 444.85 L379.31 444.5 L379.58 444.16 L379.84 443.81 L380.11 443.47 L380.37 443.13 L380.64 442.79 L380.9 442.45 L381.19 442.08 L381.48 441.71 L381.78 441.34 L382.07 440.97 L382.37 440.6 L382.67 440.23 L382.97 439.87 L383.26 439.51 L383.56 439.15 L383.86 438.79 L384.16 438.43 L384.45 438.08 L384.75 437.72 L385.04 437.37 L385.34 437.02 L385.63 436.67 L385.91 436.32 L386.2 435.98 L386.49 435.63 L386.77 435.29 L387.05 434.95 L387.33 434.61 L387.6 434.28 L387.87 433.94 L388.14 433.61 L388.43 433.24 L388.72 432.88 L389 432.52 L389.28 432.16 L389.56 431.8 L389.83 431.45 L390.1 431.09 L390.36 430.74 L390.62 430.39 L390.88 430.05 L391.14 429.7 L391.4 429.36 L391.68 428.99 L391.96 428.62 L392.23 428.25 L392.51 427.88 L392.78 427.52 L393.05 427.16 L393.32 426.8 L393.58 426.45 L393.85 426.09 L394.11 425.74 L394.37 425.39 L394.63 425.05 L394.89 424.7 L395.17 424.33 L395.44 423.97 L395.71 423.6 L395.98 423.24 L396.25 422.88 L396.52 422.53 L396.78 422.17 L397.05 421.82 L397.31 421.47 L397.57 421.13 L397.84 420.76 L398.12 420.4 L398.39 420.03 L398.66 419.67 L398.92 419.32 L399.19 418.96 L399.45 418.61 L399.71 418.27 L399.97 417.92 L400.24 417.56 L400.52 417.2 L400.79 416.84 L401.05 416.48 L401.32 416.13 L401.58 415.79 L401.84 415.44 L402.11 415.08 L402.38 414.72 L402.65 414.37 L402.92 414.02 L403.18 413.67 L403.44 413.33 L403.71 412.97 L403.98 412.61 L404.25 412.26 L404.51 411.91 L404.77 411.57 L405.05 411.21 L405.32 410.86 L405.58 410.51 L405.85 410.17 L406.12 409.82 L406.39 409.46 L406.66 409.12 L406.92 408.78 L407.19 408.43 L407.46 408.08 L407.73 407.74 L408 407.39 L408.27 407.05 L408.54 406.71 L408.81 406.36 L409.08 406.02 L409.36 405.67 L409.63 405.33 L409.91 404.99 L410.18 404.65 L410.46 404.31 L410.73 403.97 L411.01 403.63 L411.29 403.29 L411.56 402.96 L411.84 402.63 L412.12 402.3 L412.4 401.97 L412.68 401.64 L412.96 401.31 L413.25 400.99 L413.54 400.66 L413.82 400.34 L414.11 400.03 L414.4 399.72 L414.7 399.4 L415.01 399.09 L415.31 398.79 L415.62 398.5 L415.95 398.21 L416.28 397.94 L416.62 397.69 L417 397.46 L417.47 397.32 L417.48 397.32" stroke="#0000ff" stroke-width="2.1"/>
<path d="M389.37 485.54 L389.37 486.19 L389.39 486.78 L389.41 487.38 L389.45 487.99 L389.49 488.59 L389.55 489.14 L389.62 489.7 L389.71 490.25 L389.81 490.81 L389.92 491.31 L390.05 491.81 L390.19 492.32 L390.36 492.83 L390.53 493.28 L390.71 493.73 L390.92 494.19 L391.13 494.59 L391.35 494.99 L391.59 495.39 L391.86 495.79 L392.15 496.19 L392.42 496.53 L392.71 496.88 L393.02 497.23 L393.36 497.57 L393.72 497.92 L394.04 498.21 L394.38 498.5 L394.74 498.8 L395.12 499.09 L395.53 499.38 L395.97 499.67 L396.34 499.91 L396.73 500.14 L397.14 500.38 L397.58 500.61 L398.04 500.85 L398.53 501.08 L399.04 501.32 L399.59 501.56 L400.02 501.73 L400.47 501.91 L400.94 502.09 L401.43 502.27 L401.95 502.45 L402.5 502.63 L403.07 502.8 L403.67 502.98 L404.3 503.16 L404.97 503.34 L405.68 503.52 L406.17 503.64 L406.68 503.76 L407.21 503.88 L407.77 504 L408.34 504.12 L408.94 504.24 L409.57 504.36 L410.22 504.48 L410.9 504.6 L411.61 504.72 L412.36 504.84 L413.14 504.96 L413.96 505.08 L414.82 505.2 L415.72 505.32 L416.68 505.44 L417.68 505.56 L418.74 505.69 L419.3 505.75 L419.87 505.81 L420.46 505.87 L421.06 505.93 L421.69 505.99 L422.33 506.05 L423 506.11 L423.68 506.17 L424.39 506.23 L425.13 506.29 L425.88 506.35 L426.67 506.41 L427.48 506.47 L428.33 506.53 L429.2 506.59 L430.12 506.66 L431.06 506.72 L432.05 506.78 L433.07 506.84 L434.14 506.9 L435.26 506.96 L436.43 507.02 L437.65 507.08 L438.93 507.14 L440.27 507.2 L441.68 507.26 L443.17 507.32 L444.73 507.39 L446.39 507.45 L448.14 507.51 L450 507.57 L451.97 507.63 L454.07 507.69 L456.32 507.75 L458.73 507.81 L461.32 507.87 L464.11 507.93" stroke="#0000ff" stroke-width="2.1"/>
<path d="M417.48 397.32 L417.77 397.39 L418.03 397.74 L418.12 398.24 L418.11 398.84 L418.05 399.37 L417.96 399.89 L417.85 400.4 L417.74 400.88 L417.61 401.37 L417.48 401.85 L417.34 402.32 L417.2 402.78 L417.06 403.24 L416.92 403.7 L416.76 404.16 L416.61 404.61 L416.46 405.06 L416.3 405.51 L416.15 405.96 L415.99 406.41 L415.83 406.85 L415.66 407.31 L415.5 407.76 L415.33 408.2 L415.16 408.66 L415 409.1 L414.83 409.54 L414.66 409.98 L414.49 410.42 L414.32 410.86 L414.15 411.31 L413.98 411.75 L413.8 412.2 L413.63 412.63 L413.46 413.07 L413.28 413.52 L413.11 413.95 L412.94 414.39 L412.76 414.83 L412.58 415.28 L412.41 415.72 L412.23 416.16 L412.05 416.6 L411.87 417.05 L411.69 417.49 L411.52 417.92 L411.34 418.37 L411.16 418.81 L410.98 419.24 L410.81 419.67 L410.63 420.11 L410.45 420.55 L410.26 421 L410.08 421.45 L409.91 421.88 L409.73 422.31 L409.55 422.75 L409.37 423.19 L409.19 423.63 L409 424.08 L408.82 424.53 L408.64 424.96 L408.46 425.39 L408.29 425.83 L408.11 426.27 L407.92 426.71 L407.74 427.16 L407.56 427.61 L407.37 428.07 L407.19 428.49 L407.02 428.92 L406.84 429.36 L406.66 429.79 L406.48 430.23 L406.3 430.68 L406.12 431.12 L405.94 431.57 L405.75 432.03 L405.57 432.48 L405.39 432.91 L405.22 433.34 L405.04 433.77 L404.87 434.21 L404.69 434.65 L404.51 435.09 L404.33 435.53 L404.15 435.98 L403.97 436.43 L403.79 436.88 L403.61 437.33 L403.43 437.79 L403.24 438.25 L403.06 438.72 L402.89 439.15 L402.71 439.58 L402.54 440.02 L402.37 440.45 L402.2 440.89 L402.02 441.34 L401.85 441.78 L401.67 442.23 L401.5 442.68 L401.32 443.13 L401.14 443.59 L400.97 444.04 L400.79 444.5 L400.61 444.97 L400.43 445.43 L400.25 445.9 L400.08 446.37 L399.9 446.84 L399.72 447.31 L399.55 447.75 L399.39 448.19 L399.22 448.63 L399.06 449.07 L398.89 449.52 L398.73 449.97 L398.56 450.42 L398.39 450.87 L398.23 451.32 L398.06 451.78 L397.9 452.24 L397.73 452.7 L397.57 453.16 L397.4 453.62 L397.24 454.09 L397.07 454.56 L396.91 455.03 L396.74 455.5 L396.58 455.98 L396.41 456.45 L396.25 456.93 L396.09 457.41 L395.93 457.9 L395.76 458.38 L395.6 458.87 L395.44 459.36 L395.28 459.85 L395.12 460.34 L394.96 460.84 L394.81 461.29 L394.65 461.75 L394.49 462.2 L394.33 462.66 L394.16 463.12 L394 463.58 L393.83 464.05 L393.66 464.51 L393.48 464.98 L393.31 465.45 L393.14 465.92 L392.96 466.39 L392.79 466.86 L392.61 467.34 L392.44 467.81 L392.27 468.29 L392.1 468.77 L391.93 469.26 L391.77 469.74 L391.61 470.23 L391.46 470.72 L391.31 471.21 L391.16 471.7 L391.03 472.19 L390.9 472.69 L390.78 473.18 L390.67 473.68 L390.57 474.18 L390.47 474.68 L390.37 475.19 L390.27 475.69 L390.17 476.25 L390.07 476.81 L389.98 477.38 L389.9 477.94 L389.82 478.51 L389.74 479.08 L389.68 479.65 L389.61 480.22 L389.56 480.8 L389.51 481.38 L389.48 481.96 L389.45 482.54 L389.42 483.12 L389.4 483.71 L389.38 484.3 L389.37 484.89 L389.37 485.54" stroke="#0000ff" stroke-width="2.4" stroke-dasharray="6.4 5.9" stroke-dashoffset="1" stroke-linecap="butt"/>
<path d="M282.56 505.62 L283.18 505.56 L283.79 505.5 L284.38 505.44 L284.96 505.38 L285.52 505.32 L286.07 505.26 L287.09 505.14 L288.03 505.02 L288.9 504.9 L289.69 504.78 L290.43 504.66 L291.11 504.54 L291.74 504.42 L292.32 504.3 L292.86 504.18 L293.37 504.06 L294.08 503.88 L294.73 503.7 L295.34 503.52 L295.91 503.34 L296.46 503.16 L297 502.98 L297.54 502.8 L298.08 502.63 L298.63 502.45 L299.2 502.27 L299.8 502.09 L300.42 501.91 L301.09 501.73 L301.8 501.56 L302.29 501.44 L303.01 501.26 L303.71 501.08 L304.39 500.91 L305.05 500.73 L305.69 500.55 L306.32 500.38 L306.94 500.2 L307.54 500.02 L308.12 499.85 L308.7 499.67 L309.26 499.5 L309.8 499.32 L310.34 499.15 L310.87 498.97 L311.38 498.8 L311.89 498.62 L312.39 498.45 L312.88 498.27 L313.35 498.1 L313.83 497.92 L314.29 497.75 L314.74 497.57 L315.19 497.4 L315.63 497.23 L316.06 497.05 L316.49 496.88 L317.05 496.65 L317.6 496.42 L318.14 496.19 L318.67 495.96 L319.18 495.73 L319.69 495.5 L320.2 495.27 L320.69 495.04 L321.17 494.81 L321.65 494.59 L322.12 494.36 L322.59 494.13 L323.04 493.9 L323.49 493.68 L323.94 493.45 L324.37 493.22 L324.81 493 L325.23 492.77 L325.65 492.55 L326.07 492.32 L326.49 492.1 L326.91 491.87 L327.34 491.65 L327.77 491.42 L328.2 491.2 L328.63 490.97 L329.07 490.75 L329.51 490.53 L329.95 490.31 L330.39 490.08 L330.83 489.86 L331.27 489.64 L331.71 489.42 L332.16 489.2 L332.6 488.98 L333.04 488.76 L333.48 488.54 L333.92 488.32 L334.36 488.1 L334.79 487.88 L335.23 487.66 L335.66 487.44 L336.09 487.22 L336.52 487 L336.94 486.78 L337.37 486.57 L337.79 486.35 L338.2 486.13 L338.61 485.91 L339.02 485.7 L339.43 485.48 L339.83 485.27 L340.23 485.05 L340.62 484.83 L341.01 484.62 L341.49 484.35 L341.96 484.08 L342.43 483.82 L342.88 483.55 L343.33 483.28 L343.77 483.02 L344.2 482.75 L344.63 482.48 L345.04 482.22 L345.45 481.96 L345.84 481.69 L346.23 481.43 L346.61 481.16 L346.97 480.9 L347.33 480.64 L347.68 480.38 L348.08 480.06 L348.47 479.75 L348.84 479.44 L349.2 479.13 L349.54 478.82 L349.86 478.51 L350.18 478.2 L350.5 477.89 L350.82 477.58 L351.13 477.27 L351.44 476.97 L351.75 476.66 L352.05 476.35 L352.35 476.05 L352.66 475.74 L352.96 475.44 L353.25 475.14 L353.6 474.78 L353.94 474.43 L354.28 474.08 L354.61 473.73 L354.95 473.38 L355.28 473.03 L355.61 472.69 L355.94 472.34 L356.26 471.99 L356.58 471.65 L356.9 471.3 L357.22 470.96 L357.54 470.62 L357.85 470.28 L358.17 469.94 L358.48 469.6 L358.78 469.26 L359.09 468.92 L359.39 468.58 L359.7 468.25 L360 467.91 L360.3 467.58 L360.59 467.24 L360.89 466.91 L361.18 466.58 L361.47 466.25 L361.77 465.92 L362.05 465.59 L362.34 465.26 L362.63 464.93 L362.91 464.6 L363.19 464.28 L363.47 463.95 L363.75 463.63 L364.03 463.31 L364.35 462.94 L364.66 462.57 L364.97 462.2 L365.29 461.84 L365.59 461.47 L365.9 461.11 L366.21 460.75 L366.51 460.39 L366.81 460.03 L367.11 459.67 L367.41 459.31 L367.71 458.96 L368 458.6 L368.3 458.25 L368.59 457.9 L368.88 457.54 L369.17 457.19 L369.46 456.84 L369.74 456.5 L370.03 456.15 L370.31 455.8 L370.59 455.46 L370.87 455.11 L371.15 454.77 L371.43 454.43 L371.7 454.09 L371.98 453.75 L372.25 453.41 L372.52 453.07 L372.79 452.74 L373.06 452.4 L373.33 452.07 L373.63 451.7 L373.93 451.32 L374.23 450.95 L374.52 450.58 L374.81 450.21 L375.11 449.85 L375.4 449.48 L375.69 449.11 L375.97 448.75 L376.26 448.39 L376.54 448.03 L376.83 447.67 L377.11 447.31 L377.39 446.96 L377.67 446.6 L377.94 446.25 L378.22 445.9 L378.49 445.55 L378.77 445.2 L379.04 444.85 L379.31 444.5 L379.58 444.16 L379.84 443.81 L380.11 443.47 L380.37 443.13 L380.64 442.79 L380.9 442.45 L381.19 442.08 L381.48 441.71 L381.78 441.34 L382.07 440.97 L382.37 440.6 L382.67 440.23 L382.97 439.87 L383.26 439.51 L383.56 439.15 L383.86 438.79 L384.16 438.43 L384.45 438.08 L384.75 437.72 L385.04 437.37 L385.34 437.02 L385.63 436.67 L385.91 436.32 L386.2 435.98 L386.49 435.63 L386.77 435.29 L387.05 434.95 L387.33 434.61 L387.6 434.28 L387.87 433.94 L388.14 433.61 L388.43 433.24 L388.72 432.88 L389 432.52 L389.28 432.16 L389.56 431.8 L389.83 431.45 L390.1 431.09 L390.36 430.74 L390.62 430.39 L390.88 430.05 L391.14 429.7 L391.4 429.36 L391.68 428.99 L391.96 428.62 L392.23 428.25 L392.51 427.88 L392.78 427.52 L393.05 427.16 L393.32 426.8 L393.58 426.45 L393.85 426.09 L394.11 425.74 L394.37 425.39 L394.63 425.05 L394.89 424.7 L395.17 424.33 L395.44 423.97 L395.71 423.6 L395.98 423.24 L396.25 422.88 L396.52 422.53 L396.78 422.17 L397.05 421.82 L397.31 421.47 L397.57 421.13 L397.84 420.76 L398.12 420.4 L398.39 420.03 L398.66 419.67 L398.92 419.32 L399.19 418.96 L399.45 418.61 L399.71 418.27 L399.97 417.92 L400.24 417.56 L400.52 417.2 L400.79 416.84 L401.05 416.48 L401.32 416.13 L401.58 415.79 L401.84 415.44 L402.11 415.08 L402.38 414.72 L402.65 414.37 L402.92 414.02 L403.18 413.67 L403.44 413.33 L403.71 412.97 L403.98 412.61 L404.25 412.26 L404.51 411.91 L404.77 411.57 L405.05 411.21 L405.32 410.86 L405.58 410.51 L405.85 410.17 L406.12 409.82 L406.39 409.46 L406.66 409.12 L406.92 408.78 L407.19 408.43 L407.46 408.08 L407.73 407.74 L408 407.39 L408.27 407.05 L408.54 406.71 L408.81 406.36 L409.08 406.02 L409.36 405.67 L409.63 405.33 L409.91 404.99 L410.18 404.65 L410.46 404.31 L410.73 403.97 L411.01 403.63 L411.29 403.29 L411.56 402.96 L411.84 402.63 L412.12 402.3 L412.4 401.97 L412.68 401.64 L412.96 401.31 L413.25 400.99 L413.54 400.66 L413.82 400.34 L414.11 400.03 L414.4 399.72 L414.7 399.4 L415.01 399.09 L415.31 398.79 L415.62 398.5 L415.95 398.21 L416.28 397.94 L416.62 397.69 L417 397.46 L417.47 397.32 L417.48 397.32 L417.5 397.32 L417.5 505.54 L417.68 505.56 L418.74 505.69 L419.3 505.75 L419.87 505.81 L420.46 505.87 L421.06 505.93 L421.69 505.99 L422.33 506.05 L423 506.11 L423.68 506.17 L424.39 506.23 L425.13 506.29 L425.88 506.35 L426.67 506.41 L427.48 506.47 L428.33 506.53 L429.2 506.59 L430.12 506.66 L431.06 506.72 L432.05 506.78 L433.07 506.84 L434.14 506.9 L435.26 506.96 L436.43 507.02 L437.65 507.08 L438.93 507.14 L440.27 507.2 L441.68 507.26 L443.17 507.32 L444.73 507.39 L446.39 507.45 L448.14 507.51 L450 507.57 L451.97 507.63 L454.07 507.69 L456.32 507.75 L458.73 507.81 L461.32 507.87 L464.11 507.93" stroke="#000000" stroke-width="0.9"/>
<path d="M281.5 501.5 L281.5 509.5 L288.4 505.5ZM285.16 501.1 L285.16 509.1 L292.06 505.1ZM288.81 500.54 L288.81 508.54 L295.71 504.54ZM292.47 499.69 L292.47 507.69 L299.37 503.69ZM296.12 498.51 L296.12 506.51 L303.02 502.51ZM299.78 497.49 L299.78 505.49 L306.68 501.49ZM303.44 496.54 L303.44 504.54 L310.34 500.54ZM307.09 495.45 L307.09 503.45 L313.99 499.45ZM310.75 494.21 L310.75 502.21 L317.65 498.21ZM314.4 492.79 L314.4 500.79 L321.3 496.79ZM318.06 491.2 L318.06 499.2 L324.96 495.2ZM321.72 489.41 L321.72 497.41 L328.62 493.41ZM325.37 487.47 L325.37 495.47 L332.27 491.47ZM329.03 485.61 L329.03 493.61 L335.93 489.61ZM332.68 483.78 L332.68 491.78 L339.58 487.78ZM336.34 481.9 L336.34 489.9 L343.24 485.9ZM340 479.89 L340 487.89 L346.9 483.89ZM343.65 477.62 L343.65 485.62 L350.55 481.62ZM347.31 474.75 L347.31 482.75 L354.21 478.75ZM350.96 471.13 L350.96 479.13 L357.86 475.13ZM354.62 467.29 L354.62 475.29 L361.52 471.29ZM358.28 463.26 L358.28 471.26 L365.18 467.26ZM361.93 459.07 L361.93 467.07 L368.83 463.07ZM365.59 454.74 L365.59 462.74 L372.49 458.74ZM369.24 450.29 L369.24 458.29 L376.14 454.29ZM372.9 445.73 L372.9 453.73 L379.8 449.73ZM376.56 441.08 L376.56 449.08 L383.46 445.08ZM380.21 436.42 L380.21 444.42 L387.11 440.42ZM383.87 432.02 L383.87 440.02 L390.77 436.02ZM387.52 427.45 L387.52 435.45 L394.42 431.45ZM391.18 422.59 L391.18 430.59 L398.08 426.59ZM394.84 417.7 L394.84 425.7 L401.74 421.7ZM398.49 412.83 L398.49 420.83 L405.39 416.83ZM402.15 408 L402.15 416 L409.05 412ZM405.8 403.26 L405.8 411.26 L412.7 407.26ZM409.46 398.72 L409.46 406.72 L416.36 402.72ZM413.12 394.7 L413.12 402.7 L420.02 398.7ZM416.77 501.72 L416.77 509.72 L423.67 505.72ZM420.43 502.08 L420.43 510.08 L427.33 506.08ZM424.08 502.39 L424.08 510.39 L430.98 506.39ZM427.74 502.65 L427.74 510.65 L434.64 506.65ZM431.4 502.87 L431.4 510.87 L438.3 506.87ZM435.05 503.07 L435.05 511.07 L441.95 507.07ZM438.71 503.23 L438.71 511.23 L445.61 507.23ZM442.36 503.38 L442.36 511.38 L449.26 507.38ZM446.02 503.51 L446.02 511.51 L452.92 507.51ZM449.68 503.63 L449.68 511.63 L456.58 507.63ZM453.33 503.73 L453.33 511.73 L460.23 507.73ZM456.99 503.83 L456.99 511.83 L463.89 507.83ZM460.64 503.91 L460.64 511.91 L467.54 507.91Z" stroke="#1a1a1a" stroke-width="0.6" stroke-linejoin="miter"/>
<path d="M282.56 505.62 L283.18 505.56 L283.79 505.5 L284.38 505.44 L284.96 505.38 L285.52 505.32 L286.07 505.26 L287.09 505.14 L288.03 505.02 L288.9 504.9 L289.69 504.78 L290.43 504.66 L291.11 504.54 L291.74 504.42 L292.32 504.3 L292.86 504.18 L293.37 504.06 L294.08 503.88 L294.73 503.7 L295.34 503.52 L295.91 503.34 L296.46 503.16 L297 502.98 L297.54 502.8 L298.08 502.63 L298.63 502.45 L299.2 502.27 L299.8 502.09 L300.42 501.91 L301.09 501.73 L301.8 501.56 L302.29 501.44 L303.01 501.26 L303.71 501.08 L304.39 500.91 L305.05 500.73 L305.69 500.55 L306.32 500.38 L306.94 500.2 L307.54 500.02 L308.12 499.85 L308.7 499.67 L309.26 499.5 L309.8 499.32 L310.34 499.15 L310.87 498.97 L311.38 498.8 L311.89 498.62 L312.39 498.45 L312.88 498.27 L313.35 498.1 L313.83 497.92 L314.29 497.75 L314.74 497.57 L315.19 497.4 L315.63 497.23 L316.06 497.05 L316.49 496.88 L317.05 496.65 L317.6 496.42 L318.14 496.19 L318.67 495.96 L319.18 495.73 L319.69 495.5 L320.2 495.27 L320.69 495.04 L321.17 494.81 L321.65 494.59 L322.12 494.36 L322.59 494.13 L323.04 493.9 L323.49 493.68 L323.94 493.45 L324.37 493.22 L324.81 493 L325.23 492.77 L325.65 492.55 L326.07 492.32 L326.49 492.1 L326.91 491.87 L327.34 491.65 L327.77 491.42 L328.2 491.2 L328.63 490.97 L329.07 490.75 L329.51 490.53 L329.95 490.31 L330.39 490.08 L330.83 489.86 L331.27 489.64 L331.71 489.42 L332.16 489.2 L332.6 488.98 L333.04 488.76 L333.48 488.54 L333.92 488.32 L334.36 488.1 L334.79 487.88 L335.23 487.66 L335.66 487.44 L336.09 487.22 L336.52 487 L336.94 486.78 L337.37 486.57 L337.79 486.35 L338.2 486.13 L338.61 485.91 L339.02 485.7 L339.43 485.48 L339.83 485.27 L340.23 485.05 L340.62 484.83 L341.01 484.62 L341.49 484.35 L341.96 484.08 L342.43 483.82 L342.88 483.55 L343.33 483.28 L343.77 483.02 L344.2 482.75 L344.63 482.48 L345.04 482.22 L345.45 481.96 L345.84 481.69 L346.23 481.43 L346.61 481.16 L346.97 480.9 L347.33 480.64 L347.68 480.38 L348.08 480.06 L348.47 479.75 L348.84 479.44 L349.2 479.13 L349.54 478.82 L349.86 478.51 L350.18 478.2 L350.5 477.89 L350.82 477.58 L351.13 477.27 L351.44 476.97 L351.75 476.66 L352.05 476.35 L352.35 476.05 L352.66 475.74 L352.96 475.44 L353.25 475.14 L353.6 474.78 L353.94 474.43 L354.28 474.08 L354.61 473.73 L354.95 473.38 L355.28 473.03 L355.61 472.69 L355.94 472.34 L356.26 471.99 L356.58 471.65 L356.9 471.3 L357.22 470.96 L357.54 470.62 L357.85 470.28 L358.17 469.94 L358.48 469.6 L358.78 469.26 L359.09 468.92 L359.39 468.58 L359.7 468.25 L360 467.91 L360.3 467.58 L360.59 467.24 L360.89 466.91 L361.18 466.58 L361.47 466.25 L361.77 465.92 L362.05 465.59 L362.34 465.26 L362.63 464.93 L362.91 464.6 L363.19 464.28 L363.47 463.95 L363.75 463.63 L364.03 463.31 L364.35 462.94 L364.66 462.57 L364.97 462.2 L365.29 461.84 L365.59 461.47 L365.9 461.11 L366.21 460.75 L366.51 460.39 L366.81 460.03 L367.11 459.67 L367.41 459.31 L367.71 458.96 L368 458.6 L368.3 458.25 L368.59 457.9 L368.88 457.54 L369.17 457.19 L369.46 456.84 L369.74 456.5 L370.03 456.15 L370.31 455.8 L370.59 455.46 L370.87 455.11 L371.15 454.77 L371.43 454.43 L371.7 454.09 L371.98 453.75 L372.25 453.41 L372.52 453.07 L372.79 452.74 L373.06 452.4 L373.33 452.07 L373.63 451.7 L373.93 451.32 L374.23 450.95 L374.52 450.58 L374.81 450.21 L375.11 449.85 L375.4 449.48 L375.69 449.11 L375.97 448.75 L376.26 448.39 L376.54 448.03 L376.83 447.67 L377.11 447.31 L377.39 446.96 L377.67 446.6 L377.94 446.25 L378.22 445.9 L378.49 445.55 L378.77 445.2 L379.04 444.85 L379.31 444.5 L379.58 444.16 L379.84 443.81 L380.11 443.47 L380.37 443.13 L380.64 442.79 L380.9 442.45 L381.19 442.08 L381.48 441.71 L381.78 441.34 L382.07 440.97 L382.37 440.6 L382.67 440.23 L382.97 439.87 L383.26 439.51 L383.56 439.15 L383.86 438.79 L384.16 438.43 L384.45 438.08 L384.75 437.72 L385.04 437.37 L385.34 437.02 L385.63 436.67 L385.91 436.32 L386.2 435.98 L386.49 435.63 L386.77 435.29 L387.05 434.95 L387.33 434.61 L387.6 434.28 L387.87 433.94 L388.14 433.61 L388.43 433.24 L388.72 432.88 L389 432.52 L389.28 432.16 L389.5 432.05 L389.5 485.54 L389.37 485.54 L389.37 486.19 L389.39 486.78 L389.41 487.38 L389.45 487.99 L389.49 488.59 L389.55 489.14 L389.62 489.7 L389.71 490.25 L389.81 490.81 L389.92 491.31 L390.05 491.81 L390.19 492.32 L390.36 492.83 L390.53 493.28 L390.71 493.73 L390.92 494.19 L391.13 494.59 L391.35 494.99 L391.59 495.39 L391.86 495.79 L392.15 496.19 L392.42 496.53 L392.71 496.88 L393.02 497.23 L393.36 497.57 L393.72 497.92 L394.04 498.21 L394.38 498.5 L394.74 498.8 L395.12 499.09 L395.53 499.38 L395.97 499.67 L396.34 499.91 L396.73 500.14 L397.14 500.38 L397.58 500.61 L398.04 500.85 L398.53 501.08 L399.04 501.32 L399.59 501.56 L400.02 501.73 L400.47 501.91 L400.94 502.09 L401.43 502.27 L401.95 502.45 L402.5 502.63 L403.07 502.8 L403.67 502.98 L404.3 503.16 L404.97 503.34 L405.68 503.52 L406.17 503.64 L406.68 503.76 L407.21 503.88 L407.77 504 L408.34 504.12 L408.94 504.24 L409.57 504.36 L410.22 504.48 L410.9 504.6 L411.61 504.72 L412.36 504.84 L413.14 504.96 L413.96 505.08 L414.82 505.2 L415.72 505.32 L416.68 505.44 L417.68 505.56 L418.74 505.69 L419.3 505.75 L419.87 505.81 L420.46 505.87 L421.06 505.93 L421.69 505.99 L422.33 506.05 L423 506.11 L423.68 506.17 L424.39 506.23 L425.13 506.29 L425.88 506.35 L426.67 506.41 L427.48 506.47 L428.33 506.53 L429.2 506.59 L430.12 506.66 L431.06 506.72 L432.05 506.78 L433.07 506.84 L434.14 506.9 L435.26 506.96 L436.43 507.02 L437.65 507.08 L438.93 507.14 L440.27 507.2 L441.68 507.26 L443.17 507.32 L444.73 507.39 L446.39 507.45 L448.14 507.51 L450 507.57 L451.97 507.63 L454.07 507.69 L456.32 507.75 L458.73 507.81 L461.32 507.87 L464.11 507.93" stroke="#ff0000" stroke-width="0.9"/>
<path d="M286.1 501.5 L286.1 509.5 L279.2 505.5ZM289.76 501.1 L289.76 509.1 L282.86 505.1ZM293.41 500.54 L293.41 508.54 L286.51 504.54ZM297.07 499.69 L297.07 507.69 L290.17 503.69ZM300.72 498.51 L300.72 506.51 L293.82 502.51ZM304.38 497.49 L304.38 505.49 L297.48 501.49ZM308.04 496.54 L308.04 504.54 L301.14 500.54ZM311.69 495.45 L311.69 503.45 L304.79 499.45ZM315.35 494.21 L315.35 502.21 L308.45 498.21ZM319 492.79 L319 500.79 L312.1 496.79ZM322.66 491.2 L322.66 499.2 L315.76 495.2ZM326.32 489.41 L326.32 497.41 L319.42 493.41ZM329.97 487.47 L329.97 495.47 L323.07 491.47ZM333.63 485.61 L333.63 493.61 L326.73 489.61ZM337.28 483.78 L337.28 491.78 L330.38 487.78ZM340.94 481.9 L340.94 489.9 L334.04 485.9ZM344.6 479.89 L344.6 487.89 L337.7 483.89ZM348.25 477.62 L348.25 485.62 L341.35 481.62ZM351.91 474.75 L351.91 482.75 L345.01 478.75ZM355.56 471.13 L355.56 479.13 L348.66 475.13ZM359.22 467.29 L359.22 475.29 L352.32 471.29ZM362.88 463.26 L362.88 471.26 L355.98 467.26ZM366.53 459.07 L366.53 467.07 L359.63 463.07ZM370.19 454.74 L370.19 462.74 L363.29 458.74ZM373.84 450.29 L373.84 458.29 L366.94 454.29ZM377.5 445.73 L377.5 453.73 L370.6 449.73ZM381.16 441.08 L381.16 449.08 L374.26 445.08ZM384.81 436.42 L384.81 444.42 L377.91 440.42ZM388.47 432.02 L388.47 440.02 L381.57 436.02ZM392.12 486.87 L392.12 494.87 L385.22 490.87ZM395.78 493.7 L395.78 501.7 L388.88 497.7ZM399.44 496.37 L399.44 504.37 L392.54 500.37ZM403.09 498.04 L403.09 506.04 L396.19 502.04ZM406.75 499.2 L406.75 507.2 L399.85 503.2ZM410.4 500.07 L410.4 508.07 L403.5 504.07ZM414.06 500.74 L414.06 508.74 L407.16 504.74ZM417.72 501.28 L417.72 509.28 L410.82 505.28ZM421.37 501.72 L421.37 509.72 L414.47 505.72ZM425.03 502.08 L425.03 510.08 L418.13 506.08ZM428.68 502.39 L428.68 510.39 L421.78 506.39ZM432.34 502.65 L432.34 510.65 L425.44 506.65ZM436 502.87 L436 510.87 L429.1 506.87ZM439.65 503.07 L439.65 511.07 L432.75 507.07ZM443.31 503.23 L443.31 511.23 L436.41 507.23ZM446.96 503.38 L446.96 511.38 L440.06 507.38ZM450.62 503.51 L450.62 511.51 L443.72 507.51ZM454.28 503.63 L454.28 511.63 L447.38 507.63ZM457.93 503.73 L457.93 511.73 L451.03 507.73ZM461.59 503.83 L461.59 511.83 L454.69 507.83ZM465.24 503.91 L465.24 511.91 L458.34 507.91Z" stroke="#ff0000" stroke-width="0.6" stroke-linejoin="miter"/>
</g>
<text transform="translate(18.6 107.85) rotate(-90)" text-anchor="middle" font-size="17">&#916;<tspan font-size="10.5" dy="3.8">m</tspan><tspan dy="-3.8">/2&#960;(MHz)</tspan></text>
<text transform="translate(18.6 274) rotate(-90)" text-anchor="middle" font-size="17">&#916;<tspan font-size="10.5" dy="3.8">m</tspan><tspan dy="-3.8">/2&#960;(MHz)</tspan></text>
<text transform="translate(18.6 439.2) rotate(-90)" text-anchor="middle" font-size="17">&#916;<tspan font-size="10.5" dy="3.8">m</tspan><tspan dy="-3.8">/2&#960;(MHz)</tspan></text>
<text x="147.4" y="543.8" text-anchor="middle" font-size="17">&#969;<tspan font-size="10.5" dy="3.9">d</tspan><tspan dy="-3.9">/2&#960;(GHz)</tspan></text>
<text x="373.9" y="543.8" text-anchor="middle" font-size="17">&#969;<tspan font-size="10.5" dy="3.9">d</tspan><tspan dy="-3.9">/2&#960;(GHz)</tspan></text>
<rect x="387.4" y="97" width="73.9" height="59.1" fill="#fff" stroke="#858585" stroke-width="0.85"/>
<path d="M407 156.1v-2M431.4 156.1v-2M456 156.1v-2M387.4 121.3h2" stroke="#808080" stroke-width="0.8" fill="none"/>
<text x="386.4" y="124.5" text-anchor="end" font-size="10">90</text>
<text x="386.4" y="159.4" text-anchor="end" font-size="10">80</text>
<text x="431.6" y="165.3" text-anchor="middle" font-size="10">10.115</text>
<path d="M392.5 155.3 Q 421.85 125.26 456.3 101.2" stroke="#0000ff" stroke-width="1.9" fill="none" stroke-linecap="round"/>
<path d="M392.5 155.3 Q 424.6 128.5 456.3 101.2" stroke="#0000ff" stroke-width="2.4" fill="none" stroke-dasharray="6 4.7"/>
<path d="M417.7 80.4L430 91.2" stroke="#000" stroke-width="1.5" fill="none"/>
<path d="M435.2 95.8L425.1 91.3L428.3 89.7L429.3 86.4Z" fill="#000"/>
</svg>
</body></html>
